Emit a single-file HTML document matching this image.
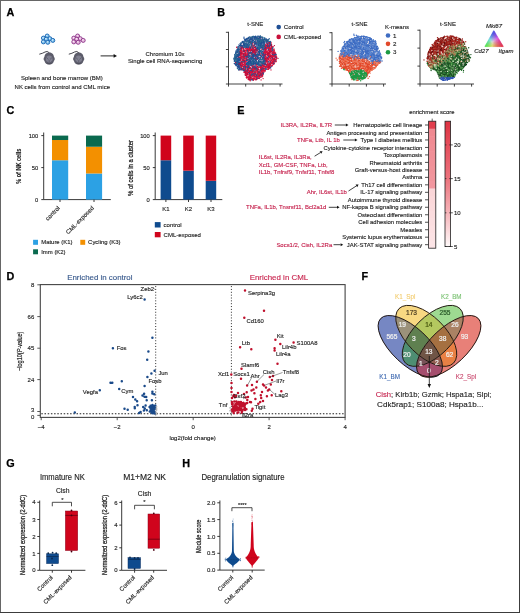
<!DOCTYPE html>
<html><head><meta charset="utf-8"><style>
html,body{margin:0;padding:0;background:#fff;}
body{width:520px;height:613px;overflow:hidden;position:relative;}
svg{position:absolute;left:0;top:0;will-change:transform;}
svg text{font-family:"Liberation Sans", sans-serif;}
</style></head><body>
<svg width="520" height="613" viewBox="0 0 520 613">
<rect x="0" y="0" width="520" height="613" fill="#fff"/>
<text x="6.5" y="16.2" font-size="10.8" text-anchor="start" fill="#000" stroke="#000" stroke-width="0.25" font-weight="bold" >A</text>
<text x="217.2" y="15.9" font-size="10.8" text-anchor="start" fill="#000" stroke="#000" stroke-width="0.25" font-weight="bold" >B</text>
<text x="6.5" y="113.9" font-size="10.8" text-anchor="start" fill="#000" stroke="#000" stroke-width="0.25" font-weight="bold" >C</text>
<text x="237.2" y="113.9" font-size="10.8" text-anchor="start" fill="#000" stroke="#000" stroke-width="0.25" font-weight="bold" >E</text>
<text x="6.5" y="279.8" font-size="10.8" text-anchor="start" fill="#000" stroke="#000" stroke-width="0.25" font-weight="bold" >D</text>
<text x="361.5" y="279.6" font-size="10.8" text-anchor="start" fill="#000" stroke="#000" stroke-width="0.25" font-weight="bold" >F</text>
<text x="6.3" y="467.3" font-size="10.8" text-anchor="start" fill="#000" stroke="#000" stroke-width="0.25" font-weight="bold" >G</text>
<text x="182.3" y="467.4" font-size="10.8" text-anchor="start" fill="#000" stroke="#000" stroke-width="0.25" font-weight="bold" >H</text>
<circle cx="47.2" cy="36.0" r="2.0" fill="#82c4ee" stroke="#1d68b4" stroke-width="0.95"/>
<circle cx="43.4" cy="38.099999999999994" r="2.0" fill="#82c4ee" stroke="#1d68b4" stroke-width="0.95"/>
<circle cx="49.9" cy="38.699999999999996" r="2.0" fill="#82c4ee" stroke="#1d68b4" stroke-width="0.95"/>
<circle cx="52.800000000000004" cy="40.4" r="2.0" fill="#82c4ee" stroke="#1d68b4" stroke-width="0.95"/>
<circle cx="46.300000000000004" cy="39.199999999999996" r="2.0" fill="#82c4ee" stroke="#1d68b4" stroke-width="0.95"/>
<circle cx="43.4" cy="41.9" r="2.0" fill="#82c4ee" stroke="#1d68b4" stroke-width="0.95"/>
<circle cx="47.800000000000004" cy="42.3" r="2.0" fill="#82c4ee" stroke="#1d68b4" stroke-width="0.95"/>
<circle cx="46.800000000000004" cy="35.6" r="0.7" fill="#fff" opacity="0.8"/>
<circle cx="43.0" cy="37.699999999999996" r="0.7" fill="#fff" opacity="0.8"/>
<circle cx="49.5" cy="38.3" r="0.7" fill="#fff" opacity="0.8"/>
<circle cx="52.400000000000006" cy="40.0" r="0.7" fill="#fff" opacity="0.8"/>
<circle cx="45.900000000000006" cy="38.8" r="0.7" fill="#fff" opacity="0.8"/>
<circle cx="43.0" cy="41.5" r="0.7" fill="#fff" opacity="0.8"/>
<circle cx="47.400000000000006" cy="41.9" r="0.7" fill="#fff" opacity="0.8"/>
<circle cx="77.6" cy="36.0" r="2.0" fill="#e6b4dc" stroke="#8e3a8c" stroke-width="0.95"/>
<circle cx="73.8" cy="38.099999999999994" r="2.0" fill="#e6b4dc" stroke="#8e3a8c" stroke-width="0.95"/>
<circle cx="80.3" cy="38.699999999999996" r="2.0" fill="#e6b4dc" stroke="#8e3a8c" stroke-width="0.95"/>
<circle cx="83.2" cy="40.4" r="2.0" fill="#e6b4dc" stroke="#8e3a8c" stroke-width="0.95"/>
<circle cx="76.7" cy="39.199999999999996" r="2.0" fill="#e6b4dc" stroke="#8e3a8c" stroke-width="0.95"/>
<circle cx="73.8" cy="41.9" r="2.0" fill="#e6b4dc" stroke="#8e3a8c" stroke-width="0.95"/>
<circle cx="78.2" cy="42.3" r="2.0" fill="#e6b4dc" stroke="#8e3a8c" stroke-width="0.95"/>
<circle cx="77.19999999999999" cy="35.6" r="0.7" fill="#fff" opacity="0.8"/>
<circle cx="73.39999999999999" cy="37.699999999999996" r="0.7" fill="#fff" opacity="0.8"/>
<circle cx="79.89999999999999" cy="38.3" r="0.7" fill="#fff" opacity="0.8"/>
<circle cx="82.8" cy="40.0" r="0.7" fill="#fff" opacity="0.8"/>
<circle cx="76.3" cy="38.8" r="0.7" fill="#fff" opacity="0.8"/>
<circle cx="73.39999999999999" cy="41.5" r="0.7" fill="#fff" opacity="0.8"/>
<circle cx="77.8" cy="41.9" r="0.7" fill="#fff" opacity="0.8"/>
<path d="M39.300000000000004 54.2 Q42.7 53.4 45.0 52.0 Q47.400000000000006 50.400000000000006 49.5 53.0" fill="none" stroke="#3c3c44" stroke-width="0.95"/>
<path d="M49.2 52.6 C52.800000000000004 52.6 53.800000000000004 55.1 54.0 57.1 C55.0 57.800000000000004 55.1 60.2 54.0 60.800000000000004 C53.400000000000006 63.4 51.6 64.6 49.2 64.6 C46.800000000000004 64.6 45.0 63.4 44.400000000000006 60.800000000000004 C43.300000000000004 60.2 43.400000000000006 57.800000000000004 44.400000000000006 57.1 C44.6 55.1 45.6 52.6 49.2 52.6Z" fill="#5c5c6a"/>
<ellipse cx="49.2" cy="59.2" rx="3.3" ry="3.6" fill="#7e7e8e"/>
<path d="M46.2 57.4 L48.400000000000006 59.4 M52.2 57.4 L50.0 59.4 M49.2 60.1 L49.2 62.800000000000004 M46.6 61.2 L48.2 63.2 M51.800000000000004 61.2 L50.2 63.2" stroke="#4a4a58" stroke-width="0.55"/>
<ellipse cx="49.2" cy="63.800000000000004" rx="2.6" ry="0.8" fill="#4a4a55" opacity="0.6"/>
<path d="M68.8 54.2 Q72.2 53.4 74.5 52.0 Q76.9 50.400000000000006 79.0 53.0" fill="none" stroke="#3c3c44" stroke-width="0.95"/>
<path d="M78.7 52.6 C82.3 52.6 83.3 55.1 83.5 57.1 C84.5 57.800000000000004 84.60000000000001 60.2 83.5 60.800000000000004 C82.9 63.4 81.10000000000001 64.6 78.7 64.6 C76.3 64.6 74.5 63.4 73.9 60.800000000000004 C72.8 60.2 72.9 57.800000000000004 73.9 57.1 C74.10000000000001 55.1 75.10000000000001 52.6 78.7 52.6Z" fill="#5c5c6a"/>
<ellipse cx="78.7" cy="59.2" rx="3.3" ry="3.6" fill="#7e7e8e"/>
<path d="M75.7 57.4 L77.9 59.4 M81.7 57.4 L79.5 59.4 M78.7 60.1 L78.7 62.800000000000004 M76.10000000000001 61.2 L77.7 63.2 M81.3 61.2 L79.7 63.2" stroke="#4a4a58" stroke-width="0.55"/>
<ellipse cx="78.7" cy="63.800000000000004" rx="2.6" ry="0.8" fill="#4a4a55" opacity="0.6"/>
<text x="61.9" y="79.6" font-size="6" text-anchor="middle" fill="#222" stroke="#222" stroke-width="0.13" >Spleen and bone marrow (BM)</text>
<text x="62.3" y="88.6" font-size="6" text-anchor="middle" fill="#222" stroke="#222" stroke-width="0.13" >NK cells from control and CML mice</text>
<path d="M100.6 55.9 H115" stroke="#111" stroke-width="0.9"/><path d="M113.6 54.1 L117 55.9 L113.6 57.7 Z" fill="#111"/>
<text x="165.0" y="55.6" font-size="6" text-anchor="middle" fill="#222" stroke="#222" stroke-width="0.13" >Chromium 10x</text>
<text x="165.2" y="63.3" font-size="6" text-anchor="middle" fill="#222" stroke="#222" stroke-width="0.13" >Single cell RNA-sequencing</text>
<path d="M228.5 31.799999999999997 V84.0 H282.5" fill="none" stroke="#222" stroke-width="0.85"/><path d="M228.5 84.0 h-2.6 M228.5 84.0 v2.6 M228.5 66.8 h-2.6 M245.7 84.0 v2.6 M228.5 49.5 h-2.6 M262.9 84.0 v2.6 M228.5 32.3 h-2.6 M280.1 84.0 v2.6 " stroke="#222" stroke-width="0.85"/>
<text x="255.3" y="25.8" font-size="6" text-anchor="middle" fill="#222" stroke="#222" stroke-width="0.13" >t-SNE</text>
<path d="M245.9 39.9 L251.4 37.6 L259.0 37.1 L265.5 39.3 L269.8 42.0 L270.8 45.8 L272.5 49.1 L274.1 53.4 L275.7 57.7 L275.2 61.0 L272.5 64.2 L268.7 68.5 L265.5 69.7 L263.3 71.8 L262.2 75.1 L260.0 77.3 L255.7 78.9 L250.2 79.4 L247.0 77.3 L245.3 72.9 L243.8 69.7 L240.5 69.1 L237.8 67.5 L235.6 63.2 L235.1 58.8 L236.1 53.4 L237.8 49.1 L240.5 44.7 L243.2 42.0Z" fill="#7a3a6a" opacity="0.18"/>
<path d="M243.6 60.4h0M271.9 57.0h0M250.7 72.4h0M265.1 44.7h0M273.3 52.6h0M243.5 49.0h0M244.2 56.2h0M258.5 69.4h0M241.3 55.3h0M270.5 55.4h0M272.8 56.0h0M252.4 79.5h0M273.5 61.9h0M254.4 71.6h0M261.2 75.3h0M251.9 57.0h0M265.2 52.7h0M268.2 52.7h0M255.2 67.8h0M257.0 67.5h0M244.7 56.6h0M268.6 66.2h0M263.2 74.1h0M258.3 73.7h0M266.9 53.3h0M264.0 70.3h0M274.2 59.1h0M246.2 68.0h0M254.5 52.8h0M271.4 46.2h0M247.0 54.7h0M246.0 51.6h0M246.2 66.6h0M266.9 60.3h0M257.3 71.1h0M268.0 69.0h0M271.7 57.6h0M262.7 57.9h0M268.6 64.1h0M257.2 78.5h0M271.6 63.1h0M271.7 55.3h0M240.1 58.2h0M246.6 56.6h0M265.3 52.0h0M251.0 42.7h0M276.8 57.2h0M251.5 45.6h0M265.4 63.3h0M253.9 70.4h0M261.8 76.1h0M242.7 61.2h0M269.6 44.5h0M265.5 48.6h0M245.3 55.1h0M249.1 74.9h0M252.3 50.7h0M251.7 47.0h0M273.8 56.8h0M263.3 65.2h0M248.8 79.5h0M248.4 70.0h0M271.1 43.2h0M265.0 51.8h0M262.3 75.9h0M257.2 78.1h0M274.1 55.5h0M254.3 76.6h0M270.4 43.4h0M236.6 55.6h0M254.5 54.6h0M259.1 76.4h0M246.3 77.1h0M252.4 49.5h0M274.1 53.5h0M250.2 74.8h0M240.8 46.6h0M242.8 55.6h0M253.0 58.0h0M267.2 60.8h0M266.6 48.5h0M241.7 54.0h0M241.9 58.5h0M272.1 59.0h0M247.6 70.6h0M249.6 75.7h0M269.2 46.9h0M266.2 57.6h0M268.3 53.2h0M245.5 67.6h0M269.1 53.1h0M243.0 56.1h0M262.7 69.4h0M268.7 58.3h0M246.6 57.0h0M266.5 59.8h0M263.3 58.9h0M274.7 54.6h0M242.0 50.6h0M272.7 61.3h0M266.7 51.9h0M241.7 63.3h0M254.4 52.6h0M262.0 68.4h0M246.0 75.0h0M270.3 54.6h0M247.1 52.9h0M246.3 74.2h0M246.9 66.0h0M272.2 51.0h0M252.6 70.9h0M254.5 52.8h0M272.4 60.6h0M270.3 48.0h0M260.8 70.8h0M252.6 53.1h0M259.7 53.8h0M254.7 55.6h0M257.8 51.9h0M271.3 62.1h0M266.8 45.6h0M264.4 63.8h0M250.7 76.0h0M244.8 52.1h0M267.1 53.2h0M258.8 73.6h0M267.1 47.9h0M242.5 68.7h0M254.2 70.3h0M270.4 44.1h0M260.9 73.4h0M257.9 75.9h0M254.1 67.6h0M261.3 74.9h0M239.9 60.5h0M250.4 80.0h0M249.6 68.0h0M268.5 49.1h0M245.8 71.8h0M261.2 64.2h0M239.0 53.7h0M247.1 76.7h0M272.3 55.6h0M273.3 61.3h0M255.9 66.6h0M246.6 77.0h0M256.4 52.0h0M252.6 75.2h0M245.2 64.1h0M255.7 47.7h0M243.7 50.2h0M243.7 70.0h0M270.9 56.5h0M252.7 52.4h0M256.7 48.6h0M243.6 44.4h0M252.0 65.9h0M264.3 51.0h0M242.2 60.5h0M273.6 64.2h0M260.2 55.7h0M249.7 59.7h0M246.8 64.2h0M268.1 48.8h0M262.3 67.7h0M264.9 70.7h0M261.4 65.7h0M261.2 53.8h0M265.6 56.2h0M259.6 74.4h0M275.3 59.7h0M242.1 63.5h0M272.5 53.6h0M242.2 69.2h0M271.4 55.4h0M257.5 58.1h0M257.4 71.6h0M275.9 61.8h0M244.7 58.4h0M265.9 50.1h0M263.9 72.3h0M271.9 60.4h0M254.1 75.8h0M240.0 60.0h0M253.4 79.6h0M267.0 43.3h0M243.8 59.2h0M240.7 58.6h0M274.0 61.5h0M248.7 56.0h0M257.6 74.3h0M240.7 64.2h0M262.2 68.2h0M253.2 67.5h0M254.1 58.5h0M274.9 52.4h0M264.0 71.5h0M271.2 62.4h0M261.8 77.0h0M249.1 71.2h0M247.1 61.1h0M257.9 56.5h0M250.5 68.7h0M273.5 63.6h0M274.9 60.0h0M245.6 65.6h0M252.6 43.1h0M269.0 67.5h0M251.0 78.1h0M243.5 48.3h0M253.0 76.1h0M275.5 61.5h0M255.9 58.1h0M270.5 43.1h0M251.6 75.5h0M251.9 74.3h0M247.9 51.8h0M251.9 45.5h0M272.9 59.2h0M269.5 43.3h0M264.3 59.9h0M253.0 75.2h0M258.5 67.4h0M258.1 54.1h0M242.4 65.8h0M252.6 78.2h0M269.6 50.1h0M265.4 55.0h0M261.1 67.2h0M251.8 71.6h0M245.2 69.6h0M267.0 51.5h0M266.6 58.7h0M250.2 72.8h0M240.9 61.6h0M246.6 75.4h0M268.0 62.4h0M240.8 51.9h0M247.8 55.0h0M264.9 65.9h0M248.5 55.0h0M251.0 65.0h0M268.5 57.1h0M267.0 52.4h0M268.7 59.2h0M253.9 50.5h0M267.7 65.2h0M269.6 52.6h0M264.3 47.7h0M245.2 65.9h0M264.3 57.7h0M261.0 74.6h0M271.8 63.1h0M254.5 51.2h0M254.2 50.7h0M240.7 58.6h0M264.0 55.6h0M247.4 52.9h0M272.1 56.6h0M240.5 50.9h0M246.7 71.2h0M262.2 67.6h0M246.9 73.0h0M247.3 57.5h0M262.1 75.2h0M262.0 75.0h0M268.9 42.5h0M263.8 45.4h0M245.5 64.4h0M271.9 48.6h0M273.0 54.0h0M259.3 72.5h0M260.7 53.9h0M268.1 55.2h0M264.7 59.2h0M268.1 63.8h0M274.6 55.0h0M250.4 50.7h0M254.1 54.0h0M251.5 52.9h0M245.9 70.2h0M264.9 66.4h0M269.4 54.9h0M263.0 53.7h0M249.4 61.5h0M273.3 53.4h0M249.5 75.0h0M255.7 68.3h0M254.4 51.5h0M246.3 77.6h0M256.3 42.6h0M246.5 72.5h0M258.7 71.3h0M247.6 48.4h0M265.5 60.0h0M247.2 64.6h0M267.5 44.9h0M265.4 45.5h0M260.6 45.5h0M256.9 67.2h0M249.4 48.1h0M236.2 57.8h0M265.5 46.4h0M270.6 63.8h0M244.7 70.9h0M267.7 41.8h0M249.0 76.2h0M249.5 77.9h0M274.8 56.2h0M258.3 75.7h0M251.3 39.4h0M265.8 61.5h0M263.4 58.2h0M244.0 72.4h0M264.0 49.6h0M267.5 41.7h0M250.7 73.1h0M243.7 58.0h0M274.8 61.5h0M274.5 52.8h0M264.5 46.8h0M270.8 43.7h0M252.2 66.1h0M242.2 68.8h0M266.3 49.6h0M247.2 66.8h0M255.2 53.7h0M242.4 60.0h0M247.6 48.1h0M246.1 58.2h0M251.3 75.0h0M254.5 73.6h0M258.6 76.6h0M266.8 65.6h0M245.9 62.3h0M266.0 50.2h0M265.2 46.5h0M257.4 76.8h0M267.1 51.2h0M251.5 49.0h0M241.6 58.7h0M262.0 69.2h0M262.4 73.9h0M245.4 66.6h0M255.4 77.0h0M271.1 45.5h0M273.5 51.1h0M261.0 64.8h0M268.9 56.0h0M255.0 72.5h0M248.1 73.1h0M255.1 51.5h0M261.4 73.5h0M247.7 50.0h0M250.0 50.8h0M243.0 54.5h0M254.1 56.2h0M262.0 76.2h0M265.3 67.0h0M270.9 60.2h0M264.9 54.0h0M241.4 56.7h0M240.1 62.6h0M236.0 62.5h0M251.9 50.1h0M267.4 52.3h0M253.8 77.2h0M255.4 41.6h0M264.1 69.6h0M243.6 51.0h0M258.7 71.7h0M249.5 75.8h0M265.6 51.1h0M261.2 68.6h0M258.3 74.2h0M248.3 65.3h0M247.7 55.0h0M267.6 47.0h0M259.0 38.1h0M241.2 58.1h0M256.6 59.8h0M248.6 67.9h0M256.4 48.1h0M276.6 58.8h0M255.5 72.5h0M265.3 70.5h0M250.0 76.8h0M268.6 67.1h0M272.0 46.4h0M244.0 57.4h0M254.8 74.2h0M272.0 66.1h0M273.8 49.4h0M257.5 73.3h0M250.9 50.0h0M256.4 77.2h0M268.1 55.5h0M246.4 58.1h0M260.2 72.2h0M263.6 52.4h0M263.4 47.1h0M243.2 57.0h0M255.6 48.0h0M255.4 52.7h0M246.1 60.0h0M262.7 75.9h0M252.2 43.5h0M239.5 51.4h0M257.9 72.1h0M255.3 77.0h0M274.0 55.6h0M251.1 49.7h0M260.4 57.4h0M261.8 76.2h0M243.2 53.1h0M248.3 72.2h0M267.3 46.6h0M263.9 58.5h0M240.8 51.4h0M259.3 53.4h0M248.8 49.7h0M273.4 61.3h0M265.7 67.1h0M241.0 53.1h0M243.4 60.5h0M272.6 65.1h0M240.6 69.0h0M269.8 54.8h0M257.7 69.4h0M255.7 49.6h0M257.8 76.0h0M246.0 66.9h0M260.7 67.2h0M268.6 46.0h0M255.1 71.6h0M267.1 54.5h0M245.1 72.7h0M274.9 53.4h0M269.0 56.7h0M256.3 54.4h0M247.0 55.9h0M270.1 51.4h0M271.6 51.2h0M271.1 62.8h0M269.0 45.8h0M264.8 53.0h0M270.0 64.9h0M265.8 46.6h0M246.4 48.1h0M243.8 47.8h0M256.6 64.3h0M256.9 55.8h0M243.1 55.4h0M248.5 77.5h0M253.3 78.6h0M240.2 54.5h0M238.4 56.6h0M260.4 55.6h0M273.9 61.7h0M244.5 55.6h0M253.0 51.2h0M240.7 66.8h0M264.4 69.9h0M252.3 49.8h0M271.0 51.2h0M249.5 70.9h0M267.9 58.1h0M254.3 67.5h0M253.4 69.9h0M252.4 71.0h0M266.5 40.3h0M267.7 64.5h0M262.4 76.2h0M260.3 69.7h0M252.6 48.3h0M263.0 74.4h0M257.0 49.0h0M239.8 60.1h0M266.0 68.0h0M256.2 69.0h0M247.6 74.0h0M263.9 51.9h0M272.7 58.6h0M256.1 68.5h0M259.1 76.3h0M242.0 52.0h0M246.5 74.5h0M271.4 65.8h0M240.2 49.9h0M241.5 69.4h0M261.8 67.8h0M243.1 61.9h0M252.0 78.8h0M246.9 54.3h0M253.1 71.0h0M256.2 65.2h0M241.6 54.1h0M253.9 48.5h0M268.3 59.9h0M263.9 65.3h0M273.0 63.6h0M240.1 57.5h0M262.5 67.6h0M251.5 53.6h0M272.4 61.4h0M266.8 43.7h0M247.3 71.0h0M254.2 55.8h0M247.4 49.2h0M261.7 62.8h0M241.2 56.4h0M265.4 53.4h0M253.1 70.0h0M251.9 76.7h0M267.1 51.9h0M252.2 49.0h0M259.8 69.9h0M269.9 45.9h0M241.0 66.8h0M242.0 66.7h0M266.7 65.5h0M265.8 66.5h0M263.1 55.3h0M254.6 74.7h0M262.6 72.4h0M245.7 61.3h0M246.8 50.1h0M254.5 51.7h0M240.4 62.9h0M269.3 68.5h0M249.1 66.2h0M250.2 80.7h0M250.8 71.4h0M257.3 49.4h0M254.2 49.9h0M240.9 46.6h0M268.7 43.8h0M261.2 69.7h0M264.9 58.1h0M248.8 48.3h0M248.2 79.6h0M246.7 50.9h0M246.9 56.4h0M265.5 51.5h0M251.6 69.4h0M274.3 62.0h0M250.5 78.2h0M266.5 57.2h0M260.4 65.6h0M274.8 52.5h0M252.1 75.3h0M248.9 53.9h0M255.4 79.8h0M245.3 61.7h0M266.1 50.8h0M249.7 72.3h0M238.4 57.5h0M249.9 80.5h0M265.3 50.9h0M251.4 43.5h0M247.6 56.7h0M243.0 62.8h0M247.3 53.3h0M272.0 63.6h0M245.8 48.9h0M240.6 59.9h0M246.8 77.4h0M250.6 74.8h0M241.4 65.4h0M255.2 50.3h0M250.3 51.1h0M257.3 66.3h0M267.4 61.2h0M244.9 46.2h0M247.5 69.8h0M270.1 55.9h0M270.3 50.4h0M239.7 55.0h0M255.5 79.2h0M250.2 49.7h0M257.3 68.5h0M246.2 74.0h0M260.8 69.1h0M251.0 50.2h0M274.3 63.1h0M255.6 43.8h0M261.3 53.3h0M265.7 51.3h0M255.0 50.2h0M255.6 69.9h0M256.7 76.0h0M253.3 51.2h0M246.0 74.7h0M249.7 52.8h0M245.1 56.8h0M248.7 64.9h0M240.7 50.6h0M240.6 64.6h0M273.1 54.2h0M259.9 67.2h0M239.5 62.5h0M255.9 48.0h0M270.1 58.2h0M246.6 46.5h0M241.6 56.8h0M267.7 41.7h0M241.6 65.3h0M250.8 65.0h0M268.9 47.6h0M240.8 69.1h0M241.1 49.9h0M268.3 65.5h0M247.1 55.0h0M253.0 70.1h0M244.2 50.9h0M262.0 66.8h0M274.6 58.3h0M258.8 72.6h0M240.8 56.0h0M245.5 54.7h0M274.3 63.7h0M250.1 71.4h0M263.8 71.3h0M255.5 39.9h0M266.2 49.5h0M271.1 49.1h0M252.5 52.2h0M244.1 70.2h0M254.0 49.8h0M263.3 67.1h0M264.9 51.3h0M263.9 70.4h0M244.5 55.3h0M256.6 76.5h0M257.5 72.3h0M251.5 50.1h0M263.9 69.0h0M275.5 61.3h0M273.8 56.8h0M250.7 50.3h0M258.1 77.9h0M262.6 55.0h0M273.2 62.0h0M242.0 47.2h0M241.5 58.5h0M258.2 68.3h0M256.6 79.2h0M245.2 65.5h0M264.7 51.7h0M262.1 72.2h0M255.2 79.3h0M239.0 54.3h0M251.1 49.8h0M249.8 77.3h0M259.1 73.2h0M269.0 56.5h0M253.1 72.4h0M253.9 79.5h0M243.9 64.1h0M262.1 68.6h0M250.2 53.7h0M274.1 59.0h0M240.1 55.5h0M235.9 59.3h0M260.6 68.5h0M259.0 45.6h0M260.8 67.9h0M250.4 52.0h0M243.2 51.5h0M252.7 72.0h0M250.1 47.7h0M239.8 52.8h0M251.2 72.7h0M244.6 66.2h0M249.1 50.3h0M272.2 51.3h0M268.0 58.5h0M241.5 62.3h0M265.4 49.9h0M241.5 68.5h0M263.5 68.7h0M244.1 71.9h0M254.9 72.1h0M254.1 49.4h0M256.0 71.6h0M256.8 75.6h0M273.8 60.9h0M272.9 62.2h0M253.4 80.3h0M245.0 66.6h0M271.5 63.6h0M247.4 66.2h0M248.5 51.1h0M245.3 48.9h0M268.7 45.8h0M270.5 61.6h0M251.6 65.3h0M247.7 71.9h0M256.0 76.0h0M252.3 53.5h0M268.6 52.9h0M249.6 66.9h0M257.4 76.7h0M252.3 69.4h0M247.6 48.3h0M241.3 69.7h0M271.6 48.0h0M271.9 53.4h0M268.6 56.3h0M254.2 76.0h0M254.2 50.4h0M275.3 59.0h0M256.9 74.6h0M242.1 59.3h0M259.9 55.5h0M266.0 68.9h0M263.1 52.4h0M243.3 48.9h0M265.4 56.2h0M242.5 64.3h0M253.2 42.8h0M269.9 53.4h0M266.0 57.7h0M245.9 58.7h0M244.7 50.5h0M247.4 67.7h0M270.3 66.7h0M251.7 72.8h0M274.8 52.0h0M270.6 62.6h0M255.8 67.7h0M247.7 46.8h0M261.7 67.4h0M246.7 66.1h0M253.6 78.5h0M243.9 65.2h0M257.8 70.8h0M252.2 78.6h0M248.1 55.7h0M270.3 67.1h0M254.0 65.8h0M239.4 69.7h0M269.3 50.4h0M256.4 49.6h0M243.6 66.5h0M254.4 67.9h0M256.0 54.4h0M242.9 47.8h0M263.2 70.6h0M253.5 73.4h0M245.5 75.4h0M252.2 44.2h0M275.2 60.5h0M261.2 67.9h0M246.6 76.7h0M259.1 67.1h0M240.0 64.8h0M260.7 73.6h0M256.9 56.8h0M244.6 66.5h0M242.4 62.7h0M245.6 66.7h0M241.6 58.1h0M244.4 46.8h0M248.8 79.0h0M250.0 80.3h0M259.9 72.0h0M261.4 47.5h0M265.2 64.4h0M252.5 65.3h0M255.5 37.4h0M270.0 53.2h0M255.1 43.0h0M248.4 69.1h0M255.0 47.3h0M270.1 65.3h0M265.4 68.5h0M270.4 61.9h0M270.3 65.1h0M263.8 66.2h0M249.5 52.4h0M239.3 53.8h0M243.2 60.1h0M268.5 69.3h0M242.2 56.4h0M251.6 56.5h0M257.0 74.8h0M254.7 71.9h0M272.3 55.5h0M261.7 49.1h0M266.0 54.2h0M247.2 59.2h0M249.5 48.5h0M274.3 53.3h0M239.1 66.7h0M264.4 70.1h0M243.4 66.8h0M243.6 66.5h0M246.5 78.1h0M265.7 55.6h0M250.8 79.4h0M269.9 62.3h0M267.2 66.4h0M242.0 62.3h0M273.6 63.5h0M255.2 76.1h0M248.4 70.2h0M241.0 69.2h0M252.9 50.2h0M240.1 59.1h0M242.9 57.5h0M244.5 55.0h0M247.5 65.1h0M241.7 48.3h0M241.8 49.7h0M248.1 55.4h0M241.2 50.0h0M266.8 47.8h0M257.4 76.6h0M264.4 46.2h0M246.8 47.3h0M248.2 72.1h0M247.0 56.5h0M246.8 70.9h0M259.4 73.8h0M266.8 60.8h0M240.2 48.5h0M263.1 73.7h0M271.5 48.3h0M248.4 69.4h0M246.4 60.7h0M248.3 78.7h0M262.9 69.8h0M267.9 46.5h0M250.4 42.4h0M252.1 54.0h0M258.3 54.9h0M260.3 66.7h0M237.4 47.9h0M257.3 48.1h0M239.4 59.3h0M258.9 75.5h0M253.3 70.8h0M250.3 68.3h0M263.9 66.6h0M274.3 50.7h0M266.3 47.2h0M264.9 59.3h0M273.8 60.0h0M276.3 61.3h0M269.9 62.0h0M252.5 71.7h0M250.0 79.0h0M264.2 68.5h0M270.2 48.4h0M264.7 66.5h0M276.1 56.5h0M260.3 75.3h0M269.4 60.3h0M271.6 56.4h0M239.9 59.1h0M253.3 75.2h0M267.8 54.3h0M268.7 59.6h0M256.8 68.1h0M265.3 71.1h0M266.4 60.1h0M245.0 74.1h0M257.6 55.0h0M270.7 61.5h0M246.3 55.5h0M254.3 76.4h0M271.3 46.5h0M271.6 45.8h0M274.6 52.3h0M257.4 59.2h0M268.9 43.4h0M272.7 48.9h0M258.3 72.7h0M269.4 56.8h0M246.8 49.4h0M247.4 57.5h0M259.9 70.2h0M265.8 66.4h0M263.8 72.0h0M273.4 63.9h0M268.5 48.7h0M272.4 48.4h0M257.1 75.2h0M248.4 49.6h0M266.1 68.2h0M257.0 76.6h0M273.4 61.6h0M251.0 39.3h0M239.5 66.0h0M247.2 53.8h0M273.3 54.0h0M239.2 64.5h0M271.6 50.8h0M249.9 79.4h0M246.4 60.1h0M258.8 74.2h0M273.2 58.5h0M253.0 45.9h0M257.0 76.6h0M270.2 52.9h0M270.9 45.3h0M254.3 73.6h0M258.9 72.7h0M262.8 75.0h0M250.4 72.0h0M264.3 52.8h0M250.4 48.1h0M268.1 52.4h0M239.3 56.9h0M254.4 72.6h0M273.2 56.6h0M245.6 61.9h0M269.2 67.6h0M246.0 71.0h0M261.6 76.2h0M261.0 65.8h0M273.3 55.8h0M244.2 69.9h0M253.8 52.2h0M268.1 54.7h0M260.5 70.3h0M272.4 54.0h0M259.6 65.7h0M243.0 51.8h0M245.9 73.7h0M266.5 64.5h0M256.1 69.6h0M252.4 68.1h0M245.8 48.3h0M258.8 49.6h0M243.5 57.7h0M273.9 54.8h0M263.2 68.5h0M250.3 60.4h0M253.0 74.6h0M255.0 77.2h0M264.8 56.3h0M274.6 60.4h0M255.1 52.7h0M261.4 70.8h0M255.1 69.0h0M243.8 68.3h0M269.5 47.5h0M247.4 72.9h0M250.6 48.8h0M274.9 59.2h0M242.6 53.7h0M274.3 52.5h0M270.4 52.3h0M266.1 52.4h0M268.9 56.9h0M266.6 45.5h0M243.7 56.4h0M249.2 67.4h0M256.5 69.2h0M248.7 69.9h0M241.3 52.4h0M264.5 48.1h0M254.0 67.1h0M240.2 57.7h0M264.3 68.1h0M268.0 58.7h0M258.7 71.5h0M257.4 68.0h0M266.4 43.9h0M272.2 50.0h0M264.3 70.3h0M262.3 71.5h0M259.3 53.5h0M245.9 52.2h0M240.4 54.2h0M267.1 60.8h0M272.9 57.9h0M249.3 74.8h0M258.6 74.4h0M248.9 69.2h0M255.3 50.3h0M249.9 49.8h0M260.4 77.3h0M246.2 71.5h0M246.9 76.9h0M265.0 46.5h0M254.7 42.8h0M248.7 72.4h0M255.8 74.3h0M248.3 67.8h0M273.4 55.7h0M251.0 70.9h0M249.4 74.7h0M267.6 55.1h0M263.0 57.1h0M271.9 63.3h0M236.1 59.4h0M241.9 67.0h0M259.6 54.2h0M240.4 53.4h0M246.8 54.0h0M255.6 48.9h0M268.4 45.3h0M268.4 46.4h0M267.3 56.0h0M250.2 71.7h0M247.2 77.7h0M254.7 78.4h0M266.3 41.0h0M241.5 69.1h0M253.3 66.5h0M259.1 78.2h0M271.0 48.6h0M254.2 53.5h0M270.2 48.5h0M276.0 55.1h0M244.8 63.3h0M249.2 74.1h0M270.4 56.7h0M275.0 61.3h0M254.8 63.8h0M261.9 70.5h0M260.9 37.8h0M265.2 63.4h0M257.6 50.5h0M264.8 55.9h0M270.9 61.4h0M248.5 41.4h0M255.3 73.5h0M253.2 74.1h0M246.9 74.3h0M267.9 69.4h0M258.1 76.2h0M261.4 71.3h0M251.0 77.7h0M274.2 56.8h0M273.7 51.9h0M253.7 71.1h0M258.2 48.1h0M267.5 63.2h0M269.4 51.1h0M269.4 64.5h0M271.0 55.8h0M245.5 54.3h0M250.8 73.5h0M265.9 66.9h0M241.3 69.8h0M270.5 58.8h0M263.8 53.1h0M267.3 64.8h0M252.7 46.0h0M268.4 67.0h0M269.2 49.1h0M255.2 72.0h0M268.3 67.8h0M235.7 58.8h0M263.0 74.4h0M256.1 68.8h0M269.6 57.9h0M248.3 66.9h0M270.4 62.1h0M264.3 61.3h0M272.8 62.6h0M269.9 51.7h0M268.0 65.6h0M244.2 69.1h0M269.3 52.1h0M236.4 55.1h0M269.5 49.0h0M249.7 68.1h0M247.6 68.5h0M247.1 71.0h0M249.9 55.9h0M256.7 72.0h0M276.0 55.5h0M270.6 50.5h0M249.7 71.9h0M249.1 65.6h0M274.2 53.4h0M257.0 55.4h0M250.7 68.5h0M250.4 51.9h0M252.0 76.5h0M261.6 72.0h0M262.2 49.6h0M266.4 59.4h0M247.1 49.1h0M254.1 66.4h0M263.6 56.9h0M266.9 64.6h0M271.8 47.5h0M251.8 71.7h0M255.1 67.9h0M266.4 46.9h0M250.6 76.0h0M248.5 76.8h0M248.7 52.4h0M269.9 63.5h0M255.2 74.8h0M238.5 51.1h0M275.3 55.6h0M269.4 64.0h0M249.4 76.1h0M271.1 42.8h0M263.2 54.3h0M262.4 72.7h0M253.8 74.0h0M238.4 67.3h0M240.1 47.8h0M269.0 48.3h0M254.9 55.0h0M259.3 77.3h0M264.5 61.0h0M271.9 59.5h0M252.3 70.4h0M251.3 71.4h0M273.1 56.1h0M274.0 53.9h0M268.9 65.9h0M252.1 65.9h0M273.0 55.4h0M272.7 56.8h0M245.9 72.3h0M266.7 62.1h0M252.5 55.0h0M238.2 57.2h0M257.0 70.3h0M254.5 44.4h0M241.3 62.7h0M269.4 60.3h0M255.1 62.3h0M247.9 50.5h0M265.6 62.9h0M239.9 59.7h0M243.0 59.1h0M251.3 37.7h0M241.3 65.1h0M258.9 54.1h0M259.3 75.9h0M244.6 72.0h0M245.6 69.8h0M245.4 60.8h0M258.0 71.9h0M250.6 75.7h0M254.1 71.2h0M240.7 54.8h0M264.0 43.4h0M270.1 57.5h0M264.5 54.5h0M266.4 67.6h0M274.6 58.7h0M239.9 58.2h0M242.8 53.7h0M263.9 47.6h0M261.7 67.3h0M269.0 66.0h0M241.7 53.9h0M240.7 53.2h0M268.0 46.2h0M268.3 50.7h0M265.5 68.0h0M251.2 70.6h0M266.6 46.5h0M253.9 47.0h0M251.2 65.7h0M266.1 60.6h0M244.9 55.0h0M243.8 54.6h0M265.7 47.6h0M264.8 60.1h0M260.1 76.5h0M255.9 70.6h0M275.8 61.1h0M245.4 55.9h0M252.3 69.0h0M258.8 52.7h0M272.2 62.6h0M271.5 57.0h0M265.5 45.0h0M256.4 78.5h0M241.1 51.6h0M257.6 64.3h0M239.5 57.4h0M248.4 53.7h0M265.8 57.6h0M241.5 56.9h0M274.2 60.5h0M241.3 48.5h0M251.4 45.5h0M257.1 76.4h0M240.1 63.6h0M255.9 50.1h0M244.9 67.0h0M257.9 72.0h0M270.5 67.5h0M257.2 57.8h0M250.7 67.8h0M256.2 59.0h0M271.3 47.4h0M241.7 57.6h0M245.8 50.8h0M251.4 42.7h0M248.3 52.8h0M247.0 69.8h0M251.1 74.2h0M264.6 54.5h0M246.8 72.5h0M258.9 75.6h0M249.3 79.3h0M240.9 54.6h0M247.0 75.1h0M252.1 48.0h0M243.2 51.5h0M264.0 71.7h0M248.1 76.9h0M268.7 55.3h0M265.8 58.5h0M255.5 72.1h0M251.6 46.9h0M247.6 45.8h0M272.4 65.8h0M250.1 49.6h0M241.8 58.8h0M272.6 48.0h0M271.6 47.0h0M245.9 59.5h0M264.3 70.8h0M267.9 62.9h0M243.2 64.9h0M253.7 45.9h0M244.3 65.4h0M247.6 54.2h0M249.7 48.8h0M275.4 55.7h0M241.3 67.8h0M256.0 52.2h0M275.0 57.1h0M258.2 41.9h0M244.0 58.6h0M266.3 66.4h0M248.2 77.4h0M243.9 58.4h0M257.1 78.5h0M239.2 65.6h0M242.0 62.5h0M268.4 59.1h0M241.2 50.7h0M243.7 50.8h0M259.5 78.6h0M267.4 69.1h0M268.8 50.3h0M239.3 58.2h0M264.0 68.6h0M272.9 54.9h0M246.0 61.9h0M244.7 68.0h0M259.3 37.8h0M268.1 50.6h0M270.5 62.7h0M262.1 59.8h0M246.9 77.8h0M241.1 66.0h0M273.5 60.4h0M258.5 78.1h0M244.8 53.3h0M264.8 60.3h0M244.4 62.7h0M260.0 70.9h0M262.8 69.6h0M266.8 58.4h0M270.4 58.4h0M259.2 78.4h0M244.9 67.9h0M257.0 78.9h0M253.4 68.3h0M248.1 55.6h0M269.7 67.6h0M246.7 77.1h0M254.3 49.8h0M247.4 67.4h0M269.2 68.0h0M259.4 41.7h0M239.4 58.0h0M264.4 48.7h0M249.4 72.8h0M261.7 73.7h0M243.7 68.7h0M245.2 70.3h0M245.7 53.0h0M263.1 66.8h0M252.4 66.9h0M249.7 52.9h0M270.5 64.7h0M254.2 69.2h0M245.5 61.8h0M249.0 69.6h0M246.4 57.9h0M243.9 53.8h0M268.9 67.2h0M270.2 42.7h0M270.5 45.8h0M241.9 52.8h0M275.0 58.6h0M267.3 58.7h0M244.4 61.6h0M265.0 56.5h0M247.2 77.8h0M269.8 65.0h0M257.8 76.3h0M274.8 56.6h0M243.3 47.4h0M252.5 72.7h0M268.3 47.9h0M275.6 59.8h0M269.3 42.3h0M247.7 74.8h0M266.9 46.7h0M267.1 52.9h0M242.1 64.7h0M268.8 53.7h0M265.1 56.6h0M267.6 53.5h0M264.1 64.8h0M264.2 60.0h0M239.8 45.5h0M261.1 79.9h0M256.5 79.5h0M246.5 77.6h0M275.7 53.2h0M274.3 49.1h0M273.2 46.8h0M246.2 73.5h0M263.1 78.6h0M236.6 47.3h0M271.0 69.9h0M273.4 62.3h0M242.8 69.6h0M272.3 48.3h0" stroke="#d3123c" stroke-width="1.36" stroke-linecap="round" fill="none"/>
<path d="M244.5 45.8h0M261.7 41.9h0M238.9 45.0h0M255.7 52.9h0M263.1 42.5h0M260.6 36.9h0M246.8 38.4h0M260.4 42.1h0M258.1 63.9h0M261.2 56.7h0M241.1 47.9h0M238.7 48.5h0M259.4 48.3h0M262.8 59.5h0M236.7 58.4h0M259.3 51.8h0M254.5 63.0h0M252.5 57.6h0M257.4 40.4h0M257.0 40.1h0M258.4 43.4h0M262.4 40.6h0M255.6 46.4h0M259.6 41.7h0M241.9 46.6h0M257.8 62.2h0M234.5 58.3h0M253.1 54.0h0M265.7 47.7h0M246.6 63.3h0M266.2 69.3h0M239.7 65.1h0M236.7 56.7h0M248.4 63.1h0M248.4 57.6h0M262.1 63.3h0M252.3 38.8h0M257.0 54.5h0M237.5 48.9h0M249.6 42.4h0M246.2 46.2h0M257.0 42.6h0M244.0 41.2h0M257.7 47.9h0M251.5 59.2h0M257.5 54.0h0M260.5 36.2h0M237.4 66.2h0M261.9 44.0h0M247.1 47.5h0M245.5 41.0h0M245.5 41.0h0M252.8 59.9h0M263.8 59.5h0M239.4 63.0h0M249.0 63.0h0M245.0 40.6h0M253.3 57.3h0M252.8 63.8h0M249.4 44.9h0M261.2 65.8h0M256.5 61.8h0M257.2 48.2h0M263.1 63.4h0M259.8 64.3h0M255.0 62.0h0M254.6 43.2h0M237.7 59.6h0M254.4 61.5h0M237.8 60.8h0M275.6 57.2h0M258.6 58.8h0M237.3 67.9h0M237.1 49.6h0M248.1 44.0h0M252.6 40.7h0M238.3 58.3h0M260.0 36.2h0M244.4 51.6h0M243.7 43.3h0M243.8 45.2h0M246.5 44.9h0M244.1 44.4h0M258.0 40.3h0M257.4 53.9h0M257.4 57.3h0M249.9 39.8h0M234.5 58.8h0M259.3 40.8h0M239.0 69.1h0M248.7 63.0h0M262.6 63.1h0M258.2 61.9h0M253.4 61.4h0M254.9 36.9h0M259.0 41.8h0M248.9 58.7h0M260.6 45.5h0M241.6 61.6h0M249.9 61.2h0M262.5 62.0h0M259.2 49.4h0M254.8 37.6h0M267.7 40.2h0M259.0 64.3h0M241.9 42.8h0M251.6 45.2h0M255.4 42.0h0M253.6 40.5h0M251.3 63.1h0M259.6 37.7h0M257.5 64.3h0M263.7 44.0h0M260.4 47.0h0M249.9 58.1h0M254.4 59.2h0M264.4 43.1h0M259.1 38.1h0M248.2 57.2h0M238.7 60.9h0M235.0 56.1h0M264.8 44.0h0M246.6 44.1h0M236.8 59.6h0M272.7 54.4h0M253.3 64.6h0M248.6 43.8h0M247.4 45.0h0M257.9 66.6h0M264.3 39.4h0M243.5 43.8h0M238.8 52.9h0M259.5 47.7h0M245.1 44.8h0M264.4 41.9h0M254.3 41.6h0M255.8 57.0h0M255.6 55.2h0M249.5 37.0h0M253.3 62.4h0M259.7 62.6h0M258.5 63.2h0M246.6 45.8h0M262.5 51.3h0M247.9 43.1h0M261.5 46.9h0M248.2 42.7h0M257.3 38.3h0M246.0 41.6h0M251.5 74.7h0M262.5 41.9h0M268.6 56.2h0M255.6 41.1h0M237.7 65.9h0M267.9 41.0h0M252.7 63.3h0M251.4 42.7h0M243.8 44.0h0M243.4 43.0h0M257.3 57.2h0M252.9 40.1h0M249.3 55.9h0M244.7 39.5h0M254.6 58.6h0M251.7 58.8h0M249.8 41.6h0M245.7 68.5h0M267.5 46.3h0M258.4 40.9h0M254.2 63.4h0M238.2 53.9h0M270.6 67.9h0M250.1 52.9h0M258.5 62.6h0M245.9 45.7h0M258.5 51.4h0M246.7 59.0h0M251.5 50.7h0M254.3 37.0h0M262.0 46.1h0M245.9 39.5h0M256.3 55.4h0M249.5 56.6h0M250.0 59.7h0M236.3 56.2h0M236.7 65.7h0M251.4 43.8h0M243.0 70.2h0M259.2 51.5h0M262.1 65.2h0M260.9 62.3h0M253.5 36.4h0M260.5 50.9h0M264.3 59.9h0M261.3 36.9h0M246.0 47.3h0M270.3 42.3h0M237.1 59.3h0M244.4 43.8h0M239.3 67.7h0M235.6 52.7h0M236.6 64.5h0M264.1 57.7h0M248.5 37.4h0M259.0 64.8h0M235.9 65.6h0M255.5 46.6h0M259.9 47.6h0M240.0 46.2h0M259.3 51.4h0M247.1 64.1h0M255.9 36.6h0M244.4 45.1h0M247.9 59.8h0M248.5 55.1h0M252.1 63.0h0M248.6 66.7h0M253.5 36.4h0M254.8 42.5h0M236.3 55.5h0M255.7 55.0h0M260.1 46.9h0M253.1 48.0h0M241.0 44.3h0M252.9 47.1h0M259.2 46.3h0M243.6 47.5h0M248.8 56.6h0M235.6 53.5h0M243.9 61.8h0M259.1 36.9h0M263.1 55.1h0M256.5 39.0h0M257.2 63.3h0M244.4 61.4h0M234.8 60.5h0M263.3 53.4h0M272.2 58.3h0M257.9 47.8h0M259.5 75.6h0M261.9 55.9h0M248.0 45.5h0M270.6 41.4h0M240.6 44.6h0M250.0 52.6h0M257.2 41.8h0M247.7 60.5h0M250.7 62.0h0M261.0 51.0h0M264.0 39.2h0M241.6 43.0h0M254.2 56.3h0M254.8 41.6h0M251.0 58.4h0M259.0 45.7h0M252.2 55.3h0M240.2 67.4h0M238.2 61.2h0M244.8 40.1h0M257.1 68.9h0M247.5 50.8h0M238.4 46.6h0M248.2 40.4h0M246.5 56.5h0M238.8 62.5h0M247.5 63.1h0M238.8 50.8h0M242.1 45.5h0M250.4 62.7h0M247.2 64.3h0M260.5 58.6h0M252.9 42.6h0M259.5 52.5h0M238.8 51.8h0M252.3 58.0h0M258.4 42.3h0M252.9 67.7h0M248.4 41.4h0M261.0 48.1h0M257.8 41.3h0M261.9 54.7h0M243.8 54.5h0M264.3 41.2h0M268.3 49.3h0M252.5 37.3h0M234.7 54.8h0M247.9 38.9h0M259.2 61.2h0M236.8 52.0h0M261.9 55.1h0M251.3 79.7h0M250.8 37.8h0M253.3 59.3h0M259.3 49.6h0M252.9 59.8h0M263.2 45.9h0M262.8 58.7h0M260.4 65.2h0M237.1 60.6h0M237.7 49.2h0M258.5 63.3h0M246.8 63.6h0M246.0 39.2h0M247.9 45.3h0M275.1 54.3h0M260.6 51.7h0M255.1 73.7h0M244.0 42.4h0M256.5 44.3h0M256.5 37.3h0M268.1 43.0h0M237.5 52.3h0M261.1 46.4h0M260.2 40.6h0M251.2 59.5h0M249.2 40.6h0M254.6 63.3h0M261.9 42.9h0M253.3 59.5h0M255.9 43.3h0M246.2 43.0h0M234.6 60.2h0M256.2 62.7h0M259.6 45.4h0M237.2 51.4h0M255.7 52.5h0M240.2 59.2h0M258.3 55.9h0M255.3 55.3h0M248.8 53.3h0M271.4 45.5h0M246.5 45.2h0M254.9 37.4h0M258.0 57.6h0M260.7 39.1h0M256.9 37.5h0M262.9 39.7h0M260.8 59.1h0M265.2 54.4h0M246.9 44.2h0M239.3 45.6h0M253.9 60.4h0M255.4 41.1h0M245.7 67.9h0M239.4 63.5h0M236.2 65.3h0M254.0 41.2h0M258.8 72.1h0M262.9 54.9h0M240.8 44.1h0M237.2 52.1h0M253.1 57.7h0M238.8 63.8h0M259.9 47.4h0M252.4 53.9h0M243.9 70.9h0M236.5 61.0h0M250.6 57.8h0M245.3 66.4h0M235.0 63.9h0M247.4 62.4h0M267.1 45.4h0M270.2 43.8h0M249.0 46.3h0M261.3 46.5h0M243.7 44.7h0M257.9 44.3h0M245.0 45.9h0M261.0 61.0h0M262.4 47.5h0M257.1 44.0h0M249.3 59.8h0M236.8 52.3h0M262.7 46.0h0M241.3 48.1h0M259.0 54.1h0M248.5 61.6h0M253.2 53.9h0M261.7 44.8h0M248.9 53.9h0M256.7 48.6h0M239.5 60.5h0M251.1 59.4h0M256.3 50.5h0M263.7 56.3h0M260.2 61.4h0M248.1 65.3h0M238.6 66.4h0M239.7 58.1h0M252.7 57.9h0M238.7 60.2h0M236.8 60.4h0M258.3 49.1h0M251.9 64.2h0M252.2 64.4h0M256.8 50.7h0M255.6 56.2h0M238.3 54.1h0M242.2 42.1h0M258.8 52.6h0M263.9 59.9h0M263.2 57.2h0M261.1 39.8h0M260.3 37.9h0M253.1 58.4h0M252.9 66.9h0M258.7 44.0h0M235.6 64.7h0M253.9 58.9h0M264.7 38.0h0M251.4 70.6h0M244.1 45.9h0M239.3 55.4h0M236.6 58.3h0M249.4 73.2h0M248.8 43.3h0M248.0 46.0h0M241.3 46.9h0M257.0 46.3h0M259.3 43.2h0M258.0 41.5h0M250.3 62.3h0M253.2 58.3h0M236.0 51.3h0M262.4 40.8h0M258.3 65.0h0M262.5 62.5h0M270.2 45.4h0M263.1 68.2h0M251.9 65.0h0M268.5 61.8h0M260.2 40.0h0M262.2 46.9h0M251.1 59.6h0M255.5 41.2h0M247.3 45.7h0M243.0 42.0h0M236.3 53.9h0M253.1 73.8h0M236.0 51.0h0M243.7 43.5h0M242.6 46.6h0M264.1 46.6h0M237.1 58.2h0M254.1 61.8h0M248.9 46.1h0M247.0 39.7h0M250.4 46.1h0M257.7 63.3h0M239.6 68.1h0M239.9 62.4h0M250.7 55.9h0M239.1 52.8h0M263.1 41.6h0M235.4 64.6h0M249.0 64.3h0M248.9 38.6h0M258.3 38.7h0M255.1 38.4h0M263.4 47.9h0M247.2 40.6h0M247.2 71.1h0M244.3 44.7h0M239.2 45.2h0M236.7 59.8h0M261.7 46.9h0M263.6 49.8h0M258.8 54.8h0M238.5 67.6h0M248.9 63.6h0M234.2 61.0h0M264.5 42.0h0M251.1 58.7h0M266.9 39.5h0M258.4 45.8h0M235.8 57.3h0M247.8 38.3h0M237.9 50.6h0M244.0 44.3h0M263.7 42.3h0M258.1 39.4h0M235.5 58.5h0M238.7 55.3h0M246.6 39.2h0M249.8 62.2h0M254.1 41.3h0M262.2 63.2h0M259.4 49.6h0M249.3 43.9h0M248.0 62.8h0M264.2 61.9h0M238.0 59.0h0M248.6 47.6h0M264.4 45.2h0M265.3 69.1h0M261.7 43.3h0M250.0 63.4h0M259.4 64.8h0M254.1 44.9h0M262.5 59.2h0M236.0 62.6h0M238.1 56.4h0M247.2 56.4h0M239.8 62.2h0M253.6 36.9h0M251.5 39.1h0M257.3 36.2h0M264.5 55.7h0M260.9 44.4h0M238.3 58.0h0M238.6 58.4h0M261.9 53.5h0M255.4 60.2h0M237.0 62.5h0M261.0 37.5h0M246.5 64.3h0M248.4 63.9h0M252.8 37.0h0M251.4 42.9h0M251.9 60.0h0M251.1 40.8h0M254.9 67.6h0M251.6 64.3h0M259.7 42.9h0M255.2 39.0h0M249.3 55.8h0M263.1 45.9h0M260.8 51.6h0M269.0 46.0h0M238.9 50.9h0M254.7 66.4h0M261.6 47.3h0M255.8 37.1h0M259.4 53.2h0M262.6 58.9h0M258.2 39.6h0M251.9 44.2h0M253.9 64.5h0M256.8 56.1h0M252.0 36.8h0M249.0 59.8h0M260.0 43.2h0M260.6 46.1h0M246.4 44.6h0M247.2 63.7h0M260.0 39.9h0M263.5 61.3h0M252.9 61.1h0M260.6 47.1h0M263.1 45.2h0M256.5 37.3h0M238.1 62.0h0M243.6 67.0h0M258.1 63.2h0M269.8 41.6h0M235.0 61.6h0M252.0 74.2h0M258.8 44.7h0M249.2 39.0h0M240.7 44.1h0M240.0 69.8h0M241.2 45.4h0M256.0 68.4h0M255.3 44.1h0M259.7 59.6h0M248.1 42.0h0M263.2 49.5h0M265.0 63.0h0M252.6 38.1h0M260.8 43.0h0M244.7 46.6h0M238.0 63.1h0M242.1 42.4h0M235.2 58.8h0M255.8 52.6h0M270.3 44.7h0M261.2 41.2h0M243.1 68.8h0M258.9 57.8h0M249.1 41.8h0M260.1 44.6h0M265.0 61.5h0M237.1 55.4h0M252.8 40.9h0M250.5 70.2h0M260.2 44.3h0M265.1 39.8h0M236.5 61.8h0M265.3 60.7h0M245.7 39.2h0M236.8 63.0h0M237.4 54.6h0M258.1 41.8h0M258.4 62.0h0M235.8 56.7h0M263.3 48.2h0M261.9 55.9h0M250.8 41.5h0M250.2 60.9h0M254.1 37.7h0M257.4 48.8h0M234.5 58.7h0M255.4 59.5h0M249.3 40.8h0M256.1 58.7h0M269.8 44.3h0M255.3 57.5h0M258.9 58.8h0M241.1 69.7h0M257.2 63.6h0M250.3 38.7h0M262.1 54.1h0M247.6 69.6h0M239.1 59.8h0M256.8 45.8h0M261.7 55.9h0M247.8 60.2h0M252.7 56.5h0M240.2 64.2h0M254.1 37.1h0M248.4 46.8h0M264.9 64.6h0M250.2 63.7h0M250.7 37.4h0M253.6 55.9h0M235.0 59.3h0M236.8 64.2h0M263.1 49.4h0M250.0 63.0h0M239.0 59.3h0M248.1 64.3h0M237.5 50.2h0M249.3 64.8h0M259.1 54.7h0M250.8 58.6h0M255.4 36.1h0M234.7 56.2h0M263.5 41.3h0M253.5 55.0h0M240.3 45.0h0M250.0 64.9h0M252.9 36.4h0M265.7 41.9h0M243.1 45.9h0M264.9 48.3h0M266.0 38.8h0M255.1 37.8h0M252.3 57.2h0M238.8 47.2h0M253.6 60.9h0M235.9 58.3h0M255.0 62.7h0M267.5 43.8h0M246.4 60.4h0M263.3 43.8h0M269.4 46.3h0M250.5 62.6h0M261.4 44.2h0M258.7 63.4h0M253.1 56.1h0M251.8 61.9h0M239.2 68.2h0M269.7 42.1h0M262.8 61.8h0M238.0 56.4h0M239.0 47.9h0M238.4 64.2h0M234.3 63.5h0M245.3 47.1h0M261.5 40.1h0M258.1 39.9h0M237.6 66.6h0M257.9 58.4h0M246.5 56.6h0M262.3 38.7h0M249.0 42.5h0M240.0 52.7h0M249.0 67.0h0M252.4 55.8h0M270.5 43.7h0M261.4 42.3h0M246.5 41.2h0M252.5 79.9h0M247.5 67.8h0M252.3 42.0h0M255.4 65.0h0M257.1 59.1h0M272.6 48.3h0M235.9 63.8h0M246.7 44.0h0M256.7 48.8h0M266.8 41.3h0M251.3 40.9h0M254.2 54.5h0M260.5 48.0h0M263.2 40.6h0M257.2 39.1h0M234.4 58.3h0M248.7 67.6h0M261.5 44.5h0M248.8 42.0h0M267.5 57.7h0M258.6 60.4h0M262.1 45.3h0M245.1 66.9h0M234.5 61.2h0M262.5 48.9h0M250.8 39.7h0M249.7 58.5h0M271.3 66.6h0M237.8 50.9h0M255.1 59.9h0M261.8 43.2h0M263.8 40.4h0M256.0 38.9h0M237.9 64.4h0M251.0 61.6h0M244.8 39.8h0M251.8 41.6h0M250.4 38.9h0M241.1 65.6h0M258.5 36.1h0M266.4 40.1h0M251.9 53.5h0M255.3 63.4h0M262.9 42.3h0M259.0 38.7h0M259.6 64.6h0M251.8 57.4h0M260.4 55.5h0M240.1 68.3h0M260.2 55.1h0M244.3 46.1h0M260.0 37.2h0M256.0 54.8h0M258.3 43.5h0M261.3 74.9h0M236.7 49.9h0M263.1 72.9h0M255.7 63.7h0M239.6 49.6h0M247.2 39.1h0M259.3 50.4h0M255.9 67.0h0M261.8 41.2h0M238.0 54.8h0M262.1 40.1h0M262.5 40.2h0M235.5 57.5h0M258.1 55.9h0M249.3 64.1h0M239.4 54.4h0M260.0 50.1h0M237.4 64.3h0M249.5 63.9h0M253.3 61.4h0M262.4 51.7h0M256.0 55.0h0M250.6 52.8h0M249.0 58.9h0M250.5 47.4h0M238.4 56.0h0M264.8 59.1h0M256.6 75.5h0M258.0 45.1h0M248.0 55.0h0M270.1 62.0h0M264.4 38.7h0M252.2 61.2h0M261.7 63.1h0M264.6 63.5h0M245.5 57.0h0M245.4 43.8h0M253.3 61.4h0M236.4 64.9h0M263.3 62.7h0M254.1 38.3h0M238.5 65.2h0M253.9 39.0h0M263.0 64.2h0M245.5 39.9h0M248.6 42.8h0M257.7 62.7h0M266.2 65.1h0M252.8 51.3h0M262.5 42.1h0M253.3 63.3h0M239.3 66.3h0M246.3 41.6h0M256.7 38.5h0M244.9 70.0h0M245.7 43.2h0M260.5 70.1h0M263.0 57.7h0M256.2 49.9h0M237.5 68.1h0M250.8 60.1h0M266.7 42.6h0M260.5 47.2h0M242.3 41.4h0M239.1 63.6h0M261.2 59.6h0M245.0 43.2h0M239.3 53.1h0M254.1 75.1h0M265.6 63.7h0M261.5 39.9h0M261.6 69.2h0M257.6 38.0h0M257.0 47.8h0M260.1 47.4h0M240.3 49.1h0M259.4 42.9h0M256.3 60.4h0M248.1 63.8h0M259.0 38.4h0M254.7 36.8h0M264.1 61.3h0M236.0 51.4h0M255.4 62.8h0M257.0 40.9h0M242.6 45.7h0M251.7 52.8h0M250.0 60.6h0M237.7 60.6h0M256.9 63.8h0M238.8 48.7h0M252.6 63.4h0M272.3 50.3h0M258.2 54.6h0M253.6 64.5h0M263.8 63.8h0M252.5 40.9h0M237.6 61.4h0M258.3 44.0h0M238.8 49.8h0M247.4 67.2h0M250.6 48.1h0M263.4 73.8h0M256.4 62.7h0M238.2 58.5h0M252.4 39.8h0M261.9 56.8h0M263.2 60.6h0M261.7 52.4h0M257.2 78.2h0M263.8 51.1h0M255.9 60.5h0M250.9 59.2h0M251.5 59.6h0M235.7 61.8h0M241.6 68.8h0M259.6 39.3h0M251.2 41.6h0M274.1 55.2h0M267.4 40.3h0M249.6 63.9h0M258.9 48.5h0M273.7 63.2h0M237.3 56.3h0M248.3 38.3h0M241.0 44.1h0M237.6 49.6h0M262.4 57.9h0M254.9 61.5h0M255.8 37.3h0M246.4 64.7h0M252.9 61.4h0M252.2 60.4h0M256.7 61.5h0M257.6 47.4h0M250.9 65.2h0M237.2 59.5h0M260.0 52.2h0M248.7 43.4h0M259.6 54.2h0M263.4 54.8h0M258.5 48.6h0M233.9 58.8h0M249.2 61.4h0M235.1 57.3h0M262.0 46.3h0M251.6 38.6h0M248.9 62.9h0M269.2 38.8h0M276.2 54.6h0M244.0 38.6h0M244.0 37.2h0M238.5 69.7h0" stroke="#1f4f94" stroke-width="1.36" stroke-linecap="round" fill="none"/>
<path d="M263.1 37.8h0M251.4 41.9h0M251.6 62.1h0M249.5 62.8h0M262.8 59.2h0M236.6 58.3h0M259.8 60.9h0M268.2 41.5h0M254.3 42.5h0M244.1 47.3h0M238.0 53.1h0M247.9 52.2h0M258.5 40.0h0M257.0 43.6h0M256.6 69.7h0M260.6 41.4h0M260.1 42.4h0M262.4 62.7h0M257.2 74.2h0M270.4 43.8h0M259.2 58.1h0M269.5 41.5h0M255.0 70.1h0M261.1 73.9h0M251.6 75.0h0M235.2 55.0h0M263.8 60.0h0M250.2 44.2h0M246.0 45.2h0M255.0 59.0h0M265.0 40.4h0M263.3 47.3h0M258.2 46.6h0M247.7 41.5h0M251.9 53.9h0M248.9 46.0h0M257.5 39.3h0M238.9 50.6h0M247.8 64.0h0M260.3 50.5h0M239.3 49.6h0M239.6 65.4h0M260.5 51.0h0M235.5 55.7h0M245.6 44.8h0M258.0 52.4h0M261.4 46.3h0M260.4 36.3h0M251.4 68.6h0M247.7 40.0h0M253.5 36.4h0M243.1 58.9h0M236.6 54.2h0M266.0 40.2h0M256.6 62.9h0M261.9 64.8h0M256.7 50.3h0M237.5 63.2h0M264.3 45.8h0M260.0 57.8h0M252.3 46.9h0M269.5 44.6h0M238.4 48.2h0M253.1 60.6h0M252.7 61.7h0M264.7 38.3h0M264.1 43.5h0M262.0 59.5h0M272.1 49.2h0M235.6 61.2h0M248.2 41.2h0M260.7 41.4h0M250.0 59.1h0M246.8 41.9h0M270.1 41.8h0M253.9 59.3h0M237.1 60.0h0M261.9 45.0h0M243.4 56.0h0M235.5 59.8h0M259.0 40.0h0M252.3 64.5h0M250.0 56.7h0M260.3 36.2h0M259.3 47.1h0M255.5 41.4h0M250.3 53.6h0M234.3 57.7h0M258.5 49.0h0M253.8 71.2h0M239.1 58.2h0M246.1 44.1h0M261.3 51.0h0M242.6 61.7h0M249.0 44.6h0M262.1 53.3h0M249.9 59.8h0M240.7 42.9h0M258.7 41.9h0M255.9 39.8h0M260.1 40.2h0M247.3 46.2h0M234.0 58.9h0M256.9 54.1h0M263.5 47.9h0M272.7 47.8h0M254.7 45.6h0M261.5 50.7h0M258.0 36.9h0M244.9 46.7h0M243.3 42.1h0M266.1 40.9h0M259.3 65.4h0M262.2 61.8h0M235.2 56.8h0M262.5 41.7h0M260.2 47.4h0M252.2 63.7h0M260.0 71.9h0M249.5 64.7h0M268.6 39.8h0M258.1 62.7h0M240.1 43.4h0M236.4 51.7h0M248.6 42.3h0M249.2 37.8h0M264.4 62.0h0M248.6 43.3h0M236.6 55.4h0M260.3 39.6h0M251.5 55.0h0M235.2 60.9h0M259.6 64.8h0M250.0 57.6h0M263.1 58.9h0M255.3 54.1h0M237.7 47.0h0M263.1 40.1h0M256.4 60.9h0M254.6 62.2h0M268.1 39.6h0M233.9 59.0h0M244.3 41.8h0M252.0 64.5h0M259.5 39.3h0M257.4 42.0h0M248.2 59.9h0M275.0 61.0h0M252.4 47.6h0M262.4 37.3h0M260.8 63.2h0M256.9 38.0h0M259.7 44.2h0M261.8 62.0h0M252.5 36.6h0M262.9 39.3h0M261.7 61.8h0M257.8 55.4h0M261.8 40.6h0M251.9 45.8h0M249.2 45.6h0M250.7 43.5h0M258.3 64.9h0M238.6 51.5h0M243.3 50.5h0M264.6 41.6h0M245.0 43.2h0M263.1 46.3h0M247.3 45.9h0M254.5 39.3h0M236.3 59.5h0M263.1 46.8h0M261.5 53.2h0M258.4 47.8h0M250.7 37.2h0M251.7 37.9h0M237.7 68.5h0M236.8 62.8h0M260.7 59.0h0M258.1 43.8h0M251.9 59.1h0M234.9 58.9h0M259.5 65.2h0M265.8 68.7h0M268.1 40.3h0M247.7 40.8h0M251.5 42.2h0M262.7 37.3h0M258.6 39.7h0M259.5 45.9h0M235.2 54.1h0M238.9 69.8h0" stroke="#2a6a90" stroke-width="1.36" stroke-linecap="round" fill="none"/>
<path d="M251.8 54.0h0M267.5 58.8h0M241.8 62.3h0M254.6 68.7h0M253.9 45.6h0M267.8 53.9h0M247.0 59.3h0M254.6 47.4h0M276.2 59.9h0M240.5 64.9h0M258.0 69.8h0M262.1 70.1h0M269.6 51.5h0M244.0 50.0h0M247.3 73.9h0M265.5 58.7h0M247.6 74.3h0M249.6 79.4h0M265.1 49.9h0M240.0 63.6h0M264.7 59.1h0M245.4 75.2h0M265.0 63.3h0M255.3 58.3h0M251.1 78.0h0M242.1 47.2h0M250.3 75.8h0M271.1 52.0h0M256.8 79.6h0M249.6 47.1h0M259.8 72.7h0M241.1 53.4h0M269.3 63.7h0M243.2 68.1h0M240.4 57.3h0M267.7 44.5h0M235.6 62.7h0M262.3 65.5h0M274.3 59.1h0M241.8 48.1h0M276.4 57.5h0M238.9 63.9h0M252.9 47.9h0M272.4 52.2h0M269.5 66.2h0M264.9 49.4h0M240.5 65.5h0M270.8 60.1h0M274.2 59.2h0M243.7 54.6h0M268.9 67.0h0M253.0 51.6h0M249.5 68.3h0M270.2 56.4h0M267.6 53.7h0M266.1 60.7h0M262.9 54.9h0M240.4 64.1h0M244.5 59.9h0M262.5 65.0h0M245.3 71.7h0M244.1 56.8h0M272.3 57.8h0M241.0 52.4h0M257.1 73.4h0M254.2 50.5h0M246.0 55.1h0M250.4 77.5h0M268.8 53.4h0M249.0 60.1h0M257.7 66.4h0M273.8 50.6h0M244.9 64.8h0M253.8 49.5h0M270.9 45.4h0M251.5 50.2h0M255.5 54.3h0M267.7 67.5h0M258.6 78.4h0M243.7 60.8h0M243.6 51.4h0M268.8 66.3h0M248.6 72.5h0M252.5 71.3h0M249.4 71.1h0M240.7 60.1h0M245.6 72.9h0M244.5 50.4h0M256.7 50.0h0M244.7 60.6h0M245.8 55.3h0M252.5 51.1h0M269.3 42.7h0M255.8 51.9h0M260.7 74.3h0M255.7 49.8h0M260.8 73.8h0M270.8 49.3h0M245.2 63.2h0M270.3 64.6h0M271.6 44.8h0M278.0 58.4h0M245.2 71.6h0M274.4 45.6h0" stroke="#b01040" stroke-width="1.36" stroke-linecap="round" fill="none"/>
<circle cx="278.7" cy="27.1" r="2.3" fill="#1f4f94"/><circle cx="278.7" cy="36.9" r="2.3" fill="#c8103a"/>
<text x="283.8" y="29.3" font-size="6.2" text-anchor="start" fill="#222" stroke="#222" stroke-width="0.13" >Control</text>
<text x="283.8" y="39.1" font-size="6" text-anchor="start" fill="#222" stroke="#222" stroke-width="0.13" >CML-exposed</text>
<path d="M332.0 32.2 V84.0 H386.0" fill="none" stroke="#222" stroke-width="0.85"/><path d="M332.0 84.0 h-2.6 M332.0 84.0 v2.6 M332.0 66.9 h-2.6 M349.2 84.0 v2.6 M332.0 49.8 h-2.6 M366.4 84.0 v2.6 M332.0 32.7 h-2.6 M383.6 84.0 v2.6 " stroke="#222" stroke-width="0.85"/>
<text x="359.6" y="25.8" font-size="6" text-anchor="middle" fill="#222" stroke="#222" stroke-width="0.13" >t-SNE</text>
<path d="M350.9 39.9 L356.4 37.6 L364.0 37.1 L370.5 39.3 L374.8 42.0 L375.8 45.8 L377.5 49.1 L379.1 53.4 L380.7 57.7 L380.2 61.0 L377.5 64.2 L373.7 68.5 L370.5 69.7 L368.3 71.8 L367.2 75.1 L365.0 77.3 L360.7 78.9 L355.2 79.4 L352.0 77.3 L350.3 72.9 L348.8 69.7 L345.5 69.1 L342.8 67.5 L340.6 63.2 L340.1 58.8 L341.1 53.4 L342.8 49.1 L345.5 44.7 L348.2 42.0Z" fill="#9a6a80" opacity="0.15"/>
<path d="M366.0 69.7h0M344.5 67.2h0M339.3 58.0h0M358.3 57.7h0M366.1 58.3h0M369.2 66.0h0M354.2 67.9h0M367.2 62.1h0M367.1 72.3h0M359.4 67.3h0M356.8 64.1h0M366.6 68.7h0M342.7 61.4h0M379.1 62.8h0M351.1 63.4h0M366.9 63.2h0M351.4 59.9h0M351.2 59.7h0M375.6 67.4h0M350.7 71.5h0M362.6 58.2h0M344.7 62.3h0M340.4 61.8h0M344.6 64.5h0M349.3 70.1h0M354.6 69.4h0M370.0 65.6h0M343.4 62.7h0M352.9 63.6h0M364.6 61.7h0M378.0 63.9h0M348.4 57.5h0M345.9 58.7h0M362.2 57.7h0M351.7 55.9h0M357.2 61.9h0M367.4 70.5h0M370.7 67.8h0M349.7 66.6h0M345.5 68.1h0M369.1 66.3h0M372.1 68.4h0M345.4 64.5h0M363.2 63.2h0M367.0 67.2h0M340.6 57.6h0M348.2 67.5h0M344.7 63.7h0M368.6 69.7h0M350.9 58.2h0M373.5 61.9h0M348.6 66.1h0M349.1 56.3h0M356.9 80.5h0M359.5 68.0h0M340.3 58.3h0M354.5 59.7h0M341.3 55.9h0M353.7 58.0h0M347.2 56.1h0M365.4 63.6h0M357.0 64.0h0M360.0 67.1h0M349.9 58.0h0M355.2 64.7h0M360.9 78.7h0M379.3 61.8h0M349.4 56.9h0M353.0 62.6h0M359.9 75.9h0M343.6 65.6h0M376.4 65.9h0M353.2 69.2h0M370.0 63.7h0M339.8 60.0h0M364.1 69.7h0M342.6 56.3h0M372.5 64.1h0M365.6 68.5h0M356.6 65.8h0M349.1 66.8h0M340.4 63.1h0M351.8 66.7h0M341.0 66.5h0M352.6 67.0h0M354.5 71.6h0M371.6 69.0h0M349.3 63.9h0M353.1 63.6h0M347.8 56.2h0M370.8 69.2h0M349.6 56.3h0M352.1 64.6h0M350.5 69.1h0M366.2 67.3h0M346.2 56.7h0M353.5 57.1h0M365.0 65.1h0M353.7 67.5h0M368.0 68.7h0M362.1 71.0h0M365.6 66.3h0M361.5 68.7h0M352.4 68.4h0M367.3 60.2h0M359.8 63.7h0M357.1 77.7h0M361.8 66.2h0M368.0 61.5h0M352.0 70.9h0M343.1 59.4h0M370.2 69.5h0M358.9 77.5h0M361.5 66.4h0M352.0 58.0h0M348.0 59.1h0M371.2 70.2h0M359.3 68.7h0M365.9 62.5h0M365.4 68.2h0M365.7 69.4h0M363.2 65.6h0M356.9 56.9h0M347.5 66.2h0M365.1 58.3h0M354.0 67.1h0M367.8 65.0h0M343.4 66.9h0M366.6 61.3h0M346.7 69.1h0M350.1 62.7h0M347.8 60.4h0M358.8 60.2h0M368.9 67.1h0M351.7 66.0h0M370.6 69.1h0M373.9 64.4h0M347.3 62.0h0M354.8 56.4h0M379.6 63.4h0M367.5 75.6h0M363.1 60.9h0M366.3 60.8h0M362.1 61.2h0M349.6 57.9h0M347.2 68.0h0M370.1 55.5h0M348.3 70.7h0M368.1 73.3h0M341.0 64.2h0M349.0 72.3h0M360.0 66.5h0M349.8 66.9h0M344.3 63.2h0M357.0 67.3h0M369.6 70.2h0M353.2 68.9h0M346.8 55.4h0M364.4 71.6h0M372.7 63.5h0M370.6 68.6h0M345.8 65.1h0M353.8 63.0h0M350.2 69.8h0M343.1 60.5h0M352.5 57.3h0M346.5 66.3h0M358.4 67.6h0M350.3 66.9h0M343.5 56.4h0M364.0 59.7h0M359.2 69.7h0M339.3 56.9h0M348.7 71.2h0M355.0 63.8h0M367.2 74.5h0M345.4 68.3h0M341.3 65.0h0M346.8 59.3h0M351.3 60.2h0M375.3 65.2h0M351.0 61.2h0M366.1 64.1h0M362.5 58.7h0M349.3 68.4h0M353.2 61.2h0M371.6 62.0h0M359.0 69.8h0M346.4 69.1h0M352.0 63.8h0M377.2 61.4h0M350.4 71.9h0M371.5 66.2h0M373.3 60.8h0M346.5 56.8h0M343.1 64.9h0M344.6 64.5h0M356.0 61.8h0M342.3 58.4h0M341.8 62.1h0M353.2 74.0h0M367.6 57.1h0M345.3 64.0h0M366.2 60.5h0M348.4 63.4h0M357.8 64.9h0M368.7 64.1h0M366.1 59.9h0M345.6 64.0h0M344.2 59.7h0M357.0 63.8h0M352.8 63.4h0M353.2 69.7h0M355.6 68.2h0M371.7 61.6h0M355.8 63.1h0M354.7 64.8h0M366.1 63.0h0M364.3 59.9h0M349.2 58.6h0M360.9 64.7h0M340.8 64.1h0M364.5 65.9h0M366.9 68.3h0M377.6 65.0h0M362.1 75.2h0M342.9 59.0h0M369.4 64.8h0M340.7 62.2h0M363.5 59.9h0M369.4 72.0h0M354.6 59.3h0M356.5 71.1h0M353.4 63.5h0M347.5 57.1h0M365.1 64.1h0M358.9 68.4h0M376.2 64.1h0M349.9 58.4h0M344.6 55.8h0M354.4 58.5h0M368.5 65.9h0M365.3 58.4h0M354.0 62.6h0M361.1 78.5h0M355.8 58.9h0M342.6 67.2h0M358.2 76.1h0M353.7 67.4h0M364.6 70.1h0M368.5 64.2h0M351.8 60.2h0M356.8 72.1h0M356.3 68.5h0M367.9 61.6h0M369.4 70.0h0M345.4 65.9h0M365.9 71.8h0M341.2 62.9h0M377.9 62.5h0M373.9 68.1h0M350.1 63.7h0M339.6 56.7h0M349.1 60.4h0M341.1 58.2h0M345.3 66.6h0M362.2 59.0h0M359.9 58.7h0M340.2 60.5h0M365.2 71.3h0M348.9 62.4h0M344.1 66.1h0M340.5 64.8h0M345.4 55.5h0M371.1 68.7h0M375.6 62.2h0M371.1 69.1h0M372.1 69.7h0M351.7 76.2h0M342.5 58.6h0M359.3 69.5h0M364.8 71.7h0M354.3 69.8h0M353.7 74.9h0M354.1 61.3h0M371.3 69.7h0M365.4 62.8h0M349.0 66.9h0M349.0 62.8h0M365.6 67.7h0M370.5 67.0h0M367.2 57.2h0M344.4 58.8h0M348.4 58.4h0M358.5 64.7h0M339.8 63.3h0M363.4 66.2h0M372.3 69.8h0M351.7 72.5h0M364.2 68.7h0M352.8 67.6h0M372.3 64.7h0M354.1 62.8h0M350.8 66.3h0M355.6 56.2h0M343.8 58.7h0M369.4 63.3h0M367.9 68.0h0M357.7 57.7h0M362.6 66.9h0M365.3 62.8h0M347.8 63.6h0M352.9 73.9h0M368.8 63.3h0M369.5 66.8h0M362.4 68.3h0M365.6 68.4h0M364.0 68.5h0M348.1 55.7h0M347.7 58.2h0M353.1 67.1h0M367.1 65.7h0M361.9 69.9h0M351.4 63.9h0M368.0 72.6h0M368.9 63.4h0M339.6 58.7h0M360.2 65.3h0M346.9 55.0h0M366.3 68.9h0M342.6 63.1h0M359.7 62.8h0M379.9 61.2h0M372.9 62.5h0M368.0 70.9h0M365.7 69.0h0M359.9 62.4h0M341.5 65.5h0M348.0 53.6h0M371.7 62.1h0M360.0 78.9h0M367.1 74.2h0M374.9 62.0h0M340.0 57.4h0M352.0 66.8h0M364.4 66.4h0M356.3 63.4h0M357.5 77.0h0M365.4 70.6h0M364.3 69.8h0M344.4 55.5h0M368.2 66.1h0M364.1 58.7h0M352.6 60.4h0M375.9 64.7h0M358.3 59.9h0M376.7 62.1h0M347.2 60.6h0M363.8 68.1h0M364.5 78.0h0M367.6 66.9h0M343.0 68.3h0M359.2 62.7h0M365.7 77.2h0M361.9 64.9h0M366.8 57.1h0M366.9 64.9h0M345.9 61.6h0M347.9 59.4h0M345.6 58.9h0M354.6 60.4h0M367.2 72.9h0M353.4 57.9h0M351.2 71.7h0M363.9 68.4h0M365.7 71.1h0M363.0 57.9h0M349.5 64.9h0M367.8 71.8h0M349.3 65.5h0M371.8 64.9h0M358.5 60.3h0M374.4 67.8h0M340.9 66.0h0M369.9 66.5h0M349.0 58.9h0M346.4 58.8h0M349.1 72.5h0M373.4 63.5h0M365.9 66.1h0M358.7 65.6h0M344.3 61.5h0M349.0 67.6h0M372.1 66.8h0M341.7 59.6h0M345.1 68.1h0M358.6 65.5h0M350.7 68.4h0M343.8 57.8h0M367.7 65.8h0M358.2 68.2h0M376.6 61.8h0M363.7 63.5h0M358.3 59.3h0M346.9 63.9h0M366.1 69.8h0M349.4 68.3h0M374.4 64.4h0M363.4 61.8h0M354.8 57.9h0M353.8 57.4h0M366.3 64.5h0M369.8 63.3h0M344.3 58.1h0M358.2 69.6h0M356.5 66.4h0M358.2 59.0h0M374.6 63.3h0M353.2 60.1h0M342.0 54.3h0M363.4 61.3h0M361.8 71.2h0M375.5 66.4h0M363.8 59.1h0M353.5 54.1h0M355.1 61.5h0M369.3 63.1h0M360.3 58.8h0M361.1 68.8h0M351.0 60.1h0M372.7 67.5h0M344.6 55.4h0M378.0 61.5h0M366.9 58.8h0M362.5 68.4h0M346.0 66.8h0M345.0 60.1h0M372.0 67.2h0M349.7 69.2h0M359.9 66.5h0M346.6 66.8h0M356.4 61.4h0M351.3 69.5h0M359.8 65.0h0M380.3 62.3h0M361.7 60.6h0M351.9 57.9h0M369.9 70.9h0M342.6 58.5h0M340.8 65.9h0M360.5 77.7h0M359.9 73.3h0M365.9 69.3h0M356.9 57.9h0M364.6 61.3h0M367.5 70.4h0M366.5 74.1h0M352.4 68.5h0M344.9 67.7h0M345.6 59.1h0M356.3 59.8h0M340.3 60.9h0M349.2 55.9h0M358.2 60.9h0M345.8 55.7h0M360.1 67.4h0M340.8 63.8h0M372.4 61.1h0M359.5 62.9h0M364.2 62.0h0M340.0 60.0h0M346.2 63.3h0M343.3 57.5h0M351.8 67.2h0M349.5 69.3h0M375.6 63.1h0M367.2 66.8h0M363.4 62.1h0M366.9 70.9h0M362.6 59.4h0M361.6 63.4h0M374.2 61.6h0M351.5 65.3h0M354.1 65.3h0M351.6 68.9h0M366.1 70.3h0M346.7 60.5h0M352.0 68.1h0M364.4 61.9h0M348.3 59.6h0M345.6 59.3h0M351.7 69.0h0M352.8 67.3h0M341.4 66.6h0M358.2 60.7h0M365.3 77.1h0M347.8 68.1h0M343.8 68.6h0M355.4 72.8h0M362.5 61.2h0M339.3 61.6h0M348.8 65.8h0M354.6 68.4h0M351.9 64.8h0M345.3 57.2h0M368.6 73.0h0M349.3 62.1h0M368.8 71.0h0M371.5 63.9h0M352.2 61.7h0M376.7 61.5h0M364.3 76.6h0M350.7 65.9h0M369.7 71.6h0M340.9 59.9h0M355.0 69.9h0M366.4 63.9h0M344.4 55.6h0M344.2 54.2h0M342.7 63.9h0M361.2 62.5h0M345.5 60.4h0M347.5 70.0h0M353.5 65.3h0M348.8 62.7h0M349.5 59.9h0M372.7 65.4h0M347.6 69.3h0M345.4 62.7h0M368.0 72.8h0M364.2 58.8h0M379.9 62.2h0M359.5 60.6h0M372.8 64.5h0M363.6 68.0h0M349.0 59.7h0M346.5 62.9h0M349.4 54.8h0M366.7 73.2h0M346.2 68.8h0M342.6 60.7h0M358.9 58.3h0M353.5 69.0h0M351.9 61.3h0M369.4 68.3h0M362.5 65.5h0M353.3 67.1h0M353.3 69.6h0M355.0 64.6h0M374.9 68.1h0M356.3 69.5h0M350.9 66.0h0M358.9 77.9h0M350.4 64.7h0M362.5 63.2h0M355.4 62.5h0M344.1 68.3h0M367.2 63.5h0M366.9 67.2h0M370.6 65.8h0M349.0 61.1h0M352.9 67.6h0M366.1 67.9h0M355.0 68.6h0M374.2 65.0h0M361.0 62.4h0M363.6 59.9h0M346.5 55.3h0M361.1 62.9h0M357.8 62.1h0M346.1 69.5h0M347.6 67.6h0M376.0 65.1h0M359.1 67.9h0M348.3 68.2h0M348.0 58.2h0M359.9 59.0h0M348.2 58.9h0M353.2 66.6h0M360.6 63.8h0M373.6 62.6h0M360.8 59.9h0M367.2 76.0h0M368.0 69.8h0M360.6 62.3h0M365.6 71.2h0M363.5 67.5h0M342.8 59.1h0M350.5 65.1h0M352.6 68.4h0M366.8 66.8h0M359.7 68.7h0M347.3 54.9h0M355.3 60.1h0M349.7 68.3h0M356.1 68.7h0M374.8 62.9h0M369.4 61.8h0M351.7 60.3h0M348.7 67.7h0M346.5 67.7h0M376.8 61.3h0M351.1 65.2h0M360.1 61.1h0M358.8 62.8h0M357.0 64.7h0M343.7 62.7h0M357.8 68.8h0M355.7 64.2h0M361.9 65.9h0M371.7 64.6h0M367.4 64.0h0M341.4 56.5h0M362.0 73.9h0M351.6 66.9h0M366.4 70.9h0M370.0 69.9h0M363.0 66.5h0M349.6 61.1h0M359.1 68.6h0M350.7 60.9h0M354.7 75.9h0M371.7 66.5h0M343.2 67.6h0M361.6 68.5h0M343.0 55.8h0M367.4 69.4h0M347.7 59.8h0M353.8 61.1h0M340.8 61.2h0M348.9 54.2h0M348.9 61.3h0M363.2 63.2h0M359.0 65.7h0M341.8 59.7h0M366.3 67.8h0M345.4 68.4h0M367.3 65.9h0M348.4 62.4h0M352.0 55.6h0M351.5 67.5h0M351.1 68.2h0M361.5 69.5h0M367.7 60.7h0M341.6 54.7h0M367.0 67.8h0M369.8 66.4h0M374.4 62.6h0M343.3 59.4h0M358.7 61.3h0M368.4 68.4h0M368.9 62.2h0M352.9 67.1h0M367.1 69.3h0M376.1 66.6h0M360.0 67.2h0M368.1 69.4h0M357.5 78.7h0M341.2 62.8h0M369.9 62.7h0M358.5 65.2h0M357.9 62.0h0M364.4 65.9h0M353.9 60.4h0M358.5 64.3h0M352.0 65.8h0M349.9 70.7h0M344.6 68.1h0M345.1 68.6h0M360.3 67.1h0M377.5 59.9h0M356.1 58.9h0M351.4 69.0h0M358.0 65.9h0M360.6 69.2h0M368.2 72.2h0M353.8 60.3h0M365.6 71.9h0M365.1 69.0h0M349.2 68.5h0M354.4 61.7h0M359.1 56.3h0M345.1 63.8h0M354.4 69.3h0M365.9 67.9h0M342.4 59.0h0M360.3 66.8h0M354.8 55.5h0M364.6 67.9h0M361.2 71.0h0M343.7 58.7h0M367.4 60.9h0M345.0 61.2h0M366.9 71.9h0M345.8 64.0h0M356.6 63.1h0M346.5 61.2h0M370.1 59.2h0M352.0 60.5h0M346.3 67.6h0M348.7 71.4h0M357.7 58.3h0M380.2 62.4h0M354.5 57.9h0M358.0 60.8h0M358.8 67.9h0M365.9 58.1h0M342.2 58.2h0M343.0 66.7h0M367.3 60.4h0M356.6 70.2h0M373.2 67.8h0M339.9 62.0h0M358.2 69.5h0M365.9 67.4h0M340.6 61.4h0M370.1 68.0h0M340.2 63.1h0M357.3 68.0h0M345.3 59.9h0M351.5 58.6h0M349.9 69.0h0M339.5 63.2h0M364.1 74.7h0M365.6 71.2h0M368.8 67.4h0M353.7 79.5h0M343.4 67.0h0M350.2 64.3h0M351.1 57.6h0M378.3 63.5h0M342.4 64.3h0M368.8 63.1h0M348.9 66.4h0M350.5 71.3h0M352.3 65.8h0M363.1 64.7h0M368.3 71.8h0M359.3 69.3h0M362.3 63.5h0M374.7 62.0h0M372.3 63.3h0M361.2 66.7h0M367.8 64.9h0M350.4 70.7h0M341.3 53.1h0M376.9 65.3h0M363.1 59.9h0M342.1 63.9h0M356.6 62.1h0M361.0 63.2h0M346.5 70.1h0M344.4 60.5h0M365.0 64.2h0M363.2 78.1h0M356.2 60.9h0M344.4 68.3h0M371.5 62.5h0M341.0 64.4h0M363.6 68.6h0M350.7 60.6h0M352.1 63.8h0M357.3 64.1h0M341.9 56.2h0M355.0 69.6h0M350.3 63.8h0M360.1 69.0h0M343.7 65.2h0M367.8 74.0h0M350.1 55.9h0M350.7 70.1h0M371.1 63.4h0M359.1 65.0h0M368.4 69.3h0M372.6 67.4h0M340.0 56.8h0M349.4 57.2h0M344.6 59.8h0M342.6 57.9h0M343.1 60.3h0M353.4 65.8h0M367.9 73.0h0M350.4 71.8h0M367.8 66.8h0M347.8 57.7h0M348.1 70.5h0M358.1 80.3h0M343.7 57.0h0M363.7 63.5h0M347.4 70.2h0M341.3 63.4h0M376.7 65.1h0M349.4 72.3h0M359.8 55.8h0M355.6 59.3h0M368.0 60.3h0M346.1 69.6h0M377.9 61.3h0M343.9 59.1h0M367.2 61.1h0M375.3 61.3h0M350.1 57.3h0M356.7 57.0h0M358.1 60.7h0M345.3 63.1h0M346.9 68.3h0M344.8 67.2h0M341.2 64.7h0M380.4 61.0h0M360.9 65.8h0M350.1 57.2h0M346.0 65.9h0M351.1 68.8h0M348.3 55.0h0M345.2 57.5h0M358.7 61.5h0M367.0 75.1h0M368.2 65.8h0M356.7 71.5h0M345.1 67.7h0M342.9 61.3h0M369.9 71.4h0M337.2 60.0h0M352.0 79.5h0M369.5 76.6h0M339.9 60.1h0M370.1 73.1h0M339.7 66.2h0M375.0 68.0h0M368.1 78.2h0M341.4 68.3h0" stroke="#e2482a" stroke-width="1.36" stroke-linecap="round" fill="none"/>
<path d="M358.8 79.1h0M343.7 69.2h0M354.1 71.7h0M356.7 73.0h0M353.7 76.8h0M358.4 77.9h0M359.6 77.7h0M355.5 74.8h0M351.2 73.8h0M357.4 74.8h0M359.1 79.2h0M360.0 78.8h0M359.6 76.2h0M366.0 72.4h0M363.4 73.8h0M364.6 77.2h0M356.5 75.9h0M362.7 73.8h0M360.1 75.8h0M361.1 77.2h0M363.7 77.7h0M352.5 72.9h0M358.4 70.9h0M352.5 78.2h0M358.2 78.0h0M357.7 73.5h0M351.1 73.2h0M360.9 74.9h0M365.8 74.6h0M356.4 78.6h0M351.6 74.7h0M354.4 79.8h0M359.0 79.0h0M351.3 73.0h0M360.0 71.6h0M359.6 76.4h0M359.2 79.3h0M364.5 71.9h0M360.0 73.2h0M353.7 70.1h0M357.0 76.6h0M362.0 75.1h0M361.9 78.8h0M360.3 70.3h0M361.6 71.9h0M365.3 75.0h0M353.1 73.7h0M366.1 76.1h0M354.8 71.5h0M360.8 72.9h0M361.1 72.3h0M356.4 73.4h0M355.2 71.1h0M351.3 76.7h0M356.7 77.0h0M365.1 73.0h0M352.5 77.8h0M360.7 76.8h0M359.1 75.6h0M352.0 77.8h0M365.1 77.4h0M354.1 70.4h0M360.9 74.2h0M350.6 75.5h0M362.1 79.5h0M349.6 73.5h0M357.6 76.2h0M364.2 77.5h0M362.7 77.5h0M344.2 69.4h0M356.9 76.9h0M358.4 78.8h0M353.6 76.4h0M366.3 76.6h0M354.7 76.5h0M360.2 70.7h0M362.2 77.4h0M353.3 78.6h0M359.9 76.0h0M353.2 70.5h0M353.9 76.4h0M357.9 78.2h0M353.9 70.7h0M350.9 76.9h0M350.5 74.8h0M358.2 79.0h0M362.7 74.9h0M360.0 70.2h0M355.1 78.0h0M362.0 73.1h0M365.1 73.3h0M350.2 73.9h0M363.1 74.8h0M364.6 73.3h0M364.6 72.3h0M361.6 78.7h0M357.1 73.8h0M353.6 76.8h0M361.1 70.0h0M356.3 77.8h0M354.9 73.0h0M354.3 73.1h0M360.5 74.1h0M356.6 73.7h0M352.9 75.2h0M360.5 73.4h0M357.6 70.9h0M365.1 77.8h0M353.6 77.8h0M365.9 73.4h0M359.2 79.6h0M356.5 75.0h0M360.9 78.3h0M363.8 73.3h0M354.0 78.9h0M356.2 74.4h0M366.0 75.0h0M366.7 75.0h0M356.5 77.7h0M352.7 76.4h0M351.5 74.4h0M361.5 74.4h0M353.3 71.1h0M365.0 78.2h0M366.1 74.7h0M352.9 77.9h0M362.5 71.6h0M358.9 78.6h0M352.1 74.9h0M357.9 72.9h0M354.1 79.9h0M361.5 72.3h0M364.8 72.2h0M358.8 71.5h0M361.7 71.3h0M356.2 78.5h0M360.9 73.3h0M364.6 74.6h0M354.3 77.9h0M359.2 76.5h0M357.3 75.6h0M361.4 76.5h0M353.6 79.7h0M364.5 77.9h0M353.0 73.1h0M366.7 74.0h0M364.2 71.4h0M352.6 77.4h0M357.1 75.4h0M352.0 72.3h0M358.8 74.7h0M363.4 78.7h0M359.9 72.8h0M360.8 72.3h0M355.6 73.4h0M351.3 77.2h0M365.4 73.0h0M362.4 73.3h0M355.8 78.3h0M363.5 76.6h0M363.7 75.5h0M357.8 70.9h0M361.5 72.7h0M353.8 77.4h0M352.8 70.9h0M364.8 72.7h0M350.4 74.5h0M364.1 76.3h0M363.6 70.7h0M355.2 76.5h0M357.0 73.9h0M355.9 79.7h0M360.1 72.2h0M362.6 74.8h0M352.6 73.1h0M354.7 71.6h0M353.7 77.1h0M354.1 72.7h0M353.8 76.0h0M352.3 78.6h0M354.4 76.7h0M360.3 75.6h0M351.3 77.7h0M356.5 70.6h0M360.9 76.3h0M364.5 75.1h0M352.2 77.2h0M354.8 77.8h0M358.7 70.7h0M355.6 70.5h0M363.7 78.7h0M352.1 76.5h0M364.4 72.9h0M356.4 75.6h0M354.5 73.1h0M365.3 77.5h0M361.0 71.5h0M355.9 72.8h0M356.4 76.2h0M355.3 76.0h0M351.7 73.8h0M363.4 75.5h0M357.2 71.2h0M356.4 77.0h0M354.5 77.2h0M351.0 73.6h0M358.3 76.8h0M357.9 72.1h0M349.7 72.3h0M362.1 70.8h0M361.5 75.3h0M360.2 72.7h0M364.6 74.8h0M351.6 71.4h0M356.6 71.3h0M357.8 76.6h0M355.6 77.0h0M355.6 74.0h0M361.6 73.8h0M354.4 77.9h0M358.4 75.7h0M354.6 72.6h0M362.1 77.4h0M350.4 74.8h0M361.7 76.9h0M365.2 72.2h0M354.5 75.3h0M361.4 75.4h0M359.2 72.6h0M362.6 78.5h0M352.1 77.4h0M358.4 78.0h0M360.7 80.7h0M351.8 73.7h0M344.2 69.7h0" stroke="#1c9a44" stroke-width="1.36" stroke-linecap="round" fill="none"/>
<path d="M359.0 46.4h0M347.6 47.9h0M373.8 41.3h0M377.2 48.4h0M378.2 48.8h0M368.4 50.7h0M352.1 57.4h0M373.4 52.0h0M353.4 51.5h0M341.9 50.8h0M379.3 50.8h0M352.1 43.1h0M356.1 46.0h0M356.1 41.7h0M368.2 56.6h0M370.8 42.9h0M367.2 45.1h0M366.3 36.8h0M343.8 49.7h0M358.8 52.7h0M356.1 47.9h0M365.5 39.3h0M354.5 41.5h0M378.1 52.5h0M356.6 49.8h0M359.4 40.5h0M357.8 48.6h0M364.5 36.5h0M373.0 54.9h0M370.0 41.1h0M365.4 54.3h0M365.9 36.8h0M354.7 37.4h0M365.9 47.2h0M377.4 57.4h0M368.6 45.3h0M374.9 41.4h0M355.2 41.2h0M355.7 39.4h0M378.0 57.4h0M344.7 46.7h0M379.6 52.1h0M368.0 48.5h0M370.8 42.5h0M354.3 49.5h0M370.3 42.5h0M367.0 55.0h0M373.0 54.1h0M355.8 37.6h0M361.8 38.8h0M351.9 38.9h0M350.7 52.4h0M374.5 52.8h0M363.0 36.1h0M365.5 45.7h0M370.7 39.3h0M364.7 39.7h0M356.8 37.3h0M347.5 47.8h0M363.2 51.6h0M365.7 53.6h0M375.4 57.8h0M364.3 43.5h0M351.9 52.8h0M373.9 51.9h0M341.7 51.5h0M370.2 38.2h0M365.4 44.6h0M355.4 43.2h0M365.5 53.0h0M351.5 48.0h0M346.5 42.2h0M347.1 52.4h0M354.8 40.3h0M370.4 48.7h0M359.5 51.4h0M361.3 37.2h0M342.0 51.5h0M361.2 37.3h0M359.1 38.8h0M360.8 37.3h0M347.6 54.6h0M367.9 40.6h0M364.9 41.2h0M357.2 47.3h0M369.5 39.0h0M354.5 57.3h0M363.5 47.2h0M372.7 54.5h0M355.2 51.1h0M349.7 47.8h0M371.3 47.1h0M366.2 46.3h0M377.4 55.4h0M364.4 40.3h0M370.4 38.1h0M371.9 47.0h0M344.8 45.0h0M341.8 51.4h0M367.7 54.5h0M375.6 48.6h0M353.0 39.6h0M349.6 54.0h0M360.7 39.7h0M363.3 48.4h0M358.9 39.6h0M362.3 55.4h0M357.1 44.6h0M380.2 56.7h0M365.1 41.1h0M341.9 55.8h0M369.4 39.7h0M350.5 50.5h0M367.2 52.9h0M357.5 49.2h0M372.0 55.7h0M375.8 41.7h0M374.1 57.2h0M353.2 39.5h0M347.6 53.7h0M357.8 43.8h0M375.8 52.0h0M365.2 51.8h0M344.5 54.8h0M362.1 42.8h0M362.1 45.1h0M370.8 53.9h0M366.6 36.7h0M359.0 55.6h0M350.9 39.1h0M341.8 50.9h0M348.1 48.2h0M363.6 56.0h0M357.1 41.0h0M377.5 49.2h0M345.7 55.8h0M366.1 48.2h0M345.1 50.4h0M365.5 56.2h0M367.6 46.3h0M364.1 58.5h0M360.4 47.6h0M349.3 42.7h0M370.3 57.9h0M363.7 48.1h0M364.6 49.9h0M364.2 45.5h0M351.5 45.5h0M375.7 49.0h0M351.9 47.9h0M360.3 48.6h0M350.0 42.4h0M357.8 46.9h0M365.5 36.9h0M368.7 52.1h0M369.6 45.6h0M365.8 37.7h0M372.0 50.5h0M381.7 58.0h0M367.5 61.2h0M360.4 36.8h0M349.5 51.9h0M353.8 46.5h0M362.9 49.1h0M359.3 49.3h0M361.4 52.0h0M368.3 50.7h0M378.0 62.0h0M367.8 37.2h0M347.2 45.8h0M353.5 51.0h0M353.6 54.2h0M339.9 56.4h0M366.7 51.7h0M360.5 57.7h0M356.6 42.2h0M368.9 50.3h0M368.2 51.6h0M369.5 45.1h0M349.8 50.3h0M372.2 61.8h0M371.6 60.5h0M363.8 40.2h0M355.3 41.0h0M370.8 55.3h0M366.2 54.0h0M364.6 45.1h0M344.6 44.3h0M354.7 46.9h0M368.3 49.7h0M354.8 40.2h0M353.3 39.8h0M369.2 43.5h0M352.9 42.6h0M361.4 48.5h0M357.6 38.3h0M357.2 36.3h0M356.7 52.2h0M358.6 58.1h0M349.4 39.5h0M371.5 43.9h0M356.9 52.7h0M345.1 53.2h0M366.8 50.3h0M348.8 46.4h0M348.6 43.1h0M371.2 52.2h0M343.8 55.6h0M367.2 37.8h0M368.7 54.9h0M360.0 53.4h0M352.5 56.8h0M362.5 48.2h0M375.1 48.8h0M352.7 40.7h0M376.3 46.3h0M360.3 41.0h0M350.6 49.3h0M354.1 54.0h0M373.2 58.7h0M375.0 44.3h0M351.5 52.9h0M379.6 61.6h0M361.9 45.1h0M360.0 56.2h0M365.6 57.8h0M360.0 47.3h0M373.2 61.3h0M356.2 38.2h0M366.9 50.9h0M372.2 48.6h0M341.0 55.3h0M356.8 40.5h0M360.7 37.4h0M352.0 40.3h0M365.9 44.1h0M347.4 53.1h0M381.2 58.8h0M369.7 51.2h0M346.6 41.9h0M347.3 45.9h0M376.7 50.4h0M366.6 57.4h0M369.1 50.4h0M377.1 57.0h0M358.7 46.0h0M355.9 43.7h0M351.0 47.2h0M380.2 62.5h0M352.9 42.0h0M349.7 47.2h0M380.0 61.6h0M363.4 48.0h0M340.6 53.8h0M377.8 58.7h0M343.7 48.3h0M340.9 50.8h0M351.4 45.4h0M360.0 41.0h0M361.9 41.5h0M371.3 58.1h0M360.0 55.0h0M369.4 50.8h0M351.8 44.9h0M378.6 60.4h0M363.6 44.4h0M359.4 44.2h0M376.1 61.4h0M352.7 52.1h0M363.5 37.2h0M374.4 55.9h0M375.9 48.1h0M358.4 46.5h0M345.9 55.3h0M363.8 57.1h0M370.5 43.3h0M348.7 44.5h0M342.0 52.8h0M374.9 55.7h0M360.6 41.0h0M343.9 50.5h0M352.4 51.2h0M373.7 55.7h0M366.8 58.1h0M344.6 45.1h0M379.8 59.9h0M379.6 56.4h0M355.9 52.7h0M377.2 46.8h0M344.1 50.4h0M360.7 58.2h0M368.9 54.3h0M364.3 38.9h0M373.2 52.8h0M376.7 47.0h0M346.3 52.6h0M360.7 39.5h0M375.6 62.4h0M359.4 42.5h0M345.9 51.5h0M379.0 60.0h0M368.5 47.0h0M366.8 42.2h0M361.4 57.1h0M367.0 51.5h0M371.4 54.3h0M361.4 36.2h0M364.3 57.8h0M348.2 41.4h0M342.5 53.1h0M373.8 45.8h0M352.2 50.4h0M360.2 42.1h0M378.6 57.0h0M348.7 55.4h0M350.8 53.4h0M380.0 55.5h0M371.0 56.3h0M353.5 48.3h0M362.1 52.8h0M358.5 36.8h0M347.6 54.1h0M368.7 39.5h0M366.1 52.5h0M347.3 45.8h0M371.9 41.3h0M371.5 46.5h0M380.6 54.5h0M372.4 47.6h0M375.0 49.6h0M361.6 56.3h0M358.7 56.0h0M372.4 41.3h0M358.9 38.2h0M351.6 43.8h0M377.0 55.5h0M376.3 49.5h0M363.9 49.3h0M345.4 50.1h0M352.6 42.3h0M346.1 51.8h0M374.8 42.0h0M364.7 54.9h0M370.0 38.7h0M370.2 45.0h0M376.2 55.3h0M360.4 53.5h0M367.5 44.7h0M358.1 45.6h0M347.8 51.7h0M371.2 57.5h0M371.3 46.0h0M369.6 47.4h0M371.2 47.9h0M350.1 41.7h0M364.5 41.2h0M371.0 57.1h0M373.8 43.6h0M366.3 43.0h0M351.8 49.5h0M357.3 40.4h0M364.3 42.5h0M360.0 54.4h0M361.1 50.1h0M373.4 57.8h0M367.4 52.5h0M366.3 53.0h0M372.0 53.2h0M370.6 53.7h0M370.8 58.7h0M373.5 55.9h0M371.5 55.7h0M355.8 42.6h0M366.5 43.0h0M351.9 42.0h0M352.7 48.2h0M366.4 50.9h0M341.8 50.7h0M348.5 41.0h0M343.0 48.9h0M364.8 36.7h0M356.3 41.3h0M357.2 42.0h0M358.6 56.5h0M359.1 54.8h0M361.3 46.7h0M369.4 41.8h0M347.7 46.6h0M369.5 37.8h0M349.6 51.3h0M362.5 44.2h0M358.5 51.3h0M374.1 48.1h0M352.2 47.2h0M343.3 49.2h0M345.6 47.0h0M358.9 39.9h0M345.3 48.1h0M358.0 53.3h0M349.2 47.2h0M345.1 43.6h0M370.6 55.8h0M368.1 57.5h0M346.4 48.4h0M364.0 42.3h0M374.0 45.9h0M357.5 49.6h0M352.1 39.4h0M360.9 48.6h0M363.3 49.0h0M344.1 53.3h0M367.5 50.7h0M373.4 53.8h0M371.0 41.9h0M347.5 42.9h0M373.2 60.6h0M370.7 58.1h0M355.8 40.2h0M366.2 39.9h0M367.3 58.9h0M354.9 48.7h0M353.0 53.6h0M360.2 54.1h0M370.3 50.0h0M357.7 54.3h0M375.9 58.0h0M353.6 51.9h0M367.5 54.5h0M370.2 51.9h0M355.2 40.8h0M351.8 50.9h0M372.1 60.3h0M358.5 46.8h0M361.9 56.8h0M376.9 56.2h0M350.2 40.5h0M343.7 49.3h0M358.0 48.4h0M351.8 43.4h0M374.9 57.3h0M360.8 56.5h0M363.4 53.1h0M365.5 47.5h0M361.0 37.9h0M346.5 46.5h0M375.6 49.0h0M350.1 40.5h0M357.9 51.1h0M353.1 50.1h0M359.1 51.4h0M378.8 52.2h0M374.7 58.7h0M359.7 39.7h0M349.6 53.2h0M358.2 52.9h0M366.6 40.3h0M367.2 50.9h0M375.0 48.1h0M365.1 45.7h0M375.6 60.6h0M358.7 36.6h0M371.9 50.2h0M354.7 54.4h0M359.3 48.6h0M353.5 50.6h0M357.7 37.1h0M344.4 50.8h0M380.4 54.8h0M363.6 38.4h0M345.4 48.2h0M342.7 47.9h0M353.0 39.5h0M365.2 42.8h0M375.1 45.6h0M351.3 38.9h0M378.6 52.8h0M363.7 38.9h0M365.3 50.4h0M352.5 39.2h0M355.3 47.3h0M357.2 42.7h0M346.4 42.4h0M340.3 54.0h0M351.6 38.7h0M346.2 52.3h0M372.8 63.5h0M377.0 54.3h0M348.8 52.1h0M375.3 42.1h0M350.1 53.3h0M377.3 51.5h0M374.3 47.0h0M368.8 53.5h0M376.9 56.4h0M371.6 40.6h0M367.1 46.3h0M352.2 53.9h0M357.8 44.9h0M341.9 54.8h0M371.0 57.4h0M358.1 36.9h0M349.1 53.2h0M358.7 56.8h0M344.3 45.1h0M377.1 56.0h0M353.8 42.6h0M352.4 39.8h0M370.0 40.9h0M345.3 52.0h0M371.3 58.0h0M348.1 51.4h0M365.6 55.9h0M353.2 53.9h0M372.8 45.8h0M378.8 51.4h0M355.4 41.9h0M351.6 49.6h0M360.6 55.2h0M342.8 51.2h0M380.1 56.2h0M377.9 57.9h0M373.8 55.1h0M346.4 44.0h0M367.3 47.2h0M379.2 53.3h0M344.5 52.3h0M351.1 38.9h0M354.0 56.5h0M379.6 60.8h0M370.8 51.1h0M375.9 43.4h0M350.3 44.0h0M377.1 46.3h0M369.3 42.6h0M353.6 58.7h0M371.4 53.9h0M345.0 50.5h0M353.9 40.3h0M366.4 41.9h0M357.6 37.1h0M359.1 55.8h0M377.5 55.2h0M344.6 44.5h0M348.0 51.2h0M377.2 61.0h0M376.7 57.2h0M378.9 59.6h0M375.8 42.9h0M356.5 43.8h0M367.5 47.1h0M375.0 55.2h0M346.2 53.3h0M358.4 39.0h0M342.3 55.5h0M360.8 47.9h0M355.2 39.0h0M359.0 38.1h0M352.7 47.8h0M379.6 54.5h0M376.1 58.6h0M351.1 45.3h0M363.8 38.3h0M363.8 45.6h0M344.0 50.0h0M351.4 44.5h0M366.2 50.6h0M365.1 41.5h0M358.3 55.9h0M348.7 45.9h0M343.9 48.5h0M345.2 46.2h0M378.4 52.8h0M371.5 57.0h0M361.2 43.9h0M377.0 59.1h0M354.4 52.5h0M354.7 48.9h0M346.9 42.0h0M372.5 50.2h0M368.5 40.2h0M369.4 52.5h0M368.1 54.4h0M357.4 44.2h0M359.1 37.0h0M368.7 39.4h0M351.1 42.9h0M361.1 40.6h0M350.5 39.6h0M372.3 63.0h0M370.7 41.1h0M345.3 44.2h0M376.4 47.8h0M364.5 38.6h0M359.1 45.0h0M341.2 54.5h0M378.7 56.2h0M370.6 50.8h0M357.1 48.9h0M360.8 40.9h0M347.8 50.4h0M358.2 52.4h0M371.3 46.1h0M357.6 43.1h0M371.0 55.0h0M357.2 51.3h0M350.9 45.8h0M356.9 52.3h0M364.9 57.7h0M355.9 48.3h0M351.6 46.9h0M377.5 46.4h0M355.3 44.4h0M354.3 44.4h0M362.5 50.4h0M366.8 48.7h0M348.0 45.7h0M374.3 58.3h0M353.4 42.4h0M367.3 50.6h0M356.8 51.8h0M357.3 46.5h0M344.5 46.5h0M364.1 51.7h0M368.1 37.4h0M354.4 42.4h0M368.2 55.4h0M347.1 49.4h0M362.5 53.5h0M361.9 51.5h0M376.7 55.7h0M342.3 51.6h0M373.9 56.8h0M360.3 53.6h0M372.7 55.9h0M376.2 48.1h0M362.9 54.3h0M342.2 48.0h0M346.4 43.0h0M367.5 50.6h0M365.6 55.7h0M367.3 51.7h0M371.1 43.8h0M361.9 57.5h0M357.3 50.7h0M368.9 56.3h0M353.9 57.9h0M360.7 47.0h0M361.2 54.5h0M350.0 46.2h0M343.5 56.5h0M353.4 47.8h0M377.1 60.5h0M361.9 49.3h0M346.2 46.0h0M350.9 42.7h0M374.6 43.9h0M354.4 46.9h0M363.4 49.7h0M348.5 52.7h0M362.4 42.6h0M375.7 42.6h0M360.7 47.8h0M367.8 53.9h0M372.8 41.3h0M358.7 40.0h0M357.3 46.8h0M363.2 41.6h0M359.8 48.8h0M347.4 49.8h0M343.8 49.8h0M349.6 52.2h0M359.2 39.2h0M352.5 55.9h0M344.9 44.9h0M360.1 38.8h0M363.3 49.9h0M358.4 45.8h0M362.8 43.7h0M354.7 41.4h0M345.1 50.4h0M370.2 56.2h0M373.9 47.4h0M376.8 49.8h0M379.2 53.2h0M358.7 37.9h0M347.9 55.9h0M370.7 42.4h0M381.1 56.6h0M361.4 44.9h0M346.9 42.8h0M369.4 50.8h0M372.2 49.7h0M368.9 50.0h0M364.2 48.1h0M356.0 53.8h0M357.0 50.1h0M352.9 48.6h0M356.5 48.8h0M353.3 53.8h0M347.5 41.5h0M358.6 48.7h0M356.2 46.6h0M374.6 58.8h0M364.1 36.3h0M354.1 38.1h0M375.7 57.2h0M373.3 52.4h0M373.5 47.7h0M347.3 54.5h0M358.6 43.5h0M354.4 41.4h0M352.7 55.5h0M374.5 48.5h0M347.9 44.4h0M362.3 52.7h0M364.6 49.0h0M355.2 48.6h0M362.8 48.8h0M372.2 56.2h0M361.1 43.5h0M358.8 42.0h0M360.8 51.8h0M366.4 37.9h0M373.2 40.4h0M355.0 49.7h0M356.9 46.7h0M356.2 53.7h0M371.0 59.1h0M370.9 38.9h0M375.2 62.7h0M348.1 50.2h0M363.5 53.1h0M356.8 45.0h0M354.6 43.7h0M369.7 39.7h0M343.8 52.2h0M361.8 45.3h0M367.8 45.7h0M349.2 45.1h0M364.7 49.7h0M360.6 43.0h0M380.4 53.6h0M342.1 50.2h0M367.1 54.0h0M364.9 47.9h0M376.2 49.6h0M368.9 55.9h0M368.5 49.6h0M351.5 53.7h0M351.7 48.7h0M358.7 45.0h0M353.6 42.2h0M350.7 52.7h0M377.7 55.7h0M366.6 45.5h0M341.6 49.9h0M365.7 40.1h0M373.3 42.9h0M370.1 48.6h0M370.7 58.6h0M372.8 48.7h0M372.2 49.0h0M356.6 48.4h0M353.9 44.3h0M351.0 45.2h0M371.4 41.7h0M363.1 51.5h0M350.8 44.5h0M362.2 52.0h0M353.8 45.2h0M372.1 43.7h0M362.3 50.0h0M361.7 45.9h0M367.1 55.4h0M362.0 36.4h0M370.3 43.4h0M363.4 41.9h0M362.4 54.1h0M365.7 53.1h0M357.6 49.1h0M357.8 39.4h0M369.4 53.9h0M369.4 40.6h0M376.6 50.9h0M366.7 36.9h0M344.2 56.8h0M356.2 44.3h0M354.0 48.2h0M349.5 45.6h0M364.2 40.9h0M374.1 54.0h0M361.7 51.8h0M353.9 38.5h0M347.9 46.3h0M345.8 53.1h0M368.7 51.3h0M354.7 50.3h0M347.5 53.5h0M349.7 44.7h0M371.1 48.3h0M361.2 52.1h0M375.8 42.7h0M346.0 47.8h0M360.3 42.8h0M357.9 44.8h0M372.2 57.4h0M361.2 48.9h0M351.4 49.4h0M348.8 47.1h0M371.7 41.8h0M355.6 43.4h0M367.8 58.0h0M353.7 41.6h0M366.9 48.8h0M356.4 48.9h0M354.2 48.1h0M368.5 46.2h0M369.6 47.7h0M366.8 40.6h0M363.5 57.0h0M357.7 58.6h0M345.3 55.7h0M365.6 45.8h0M353.8 49.9h0M361.3 49.4h0M366.9 39.4h0M361.7 54.3h0M351.0 45.9h0M362.4 40.7h0M377.0 56.9h0M373.4 54.5h0M373.0 41.1h0M349.9 46.3h0M364.9 39.4h0M349.6 53.0h0M356.3 57.1h0M363.3 36.2h0M362.2 55.8h0M354.3 48.0h0M377.8 54.9h0M376.4 48.7h0M367.8 51.7h0M353.3 46.2h0M374.0 48.2h0M374.6 54.9h0M355.2 45.2h0M376.4 43.9h0M365.6 49.7h0M349.7 55.0h0M375.0 54.9h0M354.8 52.2h0M372.1 50.4h0M367.4 52.5h0M370.6 55.8h0M360.3 45.1h0M347.7 42.0h0M368.5 46.4h0M349.5 46.3h0M375.2 40.7h0M359.6 46.5h0M348.4 49.7h0M344.2 46.7h0M365.1 45.4h0M343.5 51.1h0M358.4 53.1h0M365.9 51.0h0M381.6 57.9h0M374.0 46.7h0M374.6 46.8h0M352.9 44.8h0M345.6 53.3h0M368.1 56.1h0M364.2 38.7h0M359.2 50.1h0M367.3 52.9h0M346.1 43.7h0M379.6 55.6h0M366.6 50.0h0M369.9 50.9h0M361.7 50.5h0M377.7 56.3h0M349.5 49.8h0M358.9 54.4h0M375.0 47.2h0M381.6 57.1h0M374.4 51.1h0M369.9 41.7h0M377.3 53.8h0M343.4 51.2h0M349.4 45.0h0M350.4 42.9h0M359.7 48.4h0M372.3 50.6h0M366.6 46.2h0M374.7 57.0h0M369.5 39.5h0M375.4 51.1h0M352.6 44.5h0M367.0 41.1h0M354.0 50.3h0M349.7 52.8h0M362.8 41.8h0M347.4 43.9h0M360.3 48.0h0M365.3 48.3h0M376.1 57.5h0M356.1 44.8h0M375.6 44.8h0M373.3 50.8h0M366.5 43.2h0M379.7 61.0h0M356.9 56.6h0M374.7 57.4h0M372.1 42.0h0M370.1 48.8h0M368.7 55.6h0M357.7 39.0h0M356.7 46.8h0M367.2 42.4h0M351.1 50.9h0M367.5 50.2h0M362.8 56.2h0M372.2 55.0h0M372.5 43.1h0M359.9 38.6h0M373.4 59.8h0M363.2 48.4h0M359.9 56.4h0M351.5 45.0h0M358.5 47.0h0M377.9 48.1h0M357.3 45.4h0M356.8 43.1h0M353.6 52.5h0M371.5 39.5h0M352.3 40.5h0M367.7 52.2h0M366.9 57.5h0M364.6 44.6h0M380.7 57.6h0M377.0 50.8h0M350.7 52.9h0M357.7 40.6h0M374.2 58.4h0M343.2 48.8h0M352.7 43.1h0M343.7 46.3h0M376.0 59.5h0M365.0 36.8h0M370.1 50.9h0M346.2 52.7h0M343.2 49.9h0M349.6 52.0h0M367.6 55.7h0M343.0 46.7h0M365.9 52.3h0M345.4 52.9h0M361.8 53.0h0M364.9 49.4h0M379.1 54.8h0M372.3 43.5h0M348.7 51.3h0M349.5 40.6h0M356.0 57.2h0M374.3 49.4h0M356.2 54.0h0M369.0 50.2h0M362.7 48.9h0M374.9 59.4h0M361.3 38.8h0M360.9 38.8h0M371.4 38.6h0M362.6 46.1h0M357.5 53.6h0M356.9 39.7h0M360.4 46.9h0M375.0 45.5h0M366.8 51.7h0M356.3 44.8h0M369.1 54.5h0M369.6 50.5h0M363.4 53.4h0M372.3 42.0h0M357.4 42.8h0M371.8 44.9h0M350.8 52.7h0M375.2 46.0h0M361.0 41.4h0M340.9 51.7h0M357.8 44.5h0M361.5 47.8h0M374.7 44.5h0M373.2 46.2h0M358.5 43.7h0M366.5 44.8h0M357.6 36.3h0M344.6 51.9h0M364.3 56.0h0M352.9 40.2h0M342.2 48.3h0M361.2 53.0h0M360.5 57.5h0M375.1 58.5h0M368.5 45.5h0M369.9 45.5h0M358.6 42.6h0M354.4 46.9h0M358.3 37.2h0M354.4 51.6h0M366.9 56.3h0M378.5 55.7h0M375.7 58.4h0M366.1 57.4h0M358.5 36.2h0M363.2 49.0h0M359.4 43.3h0M363.4 42.3h0M367.7 45.5h0M347.0 43.4h0M364.7 55.5h0M374.9 60.1h0M352.1 39.2h0M379.1 56.4h0M363.5 52.6h0M345.9 51.8h0M344.9 47.1h0M369.0 53.5h0M371.5 57.5h0M359.8 47.4h0M360.5 46.4h0M378.9 58.6h0M355.2 46.1h0M354.0 47.8h0M369.1 37.6h0M351.8 49.7h0M343.2 54.4h0M367.8 53.1h0M363.7 52.3h0M358.4 51.1h0M365.2 44.3h0M357.9 55.7h0M351.2 38.9h0M375.3 42.7h0M349.9 47.8h0M358.4 53.0h0M370.6 41.7h0M365.8 54.7h0M360.7 49.2h0M368.3 44.4h0M342.9 53.2h0M345.9 54.5h0M349.8 50.9h0M369.2 59.6h0M371.6 50.1h0M356.8 49.9h0M362.4 51.4h0M351.7 51.7h0M360.0 43.4h0M348.6 49.7h0M341.2 54.5h0M344.8 45.3h0M376.3 50.0h0M379.9 61.4h0M349.1 41.4h0M345.6 48.5h0M363.8 38.7h0M350.7 46.9h0M350.0 47.0h0M357.5 42.2h0M350.8 46.8h0M365.8 50.5h0M363.7 52.4h0M367.7 39.2h0M368.5 40.4h0M373.8 59.2h0M369.2 51.0h0M348.3 52.1h0M348.1 49.7h0M357.0 43.3h0M356.3 35.3h0M382.1 61.0h0M376.8 45.9h0M380.9 57.9h0M358.1 39.5h0M344.0 42.5h0M338.1 51.4h0M344.7 41.5h0M354.1 35.4h0M353.9 34.2h0" stroke="#3e6cc2" stroke-width="1.36" stroke-linecap="round" fill="none"/>
<path d="M372.9 39.9h0M375.1 56.2h0M373.4 39.8h0M351.1 56.1h0M369.0 48.6h0M375.2 51.3h0M348.0 48.5h0M361.9 47.7h0M373.1 46.3h0M357.3 49.6h0M354.7 52.9h0M341.3 53.7h0M361.3 51.3h0M356.2 49.2h0M371.8 60.9h0M354.2 50.3h0M343.1 49.7h0M369.6 53.6h0M370.1 52.4h0M347.4 49.2h0M370.7 54.4h0M362.3 53.0h0M379.2 52.6h0M358.5 38.3h0M370.2 54.1h0M342.1 51.1h0M353.5 58.6h0M359.2 49.8h0M380.3 53.1h0M358.3 49.4h0M361.4 43.3h0M373.1 57.9h0M366.9 48.3h0M351.5 45.6h0M348.8 52.1h0M369.9 56.9h0M358.7 44.7h0M379.8 57.0h0M365.8 40.9h0M362.2 58.2h0M379.7 58.3h0M363.9 45.4h0M368.1 47.7h0M366.5 54.9h0M345.7 50.4h0M345.8 53.9h0M352.1 41.3h0M349.3 50.8h0M362.1 49.1h0M360.5 37.5h0M365.8 44.8h0M366.3 37.0h0M364.0 44.6h0M349.4 56.1h0M369.8 38.0h0M356.8 42.0h0M376.0 53.0h0M360.9 46.6h0M371.8 40.5h0M352.4 41.2h0M346.6 43.6h0M346.6 48.4h0M342.4 50.5h0M367.7 55.0h0M357.7 43.1h0M367.2 39.4h0M371.6 60.9h0M369.4 54.8h0M358.5 45.2h0M361.4 48.3h0M364.7 46.2h0M357.6 49.5h0M358.0 36.9h0M370.0 46.7h0M372.4 49.7h0M352.4 42.4h0M377.3 58.3h0M368.5 40.1h0M365.5 53.4h0M375.8 43.8h0M347.4 51.8h0M378.2 53.4h0M364.8 39.6h0M360.4 54.4h0M370.0 54.8h0M378.1 54.5h0M380.5 54.8h0M354.0 44.7h0M372.8 55.8h0M359.4 53.8h0M375.0 41.1h0M377.2 51.0h0M345.7 46.2h0M366.7 54.8h0M360.6 41.5h0M365.7 39.4h0M349.8 55.0h0M372.3 44.6h0M369.7 51.8h0M346.8 42.0h0M356.7 42.1h0M367.0 37.3h0M371.0 53.8h0M362.3 39.3h0M375.6 58.6h0M379.8 59.5h0M365.8 46.7h0M359.7 55.6h0M348.8 53.6h0M367.7 38.2h0M365.2 48.8h0M375.9 45.6h0M376.4 60.3h0M367.7 49.0h0M375.2 47.4h0M357.2 45.7h0M346.3 43.6h0M373.9 51.9h0M379.8 56.9h0M370.5 46.4h0M360.9 43.5h0M372.1 52.2h0M364.5 40.8h0M354.7 54.4h0M354.3 54.2h0M343.2 50.7h0M356.8 38.3h0M352.8 38.8h0M352.9 52.4h0M372.7 58.5h0M363.5 44.6h0M351.4 39.4h0M351.3 45.9h0M368.8 56.7h0M345.7 54.8h0M369.2 58.8h0M377.9 53.5h0M354.4 39.2h0M356.3 53.8h0M359.1 45.2h0M356.2 49.4h0M372.9 42.1h0M380.2 59.9h0M350.2 46.8h0M350.3 51.9h0M362.9 55.9h0M354.7 44.8h0M358.8 51.4h0M345.4 51.8h0M357.8 49.1h0M366.5 40.9h0M368.0 44.5h0M349.9 41.5h0M348.4 48.2h0M369.2 50.0h0M360.0 51.2h0M357.6 39.0h0M380.8 55.1h0M374.2 52.9h0M348.9 51.5h0M356.6 44.5h0M373.7 44.6h0M362.7 48.9h0M358.0 43.0h0M364.5 48.2h0M368.0 55.3h0M379.9 60.2h0M353.5 46.6h0M379.3 53.2h0M345.0 43.7h0M349.3 52.9h0M355.6 48.9h0M378.0 47.6h0M375.3 55.8h0M370.6 61.0h0M353.7 55.8h0M355.2 38.1h0M381.0 61.0h0M341.0 55.8h0M353.8 49.2h0M380.1 54.4h0M366.5 49.7h0M349.8 55.6h0M368.4 48.9h0M364.0 56.6h0M370.9 54.1h0M365.0 47.4h0M371.0 43.0h0M376.6 59.2h0M379.7 58.5h0M374.7 43.9h0M355.5 41.5h0M345.6 54.0h0M375.3 48.2h0M370.4 51.5h0M361.1 43.4h0M353.3 50.1h0M359.9 56.0h0M354.2 48.7h0M355.5 40.5h0M350.1 40.9h0M359.3 36.4h0M343.0 51.7h0M374.1 48.1h0M356.4 44.8h0M363.0 43.8h0M348.9 47.7h0M341.5 50.8h0M347.4 52.5h0M352.0 42.4h0M361.4 45.8h0M359.6 52.0h0M375.2 41.6h0M366.5 37.6h0M367.2 41.7h0M370.7 44.0h0M367.4 57.9h0M351.0 44.6h0M368.4 52.4h0M378.5 51.6h0M345.0 54.6h0M346.2 50.6h0M379.4 52.5h0M368.5 47.8h0M364.1 55.7h0M353.4 55.1h0M367.4 47.1h0M359.6 55.1h0M357.5 46.2h0M362.8 40.8h0M371.5 42.5h0M366.9 55.0h0M361.2 50.9h0M349.1 51.1h0M366.2 42.4h0" stroke="#5a86d0" stroke-width="1.36" stroke-linecap="round" fill="none"/>
<path d="M361.2 59.7h0M347.7 65.1h0M379.4 62.9h0M358.6 55.2h0M352.4 66.9h0M376.2 65.1h0M354.7 66.9h0M344.7 59.2h0M358.6 65.3h0M366.2 64.9h0M351.4 69.1h0M364.6 67.9h0M342.6 55.4h0M364.1 62.9h0M349.8 69.1h0M349.3 71.1h0M376.7 64.4h0M363.2 67.2h0M355.2 61.5h0M346.7 60.4h0M365.2 69.6h0M365.6 65.0h0M357.7 60.1h0M374.1 62.1h0M367.3 62.0h0M358.1 59.2h0M353.0 56.3h0M341.5 65.0h0M380.7 62.1h0M340.0 54.6h0M375.4 62.3h0M347.9 67.7h0M353.1 61.4h0M356.8 66.9h0M346.3 62.7h0M349.0 64.1h0M340.4 63.4h0M350.1 66.5h0M379.2 63.1h0M345.6 69.9h0M356.1 62.2h0M366.5 68.2h0M371.8 70.0h0M362.0 64.8h0M376.6 63.1h0M343.0 58.7h0M362.3 67.1h0M368.6 70.9h0M369.6 65.6h0M363.6 60.0h0M346.2 60.7h0M340.4 57.0h0M357.7 64.7h0M356.6 61.4h0M369.0 70.3h0M341.8 61.2h0M363.3 62.5h0M353.5 67.3h0M350.4 68.1h0M339.5 55.6h0M374.3 63.7h0M361.7 66.8h0M339.1 58.9h0M370.5 56.7h0M375.5 67.8h0M347.5 67.6h0M353.1 60.3h0M344.2 57.7h0M366.3 60.4h0M375.2 62.4h0M377.1 62.8h0M353.4 57.1h0M350.0 64.1h0M345.4 59.8h0M341.3 56.2h0M372.4 69.9h0M376.9 60.6h0M368.1 71.5h0M355.8 59.1h0M352.9 66.6h0M371.2 63.5h0M340.9 63.4h0M343.5 61.5h0M345.9 69.2h0M350.2 64.1h0M353.3 70.0h0M361.4 62.8h0M346.3 60.7h0M360.1 62.4h0M343.8 52.8h0M346.4 63.4h0M353.8 61.8h0M365.3 71.5h0M358.2 62.0h0M341.8 56.3h0M352.7 60.5h0M369.7 66.3h0M377.5 62.8h0M354.5 61.1h0M369.3 63.1h0M345.1 62.8h0M370.1 66.8h0M347.5 60.8h0M375.6 66.7h0M376.6 62.8h0M351.4 65.2h0M368.1 61.1h0M370.7 70.8h0M347.3 55.7h0M360.5 59.6h0M348.5 58.6h0M378.1 63.8h0M367.2 61.8h0M352.1 64.9h0M355.3 58.0h0M361.5 61.8h0M372.5 66.9h0M355.7 69.4h0M358.7 57.0h0M350.2 67.1h0M373.7 69.4h0M356.4 66.4h0M365.2 66.0h0M346.8 58.1h0M374.9 61.6h0M359.0 57.5h0M357.8 63.3h0M371.8 62.5h0M344.3 61.0h0M350.5 71.0h0M355.6 64.7h0M342.6 60.6h0M366.8 68.7h0M343.5 65.7h0M336.1 58.2h0" stroke="#f07a5a" stroke-width="1.36" stroke-linecap="round" fill="none"/>
<text x="385" y="28.8" font-size="6" text-anchor="start" fill="#222" stroke="#222" stroke-width="0.13" >K-means</text>
<circle cx="388" cy="35.5" r="2.3" fill="#3e6cc2"/>
<text x="393" y="37.7" font-size="6.2" text-anchor="start" fill="#222" stroke="#222" stroke-width="0.13" >1</text>
<circle cx="388" cy="43.85" r="2.3" fill="#e2482a"/>
<text x="393" y="46.050000000000004" font-size="6.2" text-anchor="start" fill="#222" stroke="#222" stroke-width="0.13" >2</text>
<circle cx="388" cy="52.2" r="2.3" fill="#1c9a44"/>
<text x="393" y="54.400000000000006" font-size="6.2" text-anchor="start" fill="#222" stroke="#222" stroke-width="0.13" >3</text>
<path d="M420.0 29.7 V84.0 H474.0" fill="none" stroke="#222" stroke-width="0.85"/><path d="M420.0 84.0 h-2.6 M420.0 84.0 v2.6 M420.0 66.1 h-2.6 M437.2 84.0 v2.6 M420.0 48.1 h-2.6 M454.4 84.0 v2.6 M420.0 30.2 h-2.6 M471.6 84.0 v2.6 " stroke="#222" stroke-width="0.85"/>
<text x="447.9" y="25.8" font-size="6" text-anchor="middle" fill="#222" stroke="#222" stroke-width="0.13" >t-SNE</text>
<path d="M438.9 39.9 L444.4 37.6 L452.0 37.1 L458.5 39.3 L462.8 42.0 L463.8 45.8 L465.5 49.1 L467.1 53.4 L468.7 57.7 L468.2 61.0 L465.5 64.2 L461.7 68.5 L458.5 69.7 L456.3 71.8 L455.2 75.1 L453.0 77.3 L448.7 78.9 L443.2 79.4 L440.0 77.3 L438.3 72.9 L436.8 69.7 L433.5 69.1 L430.8 67.5 L428.6 63.2 L428.1 58.8 L429.1 53.4 L430.8 49.1 L433.5 44.7 L436.2 42.0Z" fill="#4a3a20" opacity="0.45"/>
<path d="M446.7 52.3h0M430.4 48.5h0M429.6 58.1h0M454.7 39.2h0M453.2 41.8h0M429.7 51.1h0M435.4 55.7h0M435.2 53.1h0M432.2 61.2h0M457.3 37.9h0M448.1 39.5h0M433.7 56.3h0M428.7 51.5h0M430.6 51.2h0M453.2 45.2h0M430.1 49.7h0M435.2 47.8h0M440.5 42.8h0M438.1 41.6h0M434.2 59.8h0M438.6 40.9h0M432.3 61.8h0M438.7 57.4h0M449.3 46.7h0M428.5 59.6h0M431.4 49.4h0M446.5 48.3h0M437.5 56.0h0M451.9 44.2h0M434.8 57.0h0M429.8 54.0h0M458.5 38.3h0M457.5 38.6h0M428.9 54.2h0M451.7 38.5h0M459.0 42.3h0M458.7 43.4h0M435.8 55.8h0M437.9 42.4h0M456.6 43.3h0M447.4 47.0h0M433.2 50.7h0M434.2 61.7h0M447.1 44.6h0M456.1 41.2h0M436.4 47.4h0M449.1 51.0h0M445.2 51.6h0M443.0 51.4h0M431.0 48.4h0M439.8 56.6h0M441.1 44.2h0M436.0 51.9h0M433.4 45.1h0M456.7 37.4h0M459.9 42.3h0M454.0 44.2h0M442.1 43.5h0M436.7 44.9h0M446.5 36.5h0M454.1 41.7h0M446.8 44.1h0M440.9 56.1h0M443.0 46.3h0M450.6 51.4h0M430.0 56.4h0M448.1 42.6h0M440.7 40.4h0M441.6 47.8h0M449.9 37.7h0M430.0 54.8h0M459.0 39.6h0M436.7 49.0h0M433.1 48.0h0M451.4 40.9h0M434.2 53.4h0M431.2 60.7h0M428.1 56.0h0M455.8 39.5h0M444.0 47.8h0M452.0 41.4h0M457.0 37.5h0M447.0 38.6h0M458.7 42.8h0M428.0 53.1h0M433.8 50.3h0M433.0 53.7h0M436.5 47.5h0M428.2 58.2h0M436.1 52.1h0M442.7 45.6h0M446.3 43.6h0M443.2 50.7h0M444.7 47.5h0M433.4 49.4h0M446.6 42.6h0M433.8 46.4h0M440.4 38.3h0M455.6 37.5h0M454.4 37.1h0M454.9 50.9h0M435.6 48.1h0M440.0 49.3h0M439.6 54.0h0M442.5 46.5h0M438.9 49.1h0M437.9 43.6h0M442.3 43.1h0M435.1 46.7h0M439.3 51.7h0M447.6 44.1h0M438.7 45.8h0M433.1 48.6h0M441.5 41.8h0M440.8 39.1h0M445.2 44.8h0M450.8 39.2h0M432.6 49.2h0M433.6 59.8h0M438.9 43.7h0M444.8 45.7h0M432.7 64.5h0M450.6 40.6h0M432.4 48.5h0M429.0 53.0h0M443.0 55.6h0M452.3 39.4h0M451.8 48.2h0M448.1 43.5h0M428.2 55.6h0M446.6 49.7h0M433.5 47.6h0M444.4 37.1h0M455.4 37.9h0M453.2 41.8h0M452.7 40.7h0M439.5 51.6h0M437.4 47.2h0M439.5 50.0h0M456.0 39.5h0M437.8 47.6h0M435.5 49.2h0M439.9 50.5h0M457.5 44.8h0M446.1 43.5h0M450.8 42.0h0M448.1 41.6h0M462.0 40.7h0M439.8 52.4h0M448.2 36.9h0M434.2 47.6h0M439.4 52.0h0M444.4 50.8h0M456.7 39.1h0M433.4 51.6h0M439.7 44.0h0M436.8 55.6h0M434.9 52.0h0M453.3 44.6h0M451.6 42.6h0M437.9 62.8h0M452.4 42.4h0M443.1 48.6h0M449.3 47.1h0M437.2 43.8h0M429.4 56.6h0M443.7 47.9h0M432.9 45.5h0M437.0 57.8h0M438.0 47.3h0M427.4 61.1h0M447.7 36.3h0M440.5 46.7h0M434.1 47.7h0M445.3 49.0h0M429.0 64.2h0M444.7 48.3h0M446.1 37.1h0M438.9 44.3h0M439.4 52.9h0M433.3 51.3h0M460.1 39.3h0M459.8 40.2h0M443.1 42.9h0M431.8 60.6h0M441.2 41.4h0M451.6 44.1h0M448.7 49.1h0M449.0 40.9h0M446.4 52.0h0M437.0 40.7h0M446.2 44.2h0M432.4 44.9h0M428.6 65.8h0M452.7 46.2h0M432.7 55.3h0M437.6 40.6h0M447.7 52.5h0M456.8 43.6h0M449.4 39.4h0M458.0 47.7h0M453.5 44.1h0M453.7 36.6h0M434.9 43.9h0M428.3 59.8h0M434.6 53.7h0M452.5 45.5h0M440.2 50.0h0M430.3 58.6h0M455.1 38.0h0M448.0 52.8h0M428.7 53.4h0M448.2 44.9h0M439.9 42.8h0M441.8 42.4h0M435.7 49.7h0M461.2 45.3h0M431.9 62.6h0M432.5 54.5h0M455.6 48.4h0M457.8 39.4h0M430.0 51.1h0M430.0 53.6h0M446.7 44.2h0M459.4 41.9h0M432.0 49.5h0M457.3 42.5h0M436.9 52.1h0M455.6 39.9h0M441.6 52.9h0M439.7 48.7h0M429.2 57.7h0M444.1 51.2h0M439.7 47.3h0M427.8 54.3h0M442.8 42.8h0M433.5 43.9h0M444.6 37.7h0M440.9 42.8h0M430.3 55.8h0M437.8 56.0h0M429.5 57.6h0M436.4 51.8h0M443.7 55.6h0M453.0 42.7h0M440.6 38.6h0M431.7 52.1h0M445.1 43.3h0M442.5 52.5h0M449.8 44.4h0M437.1 47.5h0M445.0 46.5h0M449.5 37.8h0M443.5 44.9h0M434.6 58.4h0M432.4 54.0h0M453.4 41.2h0M432.9 58.1h0M432.7 53.6h0M451.8 37.7h0M450.5 41.1h0M445.0 44.1h0M433.5 49.2h0M449.3 41.4h0M458.9 40.3h0M438.9 48.9h0M455.6 39.6h0M454.1 38.1h0M436.3 43.7h0M435.9 44.0h0M439.4 50.5h0M433.0 49.4h0M449.6 38.9h0M446.9 49.5h0M444.9 50.6h0M448.7 48.1h0M444.9 40.0h0M427.4 59.1h0M441.2 48.6h0M453.2 47.5h0M441.3 40.3h0M428.3 63.5h0M437.2 43.0h0M441.9 37.6h0M429.9 52.6h0M431.4 47.1h0M444.6 39.3h0M451.5 38.2h0M434.5 42.3h0M444.7 54.7h0M454.4 42.8h0M441.0 43.2h0M457.8 48.4h0M437.2 57.6h0M436.6 42.8h0M433.1 51.0h0M452.9 42.4h0M435.7 47.1h0M456.3 37.2h0M437.7 56.9h0M431.8 48.7h0M440.9 50.9h0M436.3 47.6h0M453.9 47.4h0M457.3 38.8h0M435.6 45.6h0M445.5 51.2h0M445.8 39.7h0M429.6 49.5h0M443.1 53.3h0M434.3 44.4h0M428.1 53.0h0M432.5 48.6h0M434.8 51.7h0M456.4 49.4h0M452.6 41.5h0M437.2 45.1h0M451.3 42.2h0M449.4 38.2h0M444.3 39.2h0M437.2 50.4h0M441.6 51.4h0M429.2 65.5h0M436.3 40.8h0M446.4 37.6h0M436.9 59.0h0M451.4 43.4h0M437.4 40.4h0M439.5 45.1h0M434.7 58.0h0M435.3 52.3h0M427.1 58.5h0M445.5 40.8h0M443.0 50.3h0M441.5 42.6h0M454.4 37.5h0M450.6 37.1h0M460.1 39.3h0M434.2 52.9h0M450.6 47.1h0M444.4 54.2h0M428.4 59.4h0M442.4 38.6h0M436.1 43.6h0M457.9 45.3h0M439.8 43.1h0M448.4 41.3h0M435.0 60.6h0M439.0 41.7h0M432.6 56.9h0M454.1 38.7h0M435.4 41.1h0M441.2 44.5h0M435.3 47.9h0M431.8 62.2h0M433.8 56.4h0M432.5 44.8h0M453.6 38.6h0M449.2 41.0h0M445.7 38.6h0M445.2 47.5h0M447.0 49.3h0M437.2 43.2h0M441.6 41.5h0M428.4 53.7h0M439.2 52.5h0M443.0 39.0h0M443.5 39.0h0M451.1 40.9h0M441.7 40.0h0M456.1 44.1h0M450.3 37.0h0M446.8 40.9h0M436.2 60.3h0M436.9 51.9h0M439.0 43.3h0M442.2 42.8h0M434.9 49.4h0M433.2 51.1h0M433.0 46.3h0M429.3 59.8h0M448.6 50.8h0M438.4 38.9h0M444.5 36.3h0M438.7 55.5h0M438.0 44.5h0M438.2 45.2h0M441.1 42.2h0M443.5 43.1h0M451.0 45.1h0M431.2 58.1h0M440.7 41.8h0M444.4 38.9h0M463.8 42.0h0M451.4 43.0h0M460.8 40.1h0M451.0 47.6h0M430.2 57.0h0M429.1 50.9h0M428.2 57.5h0M444.7 54.4h0M440.9 49.1h0M427.2 57.6h0M430.5 51.8h0M455.6 39.7h0M456.4 39.5h0M454.7 37.6h0M458.9 42.9h0M444.2 54.0h0M435.2 51.4h0M435.5 56.5h0M429.5 58.0h0M454.9 41.2h0M436.1 41.4h0M430.7 53.6h0M434.2 49.9h0M431.1 56.2h0M431.2 60.3h0M434.1 61.4h0M446.1 43.6h0M434.7 42.8h0M444.2 38.4h0M439.8 54.2h0M450.8 36.0h0M437.5 49.9h0M447.5 42.3h0M448.8 43.2h0M459.8 44.2h0M432.1 44.8h0M444.8 53.8h0M454.3 40.7h0M436.5 50.2h0M430.2 55.2h0M458.5 42.3h0M459.9 44.7h0M459.6 38.4h0M439.7 54.4h0M437.3 57.1h0M446.2 43.9h0M446.1 44.5h0M429.9 56.1h0M430.2 48.7h0M450.6 45.7h0M458.1 42.6h0M432.3 53.2h0M454.9 44.9h0M444.9 45.0h0M450.5 36.6h0M449.1 44.1h0M444.7 39.2h0M440.4 52.8h0M452.0 36.0h0M431.6 53.0h0M452.0 48.2h0M442.1 37.7h0M430.7 49.9h0M452.8 39.2h0M456.3 38.2h0M441.2 51.6h0M430.1 62.6h0M434.3 43.4h0M446.8 44.3h0M445.6 37.1h0M448.1 39.5h0M441.9 44.6h0M445.8 37.2h0M431.0 54.4h0M446.6 37.6h0M436.4 44.2h0M449.5 43.6h0M431.4 49.7h0M462.2 40.7h0M444.2 42.5h0M453.2 49.0h0M435.4 52.4h0M435.4 56.7h0M444.5 46.1h0M453.4 39.4h0M430.2 49.9h0M452.1 36.8h0M444.2 51.2h0M452.2 38.4h0M436.4 46.1h0M433.4 45.2h0M459.8 39.4h0M438.7 41.0h0M458.9 40.1h0M439.7 43.8h0M449.2 37.9h0M449.6 40.4h0M443.5 39.9h0M435.5 42.7h0M454.8 44.2h0M444.2 43.1h0M452.1 46.1h0M430.5 52.3h0M436.0 40.7h0M436.2 47.0h0M433.7 43.8h0M442.1 42.4h0M442.1 45.8h0M461.4 44.3h0M433.9 52.7h0M443.9 43.6h0M463.7 42.7h0M434.7 58.2h0M444.5 45.5h0M457.6 42.4h0M431.7 49.0h0M441.2 45.0h0M449.7 38.4h0M436.4 58.1h0M438.9 45.3h0M443.8 48.8h0M433.2 59.4h0M459.3 40.6h0M434.9 42.7h0M456.1 40.4h0M437.1 52.1h0M459.9 38.9h0M430.0 59.6h0M453.8 41.7h0M452.2 45.5h0M428.5 59.0h0M436.2 50.0h0M438.7 41.3h0M451.8 43.4h0M459.3 38.9h0M449.9 47.2h0M439.9 45.5h0M449.5 52.9h0M448.4 46.9h0M458.8 45.2h0M452.4 37.0h0M443.2 41.7h0M429.1 57.2h0M445.9 54.6h0M442.9 52.4h0M447.9 44.3h0M450.7 49.9h0M438.8 48.6h0M431.9 49.4h0M427.5 62.0h0M457.3 46.9h0M448.9 41.0h0M446.8 40.1h0M435.1 44.1h0M449.3 51.1h0M449.9 36.1h0M447.1 52.5h0M455.4 44.1h0M435.4 47.8h0M457.1 38.4h0M432.0 52.0h0M453.1 36.1h0M459.2 48.9h0M449.3 37.5h0M444.3 49.3h0M434.2 46.0h0M442.7 47.2h0M442.5 48.8h0M449.8 47.4h0M428.3 59.6h0M440.4 48.7h0M441.8 52.4h0M435.3 48.5h0M438.9 38.5h0M431.3 50.3h0M431.3 48.5h0M432.2 56.0h0M445.0 44.8h0M444.0 37.6h0M432.0 57.0h0M438.3 39.1h0M433.7 51.9h0M443.5 50.4h0M444.2 43.6h0M437.6 52.5h0M447.5 47.7h0M452.2 45.7h0M446.6 41.7h0M435.8 49.4h0M444.1 43.0h0M459.5 44.5h0M456.3 39.8h0M427.1 61.6h0M428.7 60.3h0M434.0 53.6h0M430.7 56.6h0M442.5 49.4h0M435.5 55.1h0M457.0 41.6h0M443.3 45.5h0M453.4 48.8h0M448.7 44.5h0M433.2 57.9h0M438.4 48.9h0M451.5 40.5h0M453.7 43.3h0M443.8 43.6h0M441.6 46.4h0M442.6 52.0h0M441.4 59.5h0M439.4 46.8h0M431.7 61.2h0M458.9 41.8h0M447.3 44.0h0M442.4 50.5h0M454.5 46.1h0M430.5 47.5h0M464.6 44.2h0M451.9 36.9h0M440.6 48.1h0M432.6 50.3h0M441.2 40.6h0M445.6 43.9h0M451.1 44.8h0M449.4 42.6h0M449.6 43.2h0M457.9 45.2h0M453.9 38.5h0M453.2 45.2h0M448.9 53.8h0M456.3 38.9h0M447.6 45.0h0M452.1 51.1h0M444.0 48.6h0M442.1 52.0h0M442.9 43.4h0M436.3 41.9h0M446.6 51.9h0M442.5 40.5h0M436.7 53.5h0M439.4 41.8h0M452.6 38.0h0M438.4 41.8h0M430.8 51.8h0M444.8 40.6h0M436.7 53.9h0M431.0 49.2h0M444.1 49.9h0M433.7 54.8h0M451.1 37.0h0M453.9 40.9h0M439.1 49.4h0M451.4 48.4h0M450.2 50.7h0M440.7 40.6h0M460.1 43.0h0M435.2 47.6h0M433.3 55.2h0M443.4 37.1h0M451.9 37.5h0M430.9 54.6h0M458.8 41.1h0M445.8 49.9h0M432.3 52.3h0M430.7 59.5h0M446.6 45.7h0M432.1 50.7h0M430.0 58.6h0M441.7 50.5h0M451.6 40.0h0M447.4 37.9h0M450.8 43.3h0M429.0 52.9h0M457.1 45.0h0M444.6 49.9h0M439.8 52.0h0M460.6 42.7h0M433.6 45.9h0M435.9 40.7h0M447.1 42.3h0M438.8 58.9h0M443.2 38.7h0M437.1 55.4h0M437.1 50.0h0M427.7 57.1h0M441.4 42.6h0M439.0 39.5h0M455.6 40.9h0M445.3 38.7h0M446.2 45.6h0M431.4 56.4h0M436.7 49.2h0M443.6 43.0h0M435.5 51.8h0M444.6 48.9h0M428.4 55.9h0M445.6 42.7h0M435.4 45.0h0M430.8 53.8h0M443.0 52.0h0M443.6 50.4h0M461.4 42.7h0M439.7 50.1h0M453.2 45.4h0M448.5 43.3h0M438.6 55.9h0M447.0 50.6h0M439.3 43.6h0M445.9 36.7h0M436.6 54.7h0M449.1 50.2h0M441.3 49.9h0M456.0 45.9h0M440.0 43.6h0M438.5 40.4h0M431.8 51.6h0M437.4 39.6h0M445.1 49.8h0M438.1 48.7h0M439.6 53.1h0M433.0 48.4h0M461.8 47.0h0M432.5 55.1h0M436.5 50.9h0M453.9 43.9h0M450.8 41.9h0M450.5 47.7h0M446.3 46.1h0M463.0 42.8h0M446.9 50.7h0M452.7 37.4h0M452.9 41.8h0M431.2 60.6h0M432.7 57.3h0M451.4 40.4h0M459.5 48.9h0M456.3 42.5h0M437.8 40.4h0M431.4 50.2h0M429.7 58.9h0M450.4 47.8h0M450.4 40.6h0M442.5 40.9h0M455.2 41.4h0M441.4 50.0h0M439.0 53.1h0M428.1 59.1h0M444.1 50.0h0M440.7 54.3h0M445.9 51.0h0M431.2 48.1h0M447.9 46.9h0M437.9 45.8h0M463.4 42.8h0M443.3 49.4h0M430.6 50.1h0M439.6 53.1h0M457.8 41.4h0M454.4 46.3h0M448.9 50.8h0M431.8 55.5h0M435.6 46.2h0M437.1 47.9h0M453.0 46.8h0M443.7 49.3h0M436.9 52.4h0M427.1 61.6h0M456.6 39.1h0M440.8 40.5h0M455.8 37.8h0M424.0 59.9h0M458.4 39.0h0M462.4 39.0h0M429.4 52.8h0M437.5 37.7h0M433.0 45.1h0" stroke="#961a16" stroke-width="1.4" stroke-linecap="round" fill="none"/>
<path d="M448.5 77.0h0M448.7 78.2h0M452.0 76.9h0M447.6 79.3h0M450.3 77.2h0M442.9 79.9h0M440.4 77.8h0M450.0 79.0h0M443.5 79.8h0M449.2 78.9h0M448.2 78.9h0M452.2 78.6h0M447.2 80.3h0M443.1 78.9h0M441.2 79.2h0M440.8 78.7h0M454.4 77.3h0M447.5 77.5h0M443.6 77.2h0M443.9 78.5h0M447.5 80.1h0M448.7 79.3h0M441.6 77.3h0M443.0 80.3h0M442.4 79.5h0M440.2 78.4h0M446.9 80.0h0M443.9 78.6h0M453.8 76.9h0M445.1 80.2h0M447.2 77.8h0M452.1 78.4h0M443.8 79.2h0M446.9 77.1h0M447.3 77.5h0M447.8 78.2h0M444.0 77.9h0M446.7 77.7h0M447.6 77.2h0M442.6 79.6h0M446.5 77.9h0M443.3 79.4h0M446.7 78.0h0M447.8 79.4h0M449.4 77.7h0M442.9 77.1h0M449.6 78.3h0M443.0 79.8h0M441.0 78.7h0M442.8 77.1h0M441.9 77.0h0M446.9 78.7h0M442.3 79.9h0M445.7 77.3h0M446.4 78.0h0M448.4 77.6h0M449.3 79.2h0M452.7 78.4h0M446.5 78.6h0M451.0 78.6h0M448.6 78.6h0M451.1 77.9h0M441.8 78.9h0M440.7 78.8h0M452.9 77.4h0M448.3 77.6h0M444.5 78.4h0M443.9 76.9h0M450.3 76.8h0M445.6 79.6h0M442.8 77.3h0M453.0 77.6h0M449.1 78.9h0M440.5 77.1h0M440.9 77.0h0M442.7 78.8h0M441.3 78.9h0M453.0 77.0h0M452.9 77.2h0M443.9 80.2h0M447.1 79.8h0M445.5 77.0h0M442.7 78.5h0M452.2 77.1h0M442.1 77.1h0M441.2 79.1h0M449.9 79.1h0M453.0 78.4h0" stroke="#2a4fb0" stroke-width="1.4" stroke-linecap="round" fill="none"/>
<path d="M450.9 63.8h0M442.9 67.9h0M433.6 63.4h0M431.3 68.0h0M442.5 66.2h0M457.6 70.7h0M448.0 64.7h0M454.0 76.0h0M452.8 63.6h0M434.3 63.4h0M453.1 57.9h0M453.4 61.5h0M441.1 55.8h0M457.0 51.7h0M440.8 70.0h0M453.0 60.4h0M433.9 64.7h0M449.1 76.8h0M449.6 66.0h0M454.9 49.6h0M460.7 56.6h0M432.6 65.2h0M449.2 70.9h0M440.5 67.7h0M465.0 48.3h0M437.4 62.2h0M458.1 67.2h0M438.5 65.2h0M455.0 65.2h0M459.5 59.3h0M454.9 60.4h0M459.4 50.5h0M454.8 73.8h0M442.2 75.9h0M458.7 55.6h0M459.0 64.3h0M439.6 65.5h0M446.8 65.5h0M451.2 66.4h0M446.2 70.7h0M447.1 62.5h0M457.5 66.6h0M460.9 60.9h0M458.7 54.1h0M461.7 45.9h0M463.7 48.8h0M452.0 61.8h0M457.0 55.5h0M460.5 60.5h0M450.6 50.6h0M456.0 64.4h0M457.4 64.5h0M443.8 75.9h0M447.6 76.6h0M444.5 71.9h0M451.8 55.7h0M456.1 55.8h0M459.9 56.9h0M450.3 71.5h0M461.0 69.5h0M441.2 66.0h0M451.2 49.5h0M462.2 57.0h0M465.0 49.3h0M447.8 55.4h0M456.2 69.2h0M450.3 47.3h0M458.5 66.2h0M448.9 67.4h0M443.0 67.7h0M459.4 57.2h0M452.9 70.5h0M433.0 68.2h0M455.6 63.9h0M450.6 71.3h0M458.7 58.8h0M452.2 60.8h0M452.0 70.4h0M459.4 67.1h0M455.1 74.2h0M433.2 67.8h0M449.9 60.7h0M445.1 73.9h0M460.3 63.0h0M452.5 62.4h0M440.2 67.5h0M463.3 48.0h0M438.6 62.9h0M445.2 53.0h0M438.8 73.3h0M446.4 60.0h0M452.1 64.2h0M452.1 72.1h0M434.7 69.6h0M465.3 63.1h0M451.2 73.6h0M451.1 68.5h0M461.0 68.6h0M449.4 72.1h0M450.4 64.8h0M445.0 65.8h0M439.8 63.5h0M427.8 64.2h0M440.4 68.5h0M448.8 75.6h0M446.3 74.3h0M459.4 63.5h0M448.6 74.0h0M442.8 69.7h0M461.4 49.2h0M445.7 66.7h0M454.3 61.5h0M461.7 46.3h0M436.6 60.1h0M431.7 64.6h0M442.8 74.9h0M437.1 68.8h0M453.0 66.3h0M432.1 69.0h0M454.0 55.0h0M438.1 67.2h0M438.1 71.8h0M444.4 70.1h0M446.9 73.2h0M432.3 67.2h0M463.5 59.3h0M447.6 68.8h0M455.0 52.9h0M457.1 56.5h0M450.3 65.0h0M437.4 66.5h0M444.2 59.0h0M460.4 53.4h0M441.1 69.5h0M437.7 71.8h0M466.8 49.1h0M452.8 69.0h0M449.7 52.0h0M456.4 58.0h0M436.9 70.9h0M444.8 75.8h0M444.3 54.5h0M431.9 61.7h0M447.2 76.1h0M456.5 72.5h0M438.3 72.6h0M441.9 74.3h0M455.2 69.7h0M452.0 59.4h0M440.7 66.2h0M442.9 70.4h0M455.3 55.9h0M454.9 56.4h0M447.9 69.9h0M452.3 63.1h0M446.7 66.3h0M449.4 62.0h0M438.8 58.4h0M444.1 73.2h0M458.2 58.4h0M441.3 65.8h0M449.1 68.3h0M452.4 53.3h0M439.6 68.7h0M446.3 72.7h0M457.5 60.6h0M439.6 67.6h0M447.8 67.9h0M456.8 63.8h0M434.6 63.5h0M444.6 65.6h0M453.4 70.6h0M446.0 53.8h0M452.7 60.9h0M435.2 61.6h0M452.0 63.2h0M459.9 57.9h0M448.4 61.7h0M457.9 56.1h0M454.5 57.3h0M450.1 67.8h0M457.3 64.8h0M444.0 59.1h0M461.7 65.3h0M458.9 68.7h0M439.6 62.7h0M439.9 60.0h0M452.3 74.9h0M435.1 68.4h0M457.6 57.1h0M450.6 58.5h0M459.9 52.1h0M443.9 70.0h0M452.9 69.3h0M443.8 60.3h0M441.6 74.1h0M442.4 66.2h0M447.9 73.4h0M442.7 60.5h0M453.9 76.0h0M453.5 62.4h0M458.7 61.2h0M463.2 44.8h0M457.9 52.1h0M447.0 71.5h0M440.9 60.7h0M454.2 61.5h0M450.1 64.2h0M456.2 61.8h0M464.2 42.9h0M447.3 66.5h0M448.4 61.4h0M458.4 70.8h0M447.7 64.4h0M447.6 71.8h0M445.0 74.6h0M436.6 70.6h0M446.6 70.7h0M440.7 71.7h0M435.4 69.8h0M464.5 56.5h0M445.0 74.2h0M444.9 66.5h0M448.1 72.0h0M429.9 67.3h0M445.3 60.6h0M454.6 61.5h0M462.5 44.7h0M450.4 57.7h0M452.7 57.0h0M448.5 76.1h0M457.3 51.8h0M451.3 71.0h0M459.3 70.0h0M441.0 58.2h0M459.3 51.8h0M467.7 53.6h0M450.4 59.4h0M457.1 68.1h0M456.4 68.7h0M447.3 74.0h0M442.8 56.2h0M434.6 66.9h0M443.7 74.4h0M452.4 76.5h0M451.5 73.6h0M450.2 60.1h0M452.7 73.3h0M447.4 56.2h0M463.1 45.9h0M441.4 59.5h0M455.9 61.7h0M443.9 54.8h0M447.2 61.1h0M452.0 55.0h0M450.7 57.1h0M462.4 68.3h0M452.0 70.6h0M456.6 48.6h0M441.3 76.4h0M437.7 72.2h0M461.9 68.6h0M445.2 73.1h0M456.2 62.8h0M448.8 73.4h0M450.8 64.1h0M453.5 58.2h0M430.4 66.5h0M457.7 60.1h0M446.0 61.7h0M452.6 71.6h0M447.5 70.9h0M431.5 68.2h0M451.0 64.9h0M442.2 74.6h0M452.6 73.1h0M451.8 69.9h0M461.1 51.6h0M452.8 51.2h0M441.0 71.2h0M457.0 68.2h0M461.1 50.9h0M454.9 51.4h0M449.1 63.3h0M447.2 75.3h0M436.9 67.4h0M453.4 70.2h0M436.7 62.2h0M447.0 73.0h0M449.7 75.5h0M454.9 72.4h0M452.0 72.7h0M469.5 60.3h0M451.4 59.9h0M459.6 62.6h0M434.8 69.1h0M439.2 63.7h0M454.8 64.5h0M460.9 45.9h0M450.8 63.1h0M461.0 68.5h0M440.6 70.1h0M438.1 68.8h0M460.6 61.5h0M439.9 69.4h0M449.2 61.8h0M458.3 67.4h0M447.9 58.5h0M446.4 62.6h0M443.7 53.4h0M447.3 69.4h0M449.6 47.8h0M429.7 66.8h0M448.4 70.0h0M455.4 53.8h0M443.0 62.6h0M446.8 72.2h0M464.0 62.1h0M441.4 72.7h0M454.8 57.8h0M445.1 65.1h0M455.5 74.7h0M453.0 58.2h0M440.4 74.7h0M441.5 73.8h0M453.0 71.5h0M452.1 49.9h0M460.5 65.0h0M455.3 62.7h0M451.9 62.2h0M448.4 72.8h0M444.8 57.6h0M438.0 73.2h0M442.3 67.9h0M446.9 63.6h0M434.3 60.7h0M459.9 58.1h0M459.2 57.5h0M442.8 72.1h0M455.3 61.1h0M444.5 74.6h0M439.8 72.5h0M448.8 76.0h0M460.6 40.6h0M427.5 62.7h0M438.8 62.6h0M443.7 69.7h0M444.1 57.8h0M434.5 65.3h0M461.0 50.8h0M451.3 62.7h0M434.1 65.6h0M445.3 73.9h0M456.6 70.0h0M446.3 51.9h0M450.7 74.6h0M455.7 62.3h0M440.2 69.8h0M453.8 51.1h0M430.8 68.6h0M446.2 56.5h0M469.4 61.1h0M451.1 65.2h0M438.2 70.6h0M450.1 63.7h0M437.5 67.4h0M452.8 65.8h0M459.4 68.6h0M457.5 47.8h0M431.5 65.8h0M452.7 58.6h0M442.2 55.0h0M458.8 53.2h0M448.5 64.3h0M442.1 65.6h0M449.0 71.1h0M438.0 63.2h0M456.6 51.1h0M456.0 59.4h0M455.0 55.9h0M448.8 65.7h0M432.4 66.5h0M459.9 60.5h0M464.6 47.9h0M434.6 69.0h0M451.5 63.3h0M452.4 76.4h0M455.7 64.3h0M450.5 56.7h0M466.4 51.2h0M458.7 45.8h0M458.6 56.9h0M457.8 52.9h0M446.0 66.6h0M464.0 51.6h0M446.9 71.8h0M459.2 69.0h0M465.7 47.5h0M440.2 66.4h0M444.4 69.1h0M451.9 52.0h0M461.3 66.4h0M457.9 71.1h0M440.3 67.7h0M458.1 48.5h0M458.4 60.8h0M456.4 59.7h0M455.6 51.8h0M441.6 61.9h0M464.6 48.3h0M459.4 67.4h0M436.8 67.9h0M459.7 64.2h0M468.2 61.5h0M453.3 47.9h0M445.2 53.9h0M463.3 67.7h0M445.9 64.9h0M451.2 73.3h0M438.9 62.2h0M455.4 71.2h0M452.3 69.6h0M451.9 65.1h0M445.8 58.3h0M461.7 69.5h0M449.8 57.2h0M439.8 75.2h0M445.8 67.3h0M452.6 52.2h0M455.1 71.2h0M455.6 73.0h0M443.7 62.6h0M450.5 76.5h0M447.4 69.1h0M441.7 75.6h0M459.4 62.3h0M444.1 76.0h0M458.4 56.3h0M455.2 74.9h0M431.0 66.2h0M451.0 63.8h0M446.9 69.1h0M458.3 62.9h0M457.5 66.8h0M452.7 69.1h0M441.1 70.2h0M463.2 61.8h0M438.9 67.3h0M437.4 55.4h0M456.3 55.1h0M442.9 72.7h0M467.3 60.1h0M456.7 66.5h0M460.1 44.7h0M435.2 60.7h0M460.1 62.0h0M430.3 64.4h0M455.5 50.9h0M460.2 67.0h0M465.9 59.5h0M437.3 71.3h0M445.7 53.8h0M439.5 71.8h0M447.8 74.8h0M457.3 54.3h0M460.1 60.0h0M462.6 68.5h0M439.3 77.7h0M442.2 65.8h0M429.5 58.7h0M445.1 60.4h0M461.2 63.3h0M459.1 57.5h0M451.5 75.2h0M461.7 55.0h0M442.2 72.0h0M442.0 56.0h0M454.0 69.4h0M447.8 61.1h0M459.9 59.9h0M443.8 72.9h0M444.1 69.9h0M438.9 72.1h0M444.0 75.8h0M465.9 57.2h0M441.0 72.7h0M441.1 59.9h0M461.1 48.2h0M442.5 69.9h0M439.6 59.5h0M465.0 53.6h0M456.0 66.2h0M455.3 46.3h0M433.8 69.6h0M461.8 68.6h0M460.0 60.2h0M463.6 60.0h0M453.3 64.7h0M453.8 61.5h0M456.1 55.0h0M446.9 75.9h0M440.5 59.5h0M440.5 72.6h0M465.7 61.7h0M441.0 75.2h0M458.6 64.1h0M469.4 56.6h0M443.8 67.8h0M449.7 48.6h0M449.0 70.8h0M457.6 67.4h0M448.4 57.2h0M448.4 63.2h0M442.1 61.6h0M442.4 67.7h0M453.1 50.7h0M462.6 66.9h0M459.9 57.4h0M439.6 61.6h0M446.8 72.9h0M448.3 74.2h0M454.0 66.2h0M456.4 62.4h0M439.7 76.1h0M452.7 70.0h0M441.5 59.5h0M459.1 49.9h0M452.5 63.8h0M453.6 48.0h0M453.7 66.8h0M452.3 74.6h0M448.2 55.7h0M465.6 49.1h0M460.8 67.1h0M454.9 75.0h0M464.9 64.1h0M448.4 60.5h0M449.0 51.3h0M446.3 57.8h0M462.9 62.7h0M444.7 52.8h0M440.1 65.2h0M453.5 57.4h0M438.7 64.2h0M456.6 53.2h0M449.4 76.6h0M466.8 60.1h0M450.6 68.3h0M445.1 54.1h0M457.9 64.2h0M440.2 59.5h0M448.3 66.8h0M433.0 57.0h0M440.0 56.2h0M447.3 72.3h0M452.5 76.5h0M456.8 70.3h0M454.6 59.0h0M452.6 58.4h0M460.5 59.0h0M458.1 69.9h0M438.9 73.1h0M453.1 73.5h0M455.8 66.4h0M446.6 60.8h0M446.6 51.3h0M453.1 57.7h0M450.0 56.5h0M451.1 54.0h0M438.0 73.2h0M463.2 58.6h0M455.1 73.4h0M455.0 53.7h0M447.0 70.0h0M441.3 72.0h0M458.6 55.9h0M455.5 73.4h0M450.7 65.1h0M454.4 58.4h0M451.3 64.4h0M447.1 67.8h0M439.0 74.4h0M453.5 47.5h0M444.4 62.3h0M450.8 59.9h0M454.9 65.4h0M445.9 65.3h0M442.5 74.6h0M439.2 57.2h0M436.4 59.9h0M439.5 66.1h0M444.4 76.7h0M456.5 57.4h0M438.7 60.3h0M435.0 63.2h0M449.7 69.2h0M447.2 71.0h0M455.7 64.9h0M439.8 60.8h0M441.8 56.3h0M449.9 64.3h0M466.2 53.6h0M456.2 65.9h0M444.1 68.8h0M451.1 63.0h0M461.5 56.6h0M442.4 72.4h0M465.8 63.8h0M456.0 63.4h0M449.9 76.3h0M441.6 71.9h0M447.0 68.9h0M445.3 67.2h0M432.0 59.5h0M451.7 75.1h0M435.9 67.0h0M458.1 71.4h0M428.1 65.3h0M463.4 72.1h0M470.5 57.5h0M461.5 70.4h0M457.4 73.1h0" stroke="#2c8234" stroke-width="1.4" stroke-linecap="round" fill="none"/>
<path d="M460.8 52.8h0M462.3 58.2h0M437.0 69.5h0M460.9 50.5h0M461.7 63.4h0M460.4 67.6h0M454.4 51.1h0M469.3 58.3h0M463.8 49.6h0M432.7 68.6h0M453.6 76.2h0M451.2 65.9h0M464.6 61.8h0M441.7 65.7h0M466.8 62.0h0M451.1 61.0h0M466.2 48.6h0M465.9 49.1h0M440.0 73.1h0M462.6 52.9h0M468.7 54.7h0M466.3 59.6h0M463.7 65.3h0M458.1 63.3h0M460.5 65.1h0M439.0 68.4h0M463.3 66.4h0M459.3 63.4h0M467.7 51.9h0M459.1 68.3h0M447.1 75.3h0M459.6 64.4h0M461.0 69.1h0M464.8 54.3h0M452.8 59.2h0M438.8 63.8h0M447.2 70.9h0M445.8 63.7h0M443.1 74.4h0M441.5 64.2h0M463.6 67.4h0M469.3 59.0h0M466.4 64.4h0M465.6 64.8h0M460.5 50.5h0M469.8 58.6h0M458.8 70.3h0M447.0 76.3h0M438.8 67.5h0M468.8 56.1h0M439.9 71.3h0M461.0 57.9h0M455.2 69.0h0M461.9 61.6h0M451.3 70.0h0M459.0 69.2h0M464.5 55.0h0M465.5 60.5h0M446.7 66.2h0M465.1 57.6h0M466.0 52.3h0M462.3 53.3h0M467.6 52.1h0M461.3 64.5h0M461.4 59.2h0M447.7 62.9h0M464.0 51.9h0M463.6 49.9h0M444.0 60.3h0M445.2 62.1h0M459.2 58.9h0M450.8 73.9h0M461.7 54.2h0M466.9 50.1h0M442.0 64.2h0M438.1 74.6h0M463.5 50.5h0M465.8 53.5h0M465.1 49.0h0M459.8 62.2h0M462.4 62.3h0M465.9 58.5h0M467.1 50.6h0M454.6 70.8h0M463.2 60.3h0M464.2 57.8h0M454.7 69.4h0M439.7 68.5h0M464.3 59.2h0M455.3 47.6h0M459.6 64.4h0M446.1 69.9h0M440.6 70.5h0M453.8 62.5h0M464.4 55.8h0M467.3 53.0h0M463.4 66.1h0M461.7 49.1h0M438.9 76.1h0M457.0 62.5h0M440.6 66.9h0M444.9 74.8h0M453.7 75.8h0M454.2 61.4h0M440.7 75.3h0M463.6 49.4h0M438.8 64.1h0M450.2 55.5h0M444.9 63.6h0M464.9 64.8h0M466.4 55.1h0M463.0 56.0h0M453.2 54.6h0M453.6 74.4h0M450.0 73.0h0M442.2 71.7h0M465.6 46.9h0" stroke="#0f2a12" stroke-width="1.4" stroke-linecap="round" fill="none"/>
<path d="M435.3 48.0h0M443.9 52.3h0M454.3 38.8h0M430.5 67.7h0M440.3 52.9h0M448.2 37.7h0M429.6 51.5h0M452.1 44.2h0M428.5 61.7h0M443.0 47.7h0M440.2 57.2h0M452.8 41.1h0M442.2 56.6h0M465.0 46.4h0M435.6 63.0h0M455.1 42.0h0M455.2 44.3h0M456.2 38.1h0M435.2 54.6h0M440.3 61.5h0M448.8 47.1h0M451.6 52.1h0M434.3 48.4h0M443.3 57.1h0M427.4 60.7h0M433.1 46.0h0M439.7 49.4h0M440.6 44.6h0M448.3 56.7h0M437.3 64.0h0M428.2 57.0h0M431.8 61.9h0M457.0 49.7h0M431.2 64.4h0M436.9 45.0h0M443.6 49.9h0M460.9 42.9h0M446.7 36.5h0M446.8 53.2h0M438.8 46.9h0M430.8 58.7h0M447.5 55.2h0M432.9 62.6h0M442.4 54.3h0M429.4 65.2h0M434.4 53.3h0M453.1 50.0h0M444.7 49.6h0M433.9 57.8h0M453.7 52.4h0M456.2 45.6h0M448.7 53.7h0M443.0 42.5h0M428.9 58.5h0M454.7 44.4h0M459.3 40.2h0M451.4 55.0h0M431.2 56.8h0M444.4 41.2h0M437.4 61.1h0M445.7 54.1h0M457.1 51.8h0M453.4 45.0h0M440.3 54.2h0M438.2 43.3h0M440.8 52.6h0M456.8 42.2h0M434.9 52.3h0M456.6 41.4h0M454.0 38.8h0M447.2 57.0h0M454.6 48.2h0M439.0 44.4h0M437.8 61.3h0M455.9 47.9h0M457.7 44.3h0M455.1 45.9h0M454.6 41.4h0M458.8 38.8h0M441.9 46.4h0M433.1 51.5h0M458.7 42.0h0M433.4 68.7h0M429.8 59.3h0M436.3 51.2h0M443.2 54.5h0M439.2 46.2h0M432.1 50.4h0M440.8 48.6h0M429.3 59.4h0M431.3 50.1h0M448.0 54.6h0M429.5 65.5h0M454.1 45.1h0M450.5 46.0h0M438.6 63.8h0M452.2 57.7h0M435.7 55.5h0M454.1 50.1h0M430.8 51.9h0M454.0 54.5h0M442.5 48.8h0M430.3 65.4h0M450.5 37.8h0M430.1 56.4h0M461.9 41.9h0M440.4 60.9h0M462.7 47.1h0M439.5 51.5h0M464.5 44.0h0M450.6 39.5h0M432.8 65.4h0M457.6 53.0h0M457.6 48.8h0M432.6 64.5h0M439.9 43.3h0M447.8 42.0h0M448.5 43.3h0M450.6 38.9h0M444.1 57.0h0M453.9 42.5h0M449.5 53.4h0M430.8 59.3h0M446.5 54.5h0M445.7 48.4h0M439.0 57.8h0M442.8 46.8h0M462.0 47.8h0M463.2 41.4h0M454.1 40.0h0M457.5 50.7h0M453.9 50.8h0M439.6 62.2h0M461.7 45.4h0M433.4 48.4h0M429.4 65.4h0M452.2 48.9h0M459.5 40.1h0M432.2 59.3h0M443.6 52.3h0M455.3 56.1h0M429.6 57.7h0M448.6 43.1h0M444.7 38.5h0M447.0 53.8h0M461.0 47.5h0M460.8 39.8h0M449.7 38.5h0M454.0 41.3h0M434.7 44.2h0M443.6 53.8h0M448.0 48.2h0M453.5 44.8h0M437.9 54.8h0M446.2 58.2h0M448.5 51.6h0M436.2 63.0h0M456.7 38.9h0M435.6 51.9h0M455.5 58.4h0M439.3 52.1h0M442.6 54.6h0M431.0 60.1h0M448.5 51.7h0M437.1 42.3h0M431.5 50.2h0M453.1 53.1h0M445.0 44.7h0M464.1 46.6h0M449.9 40.4h0M435.6 54.0h0M451.1 40.6h0M446.4 55.7h0M444.1 50.8h0M438.9 42.6h0M431.7 66.3h0M441.0 38.3h0M433.3 67.7h0M443.1 46.2h0M451.8 51.5h0M449.8 40.3h0M439.1 46.5h0M428.6 65.8h0M458.5 41.6h0M454.1 38.5h0M448.4 48.6h0M452.8 43.4h0M454.5 39.5h0M437.7 61.5h0M439.9 41.5h0M448.9 54.6h0M437.1 44.4h0M462.3 46.0h0M444.2 52.8h0M439.6 46.1h0M446.9 37.6h0M453.9 54.1h0M439.5 62.0h0M458.4 43.5h0M443.0 43.5h0M457.7 51.0h0M443.5 58.7h0M444.3 48.0h0M432.0 61.1h0M450.5 36.3h0M438.9 61.4h0M445.4 51.2h0M442.5 55.6h0M444.6 37.4h0M429.4 62.8h0M433.1 59.0h0M446.7 54.6h0M439.1 39.5h0M435.0 63.0h0M441.1 37.6h0M433.5 63.6h0M465.7 41.8h0" stroke="#b03428" stroke-width="1.4" stroke-linecap="round" fill="none"/>
<path d="M442.9 57.9h0M456.3 62.5h0M461.9 50.2h0M450.4 59.4h0M454.9 60.3h0M459.3 56.8h0M442.5 64.6h0M434.3 68.2h0M440.4 74.0h0M447.4 75.5h0M461.0 66.2h0M443.8 56.6h0M452.1 74.5h0M457.9 51.6h0M464.0 51.9h0M462.9 66.8h0M455.1 72.3h0M465.3 58.8h0M459.4 58.0h0M444.2 68.4h0M443.3 60.5h0M442.0 71.7h0M467.7 61.5h0M458.9 67.2h0M440.4 62.5h0M450.0 58.3h0M436.9 69.6h0M448.2 58.9h0M460.5 54.9h0M465.7 65.2h0M449.4 63.1h0M445.6 74.5h0M444.2 64.5h0M446.1 66.0h0M446.7 66.9h0M436.4 70.8h0M457.8 55.5h0M468.4 59.2h0M453.0 66.2h0M430.8 68.6h0M435.8 62.0h0M467.4 59.4h0M448.8 64.3h0M438.7 71.9h0M446.3 72.4h0M468.3 54.5h0M452.4 57.4h0M464.6 54.2h0M451.1 68.1h0M448.6 67.5h0M457.7 54.8h0M449.2 58.5h0M466.0 56.5h0M451.1 75.8h0M455.7 56.5h0M462.4 51.5h0M439.9 77.0h0M438.7 71.1h0M454.3 66.7h0M451.5 72.4h0M443.7 65.1h0M455.9 61.4h0M456.6 55.2h0M455.9 69.6h0M460.6 59.8h0M448.9 74.7h0M456.0 70.5h0M449.1 68.8h0M467.2 56.8h0M468.1 59.4h0M446.0 67.7h0M452.0 56.9h0M465.4 51.0h0M450.8 56.0h0M456.6 61.5h0M455.5 49.4h0M427.3 63.4h0M445.7 66.0h0M452.7 76.2h0M444.8 70.5h0M436.4 59.7h0M453.1 73.9h0M464.7 65.7h0M465.3 49.8h0M462.8 60.3h0M432.7 58.6h0M456.5 63.5h0M452.6 71.1h0M434.2 64.7h0M464.2 65.5h0M450.7 70.1h0M452.4 72.1h0M458.3 51.6h0M448.4 50.8h0M462.9 50.2h0M454.3 72.4h0M465.0 65.6h0M446.6 63.2h0M439.8 62.4h0M454.7 49.8h0M437.7 63.5h0M467.1 55.7h0M443.9 68.6h0M451.8 67.8h0M433.7 69.1h0M456.9 60.0h0M448.5 65.2h0M435.6 62.8h0M451.9 56.1h0M464.2 60.4h0M452.1 69.2h0M449.3 64.5h0M456.8 62.2h0M448.2 57.7h0M438.4 70.3h0M466.0 62.3h0M461.1 64.6h0M465.4 59.5h0M453.0 72.0h0M440.9 73.3h0M461.3 58.2h0M439.0 75.7h0M468.3 60.1h0M452.8 65.7h0M466.0 51.5h0M443.5 63.2h0M452.0 62.4h0M462.8 54.5h0M445.1 69.8h0M456.3 59.9h0M441.3 60.9h0M448.4 75.4h0M448.9 76.5h0M453.9 55.9h0M437.4 72.8h0M451.7 74.9h0M443.0 56.7h0M453.7 63.6h0M451.5 62.3h0M460.8 60.6h0M453.0 71.0h0M465.2 59.3h0M466.6 62.4h0M451.8 66.2h0M461.5 64.1h0M440.6 71.9h0M466.3 50.8h0M446.9 63.5h0M466.6 53.4h0M444.4 62.3h0M468.1 58.5h0M467.8 61.5h0M446.7 71.0h0M444.1 65.7h0M460.4 51.1h0M460.5 53.1h0M441.8 67.1h0M445.3 63.6h0M433.6 66.9h0M468.7 54.7h0M459.2 52.6h0M451.2 65.0h0M437.3 68.3h0M469.8 57.4h0M459.1 53.6h0M465.3 57.3h0M439.7 57.7h0M455.6 57.8h0M451.8 62.4h0M465.2 50.5h0M462.5 54.7h0M461.8 58.4h0M454.7 76.0h0M441.0 65.7h0M439.3 70.6h0M464.6 61.0h0M451.0 73.5h0M461.6 51.2h0M443.4 62.6h0M442.0 61.0h0M462.9 51.2h0M440.4 70.2h0M444.1 65.6h0M458.6 58.5h0M433.4 61.1h0M467.5 62.6h0M465.7 61.9h0M455.3 71.0h0M457.5 51.6h0M445.9 65.1h0M462.3 64.9h0M429.3 65.1h0M466.8 58.3h0M459.6 60.6h0M437.2 67.9h0M449.6 74.4h0M456.4 57.5h0M437.3 69.5h0M463.2 65.0h0M445.1 72.6h0M444.0 63.7h0M438.1 66.9h0M450.2 65.3h0M436.9 61.9h0M460.3 53.6h0M449.4 59.1h0M452.4 54.9h0M464.3 44.0h0M441.7 69.7h0M455.2 65.1h0M452.6 59.9h0M453.1 65.0h0M451.0 56.9h0M460.2 58.6h0M446.1 69.8h0M462.8 53.4h0M461.6 65.9h0M440.7 75.5h0M440.1 75.6h0M432.6 67.4h0M433.2 65.4h0M456.9 65.9h0M454.8 62.1h0M460.9 61.3h0M438.3 67.3h0M457.6 53.1h0M457.4 65.2h0M450.1 72.5h0M451.5 71.3h0M458.0 48.3h0M461.6 47.5h0M443.4 62.9h0M433.7 66.1h0M448.0 53.8h0M453.2 46.6h0M460.0 63.1h0M461.7 63.3h0M461.1 66.5h0M461.5 52.5h0M467.8 60.5h0M454.1 49.3h0M466.2 57.0h0M462.8 60.8h0M461.8 56.8h0M461.4 59.4h0M462.8 64.4h0M439.0 74.4h0M451.4 71.1h0M455.2 59.8h0M455.6 66.5h0M449.3 67.2h0M446.1 59.8h0M445.8 60.0h0M464.2 49.1h0M447.5 58.8h0M457.5 57.3h0M437.3 68.4h0M463.9 56.4h0M449.4 64.2h0M461.5 69.1h0M458.5 70.9h0M450.5 67.9h0M434.9 67.9h0M441.2 73.5h0M454.4 65.3h0M446.9 73.4h0M451.9 73.7h0M444.1 65.7h0M458.6 59.1h0M445.4 70.7h0M455.6 55.2h0M455.6 73.9h0M448.8 71.4h0M444.0 71.6h0M453.3 65.8h0M458.0 62.9h0M452.5 57.3h0M463.1 64.3h0M459.2 69.2h0M441.5 66.2h0M461.9 50.1h0M437.9 54.4h0M447.3 72.3h0M459.3 62.1h0M461.3 62.6h0M450.3 60.8h0M465.1 60.9h0M458.0 53.5h0M456.8 67.5h0M432.4 67.7h0M446.0 73.1h0M454.7 63.4h0M468.8 55.5h0M454.1 65.1h0M432.9 59.1h0M442.5 71.3h0M439.6 62.1h0M453.3 71.5h0M462.4 61.3h0M467.4 61.6h0M437.8 65.4h0M455.4 51.4h0M442.3 68.5h0M462.8 64.7h0M459.8 67.3h0M460.3 68.3h0M453.1 68.7h0M460.9 67.9h0M442.8 73.2h0M457.4 63.3h0M452.1 69.2h0M459.4 60.4h0M464.4 60.1h0M463.6 60.7h0M455.8 56.4h0M462.4 56.0h0M461.2 58.1h0M449.8 51.4h0M453.9 58.3h0M451.3 68.3h0M464.5 66.2h0M435.7 69.9h0M462.6 56.1h0M464.2 60.5h0M452.6 76.2h0M457.5 59.5h0M460.9 56.9h0M454.3 67.6h0M432.8 67.8h0M451.2 57.2h0M440.1 60.6h0M454.7 64.1h0M452.5 67.0h0M439.9 78.1h0M439.7 62.1h0M448.0 64.7h0M466.0 50.8h0M462.8 61.9h0M456.4 58.7h0M455.2 66.2h0M460.9 55.8h0M450.0 74.1h0M467.1 55.5h0M448.7 59.8h0M461.7 50.2h0M463.3 51.7h0M439.3 70.5h0M458.6 68.0h0M448.7 63.5h0M451.5 69.3h0M454.6 68.0h0M449.3 56.3h0M462.5 60.7h0M444.3 66.8h0M448.3 63.5h0M468.8 58.8h0M462.5 65.1h0M458.1 65.9h0M458.1 64.2h0M466.8 62.6h0M457.7 63.6h0M442.7 57.3h0M444.2 62.3h0M453.7 74.9h0M441.7 65.4h0M438.2 67.1h0M462.9 48.3h0M433.5 68.0h0M441.7 67.8h0M441.8 63.9h0M468.0 55.6h0M457.0 64.5h0M442.3 65.7h0M460.5 69.4h0M454.4 72.8h0M435.3 69.8h0M456.5 69.6h0M453.3 60.0h0M451.1 58.5h0M440.2 68.2h0M448.2 67.1h0M459.2 56.1h0M451.7 61.1h0M448.0 52.2h0M460.4 64.8h0M435.8 69.2h0M451.9 55.0h0M441.8 64.5h0M437.2 65.1h0M465.0 55.0h0M463.2 59.6h0M466.6 56.2h0M457.8 69.7h0M461.5 68.1h0M457.3 48.8h0M467.5 60.8h0M455.7 61.9h0M456.8 67.9h0M440.6 75.7h0M449.7 62.7h0M443.5 62.1h0M461.1 64.4h0M436.3 69.6h0M458.3 58.4h0M442.2 69.2h0M468.7 55.8h0M444.4 58.0h0M449.2 75.6h0M438.6 72.8h0M467.4 56.5h0M448.3 66.8h0M457.4 59.3h0M443.5 70.7h0M437.6 57.0h0M466.2 56.3h0M438.1 67.5h0M458.1 66.7h0M441.7 72.6h0M465.0 46.8h0M467.9 57.4h0M465.5 63.1h0M459.5 48.2h0M442.9 73.7h0M437.1 69.3h0M456.6 72.2h0M454.9 72.9h0M469.6 58.3h0M463.2 57.1h0M468.2 56.1h0M462.9 54.1h0M465.6 48.3h0M450.1 63.9h0M449.9 68.2h0M464.8 65.3h0M465.1 63.8h0M462.7 56.9h0M456.9 63.8h0M465.0 58.3h0M458.9 66.5h0M461.9 51.4h0M445.7 67.9h0M451.3 62.2h0M452.6 69.4h0M462.7 45.4h0M456.3 56.4h0M433.6 67.7h0M450.6 62.4h0M454.0 65.4h0M436.5 71.4h0M442.3 75.2h0M463.6 66.6h0M437.4 62.4h0M454.0 70.9h0M463.5 63.7h0M454.2 62.8h0M432.4 67.6h0M440.8 66.5h0M455.6 66.4h0M456.9 66.2h0M455.6 62.6h0M463.1 59.2h0M446.0 76.1h0M459.6 67.2h0M431.1 70.5h0M470.9 54.6h0M468.2 54.7h0M463.5 70.5h0M468.7 47.8h0" stroke="#1b5424" stroke-width="1.4" stroke-linecap="round" fill="none"/>
<path d="M430.9 62.9h0M459.0 44.7h0M438.7 59.9h0M455.1 53.4h0M457.8 51.2h0M446.0 58.0h0M444.1 54.6h0M430.6 68.1h0M435.1 59.5h0M463.1 58.4h0M448.7 56.7h0M445.9 61.6h0M465.5 52.2h0M448.1 51.9h0M447.9 48.5h0M466.0 56.2h0M452.8 53.1h0M461.2 54.6h0M443.9 59.1h0M459.2 48.9h0M464.0 58.5h0M448.5 51.4h0M450.9 45.8h0M450.1 61.7h0M450.3 49.2h0M442.2 61.6h0M465.5 61.3h0M442.8 58.5h0M429.4 66.6h0M449.3 47.0h0M465.1 49.2h0M435.4 55.0h0M461.3 45.6h0M451.9 52.8h0M468.7 60.1h0M442.5 59.6h0M449.3 54.8h0M462.9 47.2h0M441.1 55.9h0M450.2 51.6h0M450.7 48.5h0M439.3 58.3h0M465.8 47.3h0M454.7 46.4h0M461.1 53.4h0M441.9 53.9h0M465.6 57.7h0M432.5 67.8h0M460.9 43.0h0M432.1 66.5h0M441.5 62.9h0M437.3 59.5h0M459.3 52.5h0M449.3 52.2h0M441.1 55.8h0M463.5 52.8h0M460.5 47.6h0M453.7 54.0h0M438.8 66.1h0M444.1 56.2h0M455.4 54.2h0M453.7 48.4h0M441.5 60.4h0M454.3 47.4h0M462.2 47.8h0M460.4 50.6h0M452.5 52.2h0M448.0 50.3h0M454.9 51.6h0M461.8 61.4h0M436.3 55.9h0M466.5 49.5h0M453.5 45.2h0M432.6 64.5h0M433.9 64.5h0M433.7 59.9h0M431.1 67.2h0M452.1 46.1h0M432.8 60.9h0M449.0 60.8h0M439.7 59.5h0M429.0 66.1h0M446.4 51.6h0M449.4 57.9h0M444.8 56.8h0M440.3 64.5h0M441.5 61.3h0M469.1 61.1h0M454.2 53.7h0M452.8 48.0h0M459.9 54.9h0M445.3 52.5h0M459.2 50.2h0M432.2 60.0h0M450.4 50.4h0M453.6 51.3h0M461.1 56.5h0M445.3 60.0h0M454.4 48.5h0M434.4 64.0h0M443.3 59.2h0M455.9 52.7h0M440.5 58.6h0M453.7 50.2h0M428.5 61.6h0M460.7 61.7h0M462.5 44.4h0M467.2 59.7h0M455.6 50.4h0M435.8 62.7h0M430.2 66.4h0M434.9 62.2h0M453.3 46.8h0M447.2 51.1h0M444.3 54.4h0M443.5 55.9h0M429.8 61.0h0M431.8 65.5h0M452.1 51.0h0M465.5 47.1h0M454.0 46.6h0M430.4 63.4h0M437.2 62.6h0M446.5 59.1h0M464.3 55.9h0M468.0 53.0h0M467.0 53.4h0M438.4 62.1h0M432.5 63.5h0M430.0 66.2h0M462.7 45.2h0M461.2 46.2h0M462.1 49.8h0M456.6 50.0h0M454.8 55.7h0M433.5 55.6h0M459.3 54.6h0M461.8 45.8h0" stroke="#a88a5a" stroke-width="1.4" stroke-linecap="round" fill="none"/>
<path d="M458.1 71.1h0M450.8 56.9h0M451.7 62.7h0M439.5 63.8h0M454.7 76.1h0M452.3 70.9h0M447.9 71.1h0M450.0 57.3h0M431.2 68.8h0M454.2 52.5h0M459.5 66.4h0M444.9 65.8h0M442.1 67.7h0M462.8 67.6h0M439.0 71.6h0M449.5 56.0h0M462.6 47.6h0M452.5 67.7h0M436.3 67.2h0M443.0 75.4h0M440.5 67.7h0M444.6 60.7h0M446.1 66.3h0M449.7 65.1h0M453.2 61.6h0M446.3 59.0h0M452.7 60.1h0M441.0 71.7h0M451.8 65.8h0M443.2 62.8h0M443.8 69.4h0M449.9 66.2h0M447.6 73.7h0M438.9 73.0h0M451.6 72.7h0M449.1 59.1h0M451.5 64.5h0M457.9 52.0h0M449.5 61.0h0M450.1 62.0h0M440.8 67.0h0M441.7 74.7h0M453.9 60.9h0M434.3 66.0h0M436.6 65.3h0M441.4 71.4h0M438.0 71.0h0M456.7 66.6h0M449.7 58.5h0M460.9 67.2h0M446.1 62.9h0M454.2 64.0h0M454.9 73.6h0M448.7 69.8h0M459.7 60.3h0M455.3 73.5h0M446.3 76.3h0M461.0 68.3h0M453.3 69.1h0M454.5 75.8h0M463.6 47.7h0M456.4 52.8h0M458.8 52.3h0M452.6 74.0h0M456.8 69.3h0M451.2 67.9h0M436.6 71.6h0M438.4 68.9h0" stroke="#6aa860" stroke-width="1.4" stroke-linecap="round" fill="none"/>
<path d="M434.7 55.4h0M457.7 38.3h0M431.9 50.6h0M438.3 54.2h0M452.5 38.0h0M429.9 54.6h0M444.7 51.0h0M428.2 59.9h0M442.7 54.1h0M431.3 56.3h0M444.3 38.8h0M429.3 57.7h0M437.2 51.1h0M446.3 37.5h0M441.5 52.9h0M437.3 42.9h0M441.9 46.0h0M433.3 44.0h0M445.6 37.4h0M453.0 42.8h0M453.9 39.2h0M427.8 60.6h0M429.3 53.9h0M446.4 46.7h0M444.4 54.0h0M445.4 47.6h0M441.2 51.9h0M444.9 48.4h0M442.6 46.5h0M435.5 55.8h0M438.9 42.8h0M432.6 53.7h0M443.1 44.0h0M431.3 55.6h0M445.6 38.2h0" stroke="#f0d8d0" stroke-width="1.4" stroke-linecap="round" fill="none"/>
<path d="M435.0 67.0h0M436.2 68.5h0M446.8 68.2h0M447.6 71.4h0M458.5 59.3h0M440.0 76.9h0M454.0 65.8h0M434.4 64.6h0M455.2 69.7h0M453.1 61.3h0M458.4 60.9h0M441.0 71.6h0M455.3 59.3h0M457.4 61.8h0M450.7 58.6h0M457.8 63.8h0M456.0 62.5h0M456.5 57.9h0M458.3 62.2h0M459.6 65.3h0M454.7 72.1h0M445.0 66.3h0M451.5 70.1h0M451.4 56.3h0" stroke="#d8e8c8" stroke-width="1.4" stroke-linecap="round" fill="none"/>
<path d="M461.0 56.1h0M463.3 57.0h0M463.2 64.9h0M462.9 51.8h0M465.2 49.1h0M467.7 60.1h0M463.2 55.1h0M466.6 51.1h0M467.1 57.5h0M461.6 61.2h0M461.9 56.0h0M463.1 63.3h0M469.8 58.6h0M464.9 52.6h0M463.8 56.7h0M467.7 61.4h0M461.7 58.4h0" stroke="#e8e4d8" stroke-width="1.4" stroke-linecap="round" fill="none"/>
<path d="M445.5 53.1h0M437.1 52.3h0M432.5 47.6h0M431.2 52.4h0M440.1 42.0h0M441.8 44.0h0M428.7 52.3h0M444.0 45.7h0M432.4 55.4h0M443.3 37.4h0M444.3 42.8h0M437.5 46.1h0M441.6 50.1h0M459.9 38.8h0M437.9 52.1h0M451.2 38.2h0M437.4 43.4h0M440.1 46.5h0M444.3 42.6h0M440.5 49.7h0M450.3 40.5h0M443.4 37.5h0M435.6 60.0h0M443.4 38.0h0M444.4 49.4h0M444.4 44.0h0M463.4 42.1h0M438.7 39.2h0M450.6 45.0h0M441.4 48.6h0M428.9 57.7h0M432.6 51.4h0M427.9 56.3h0M452.8 43.2h0M460.6 39.6h0" stroke="#5a0c0c" stroke-width="1.4" stroke-linecap="round" fill="none"/>
<path d="M451.7 77.9h0M452.0 77.7h0M452.0 77.8h0M443.3 79.2h0M445.2 79.7h0M440.9 78.6h0M449.0 77.2h0M442.7 80.0h0M442.7 79.5h0" stroke="#3a60c0" stroke-width="1.4" stroke-linecap="round" fill="none"/>
<path d="M459.3 46.4h0M439.4 59.2h0M433.7 60.9h0M431.0 66.7h0M456.2 45.7h0M441.4 59.9h0M438.1 65.2h0M436.0 56.6h0M434.2 65.7h0M451.1 59.0h0M429.8 63.8h0M457.4 50.8h0M463.7 44.0h0M456.9 45.0h0M438.0 58.3h0M438.6 62.8h0M443.8 57.2h0M435.0 65.0h0" stroke="#d8d0a0" stroke-width="1.4" stroke-linecap="round" fill="none"/>
<g><path d="M493.80 30.40L493.15 31.56L494.49 31.56Z" fill="#3b39de" stroke="#3b39de" stroke-width="0.25"/><path d="M493.15 31.56L492.50 32.73L493.84 32.73Z" fill="#3e48de" stroke="#3e48de" stroke-width="0.25"/><path d="M493.15 31.56L494.49 31.56L493.84 32.73Z" fill="#423fde" stroke="#423fde" stroke-width="0.25"/><path d="M494.49 31.56L493.84 32.73L495.19 32.73Z" fill="#4e3bde" stroke="#4e3bde" stroke-width="0.25"/><path d="M492.50 32.73L491.85 33.89L493.19 33.89Z" fill="#4259de" stroke="#4259de" stroke-width="0.25"/><path d="M492.50 32.73L493.84 32.73L493.19 33.89Z" fill="#464ede" stroke="#464ede" stroke-width="0.25"/><path d="M493.84 32.73L493.19 33.89L494.54 33.89Z" fill="#534bde" stroke="#534bde" stroke-width="0.25"/><path d="M493.84 32.73L495.19 32.73L494.54 33.89Z" fill="#5641de" stroke="#5641de" stroke-width="0.25"/><path d="M495.19 32.73L494.54 33.89L495.88 33.89Z" fill="#633dde" stroke="#633dde" stroke-width="0.25"/><path d="M491.85 33.89L491.20 35.06L492.54 35.06Z" fill="#476cde" stroke="#476cde" stroke-width="0.25"/><path d="M491.85 33.89L493.19 33.89L492.54 35.06Z" fill="#4b60de" stroke="#4b60de" stroke-width="0.25"/><path d="M493.19 33.89L492.54 35.06L493.89 35.06Z" fill="#585dde" stroke="#585dde" stroke-width="0.25"/><path d="M493.19 33.89L494.54 33.89L493.89 35.06Z" fill="#5c52de" stroke="#5c52de" stroke-width="0.25"/><path d="M494.54 33.89L493.89 35.06L495.23 35.06Z" fill="#694ede" stroke="#694ede" stroke-width="0.25"/><path d="M494.54 33.89L495.88 33.89L495.23 35.06Z" fill="#6d43de" stroke="#6d43de" stroke-width="0.25"/><path d="M495.88 33.89L495.23 35.06L496.57 35.06Z" fill="#7a3fde" stroke="#7a3fde" stroke-width="0.25"/><path d="M491.20 35.06L490.55 36.22L491.89 36.22Z" fill="#4c82de" stroke="#4c82de" stroke-width="0.25"/><path d="M491.20 35.06L492.54 35.06L491.89 36.22Z" fill="#5075de" stroke="#5075de" stroke-width="0.25"/><path d="M492.54 35.06L491.89 36.22L493.24 36.22Z" fill="#5f72de" stroke="#5f72de" stroke-width="0.25"/><path d="M492.54 35.06L493.89 35.06L493.24 36.22Z" fill="#6265de" stroke="#6265de" stroke-width="0.25"/><path d="M493.89 35.06L493.24 36.22L494.58 36.22Z" fill="#7162de" stroke="#7162de" stroke-width="0.25"/><path d="M493.89 35.06L495.23 35.06L494.58 36.22Z" fill="#7456de" stroke="#7456de" stroke-width="0.25"/><path d="M495.23 35.06L494.58 36.22L495.92 36.22Z" fill="#8352de" stroke="#8352de" stroke-width="0.25"/><path d="M495.23 35.06L496.57 35.06L495.92 36.22Z" fill="#8646de" stroke="#8646de" stroke-width="0.25"/><path d="M496.57 35.06L495.92 36.22L497.26 36.22Z" fill="#9542de" stroke="#9542de" stroke-width="0.25"/><path d="M490.55 36.22L489.90 37.39L491.24 37.39Z" fill="#529bde" stroke="#529bde" stroke-width="0.25"/><path d="M490.55 36.22L491.89 36.22L491.24 37.39Z" fill="#578dde" stroke="#578dde" stroke-width="0.25"/><path d="M491.89 36.22L491.24 37.39L492.59 37.39Z" fill="#668ade" stroke="#668ade" stroke-width="0.25"/><path d="M491.89 36.22L493.24 36.22L492.59 37.39Z" fill="#6a7cde" stroke="#6a7cde" stroke-width="0.25"/><path d="M493.24 36.22L492.59 37.39L493.93 37.39Z" fill="#7a78de" stroke="#7a78de" stroke-width="0.25"/><path d="M493.24 36.22L494.58 36.22L493.93 37.39Z" fill="#7d6bde" stroke="#7d6bde" stroke-width="0.25"/><path d="M494.58 36.22L493.93 37.39L495.27 37.39Z" fill="#8d67de" stroke="#8d67de" stroke-width="0.25"/><path d="M494.58 36.22L495.92 36.22L495.27 37.39Z" fill="#905ade" stroke="#905ade" stroke-width="0.25"/><path d="M495.92 36.22L495.27 37.39L496.61 37.39Z" fill="#a156de" stroke="#a156de" stroke-width="0.25"/><path d="M495.92 36.22L497.26 36.22L496.61 37.39Z" fill="#a349de" stroke="#a349de" stroke-width="0.25"/><path d="M497.26 36.22L496.61 37.39L497.96 37.39Z" fill="#b445de" stroke="#b445de" stroke-width="0.25"/><path d="M489.90 37.39L489.25 38.55L490.59 38.55Z" fill="#59b9de" stroke="#59b9de" stroke-width="0.25"/><path d="M489.90 37.39L491.24 37.39L490.59 38.55Z" fill="#5ea8de" stroke="#5ea8de" stroke-width="0.25"/><path d="M491.24 37.39L490.59 38.55L491.94 38.55Z" fill="#6fa6de" stroke="#6fa6de" stroke-width="0.25"/><path d="M491.24 37.39L492.59 37.39L491.94 38.55Z" fill="#7396de" stroke="#7396de" stroke-width="0.25"/><path d="M492.59 37.39L491.94 38.55L493.28 38.55Z" fill="#8492de" stroke="#8492de" stroke-width="0.25"/><path d="M492.59 37.39L493.93 37.39L493.28 38.55Z" fill="#8883de" stroke="#8883de" stroke-width="0.25"/><path d="M493.93 37.39L493.28 38.55L494.62 38.55Z" fill="#9980de" stroke="#9980de" stroke-width="0.25"/><path d="M493.93 37.39L495.27 37.39L494.62 38.55Z" fill="#9c71de" stroke="#9c71de" stroke-width="0.25"/><path d="M495.27 37.39L494.62 38.55L495.96 38.55Z" fill="#ae6dde" stroke="#ae6dde" stroke-width="0.25"/><path d="M495.27 37.39L496.61 37.39L495.96 38.55Z" fill="#b05fde" stroke="#b05fde" stroke-width="0.25"/><path d="M496.61 37.39L495.96 38.55L497.31 38.55Z" fill="#c35bde" stroke="#c35bde" stroke-width="0.25"/><path d="M496.61 37.39L497.96 37.39L497.31 38.55Z" fill="#c44dde" stroke="#c44dde" stroke-width="0.25"/><path d="M497.96 37.39L497.31 38.55L498.65 38.55Z" fill="#d748de" stroke="#d748de" stroke-width="0.25"/><path d="M489.25 38.55L488.60 39.71L489.94 39.71Z" fill="#62dcde" stroke="#62dcde" stroke-width="0.25"/><path d="M489.25 38.55L490.59 38.55L489.94 39.71Z" fill="#66c9de" stroke="#66c9de" stroke-width="0.25"/><path d="M490.59 38.55L489.94 39.71L491.29 39.71Z" fill="#79c7de" stroke="#79c7de" stroke-width="0.25"/><path d="M490.59 38.55L491.94 38.55L491.29 39.71Z" fill="#7db4de" stroke="#7db4de" stroke-width="0.25"/><path d="M491.94 38.55L491.29 39.71L492.63 39.71Z" fill="#91b2de" stroke="#91b2de" stroke-width="0.25"/><path d="M491.94 38.55L493.28 38.55L492.63 39.71Z" fill="#94a0de" stroke="#94a0de" stroke-width="0.25"/><path d="M493.28 38.55L492.63 39.71L493.97 39.71Z" fill="#a79dde" stroke="#a79dde" stroke-width="0.25"/><path d="M493.28 38.55L494.62 38.55L493.97 39.71Z" fill="#aa8cde" stroke="#aa8cde" stroke-width="0.25"/><path d="M494.62 38.55L493.97 39.71L495.31 39.71Z" fill="#be88de" stroke="#be88de" stroke-width="0.25"/><path d="M494.62 38.55L495.96 38.55L495.31 39.71Z" fill="#c078de" stroke="#c078de" stroke-width="0.25"/><path d="M495.96 38.55L495.31 39.71L496.66 39.71Z" fill="#d474de" stroke="#d474de" stroke-width="0.25"/><path d="M495.96 38.55L497.31 38.55L496.66 39.71Z" fill="#d565de" stroke="#d565de" stroke-width="0.25"/><path d="M497.31 38.55L496.66 39.71L498.00 39.71Z" fill="#de5bd1" stroke="#de5bd1" stroke-width="0.25"/><path d="M497.31 38.55L498.65 38.55L498.00 39.71Z" fill="#de4dd1" stroke="#de4dd1" stroke-width="0.25"/><path d="M498.65 38.55L498.00 39.71L499.34 39.71Z" fill="#de42bf" stroke="#de42bf" stroke-width="0.25"/><path d="M488.60 39.71L487.95 40.88L489.29 40.88Z" fill="#5bdebb" stroke="#5bdebb" stroke-width="0.25"/><path d="M488.60 39.71L489.94 39.71L489.29 40.88Z" fill="#68decd" stroke="#68decd" stroke-width="0.25"/><path d="M489.94 39.71L489.29 40.88L490.64 40.88Z" fill="#7cdece" stroke="#7cdece" stroke-width="0.25"/><path d="M489.94 39.71L491.29 39.71L490.64 40.88Z" fill="#8ad9dd" stroke="#8ad9dd" stroke-width="0.25"/><path d="M491.29 39.71L490.64 40.88L491.98 40.88Z" fill="#9fd7de" stroke="#9fd7de" stroke-width="0.25"/><path d="M491.29 39.71L492.63 39.71L491.98 40.88Z" fill="#a2c2de" stroke="#a2c2de" stroke-width="0.25"/><path d="M492.63 39.71L491.98 40.88L493.32 40.88Z" fill="#b8c0de" stroke="#b8c0de" stroke-width="0.25"/><path d="M492.63 39.71L493.97 39.71L493.32 40.88Z" fill="#baacde" stroke="#baacde" stroke-width="0.25"/><path d="M493.97 39.71L493.32 40.88L494.66 40.88Z" fill="#d1a9dd" stroke="#d1a9dd" stroke-width="0.25"/><path d="M493.97 39.71L495.31 39.71L494.66 40.88Z" fill="#d296dd" stroke="#d296dd" stroke-width="0.25"/><path d="M495.31 39.71L494.66 40.88L496.01 40.88Z" fill="#de8bd2" stroke="#de8bd2" stroke-width="0.25"/><path d="M495.31 39.71L496.66 39.71L496.01 40.88Z" fill="#de7ad2" stroke="#de7ad2" stroke-width="0.25"/><path d="M496.66 39.71L496.01 40.88L497.35 40.88Z" fill="#de6bbe" stroke="#de6bbe" stroke-width="0.25"/><path d="M496.66 39.71L498.00 39.71L497.35 40.88Z" fill="#de5cbf" stroke="#de5cbf" stroke-width="0.25"/><path d="M498.00 39.71L497.35 40.88L498.69 40.88Z" fill="#de51ae" stroke="#de51ae" stroke-width="0.25"/><path d="M498.00 39.71L499.34 39.71L498.69 40.88Z" fill="#de44af" stroke="#de44af" stroke-width="0.25"/><path d="M499.34 39.71L498.69 40.88L500.04 40.88Z" fill="#de3ba1" stroke="#de3ba1" stroke-width="0.25"/><path d="M487.95 40.88L487.30 42.04L488.64 42.04Z" fill="#55de9c" stroke="#55de9c" stroke-width="0.25"/><path d="M487.95 40.88L489.29 40.88L488.64 42.04Z" fill="#60deab" stroke="#60deab" stroke-width="0.25"/><path d="M489.29 40.88L488.64 42.04L489.99 42.04Z" fill="#73deaa" stroke="#73deaa" stroke-width="0.25"/><path d="M489.29 40.88L490.64 40.88L489.99 42.04Z" fill="#81debb" stroke="#81debb" stroke-width="0.25"/><path d="M490.64 40.88L489.99 42.04L491.33 42.04Z" fill="#96debc" stroke="#96debc" stroke-width="0.25"/><path d="M490.64 40.88L491.98 40.88L491.33 42.04Z" fill="#a8decf" stroke="#a8decf" stroke-width="0.25"/><path d="M491.98 40.88L491.33 42.04L492.67 42.04Z" fill="#c1ded1" stroke="#c1ded1" stroke-width="0.25"/><path d="M491.98 40.88L493.32 40.88L492.67 42.04Z" fill="#cfd4de" stroke="#cfd4de" stroke-width="0.25"/><path d="M493.32 40.88L492.67 42.04L494.01 42.04Z" fill="#dec8d3" stroke="#dec8d3" stroke-width="0.25"/><path d="M493.32 40.88L494.66 40.88L494.01 42.04Z" fill="#deb2d3" stroke="#deb2d3" stroke-width="0.25"/><path d="M494.66 40.88L494.01 42.04L495.36 42.04Z" fill="#de9dbd" stroke="#de9dbd" stroke-width="0.25"/><path d="M494.66 40.88L496.01 40.88L495.36 42.04Z" fill="#de8bbd" stroke="#de8bbd" stroke-width="0.25"/><path d="M496.01 40.88L495.36 42.04L496.70 42.04Z" fill="#de7bab" stroke="#de7bab" stroke-width="0.25"/><path d="M496.01 40.88L497.35 40.88L496.70 42.04Z" fill="#de6cac" stroke="#de6cac" stroke-width="0.25"/><path d="M497.35 40.88L496.70 42.04L498.04 42.04Z" fill="#de609d" stroke="#de609d" stroke-width="0.25"/><path d="M497.35 40.88L498.69 40.88L498.04 42.04Z" fill="#de539e" stroke="#de539e" stroke-width="0.25"/><path d="M498.69 40.88L498.04 42.04L499.39 42.04Z" fill="#dd4891" stroke="#dd4891" stroke-width="0.25"/><path d="M498.69 40.88L500.04 40.88L499.39 42.04Z" fill="#de3d93" stroke="#de3d93" stroke-width="0.25"/><path d="M500.04 40.88L499.39 42.04L500.73 42.04Z" fill="#de3587" stroke="#de3587" stroke-width="0.25"/><path d="M487.30 42.04L486.65 43.21L487.99 43.21Z" fill="#4fde81" stroke="#4fde81" stroke-width="0.25"/><path d="M487.30 42.04L488.64 42.04L487.99 43.21Z" fill="#5ade8d" stroke="#5ade8d" stroke-width="0.25"/><path d="M488.64 42.04L487.99 43.21L489.34 43.21Z" fill="#6bde8c" stroke="#6bde8c" stroke-width="0.25"/><path d="M488.64 42.04L489.99 42.04L489.34 43.21Z" fill="#78de9a" stroke="#78de9a" stroke-width="0.25"/><path d="M489.99 42.04L489.34 43.21L490.68 43.21Z" fill="#8bde9a" stroke="#8bde9a" stroke-width="0.25"/><path d="M489.99 42.04L491.33 42.04L490.68 43.21Z" fill="#9bdeaa" stroke="#9bdeaa" stroke-width="0.25"/><path d="M491.33 42.04L490.68 43.21L492.02 43.21Z" fill="#b1deaa" stroke="#b1deaa" stroke-width="0.25"/><path d="M491.33 42.04L492.67 42.04L492.02 43.21Z" fill="#c5debc" stroke="#c5debc" stroke-width="0.25"/><path d="M492.67 42.04L492.02 43.21L493.36 43.21Z" fill="#dddcbb" stroke="#dddcbb" stroke-width="0.25"/><path d="M492.67 42.04L494.01 42.04L493.36 43.21Z" fill="#dec5bc" stroke="#dec5bc" stroke-width="0.25"/><path d="M494.01 42.04L493.36 43.21L494.71 43.21Z" fill="#deafa8" stroke="#deafa8" stroke-width="0.25"/><path d="M494.01 42.04L495.36 42.04L494.71 43.21Z" fill="#de9da9" stroke="#de9da9" stroke-width="0.25"/><path d="M495.36 42.04L494.71 43.21L496.05 43.21Z" fill="#de8c99" stroke="#de8c99" stroke-width="0.25"/><path d="M495.36 42.04L496.70 42.04L496.05 43.21Z" fill="#de7c9a" stroke="#de7c9a" stroke-width="0.25"/><path d="M496.70 42.04L496.05 43.21L497.39 43.21Z" fill="#de6e8c" stroke="#de6e8c" stroke-width="0.25"/><path d="M496.70 42.04L498.04 42.04L497.39 43.21Z" fill="#de618e" stroke="#de618e" stroke-width="0.25"/><path d="M498.04 42.04L497.39 43.21L498.74 43.21Z" fill="#de5681" stroke="#de5681" stroke-width="0.25"/><path d="M498.04 42.04L499.39 42.04L498.74 43.21Z" fill="#de4a83" stroke="#de4a83" stroke-width="0.25"/><path d="M499.39 42.04L498.74 43.21L500.08 43.21Z" fill="#de4178" stroke="#de4178" stroke-width="0.25"/><path d="M499.39 42.04L500.73 42.04L500.08 43.21Z" fill="#de377a" stroke="#de377a" stroke-width="0.25"/><path d="M500.73 42.04L500.08 43.21L501.42 43.21Z" fill="#de3071" stroke="#de3071" stroke-width="0.25"/><path d="M486.65 43.21L486.00 44.37L487.34 44.37Z" fill="#4ade69" stroke="#4ade69" stroke-width="0.25"/><path d="M486.65 43.21L487.99 43.21L487.34 44.37Z" fill="#54de74" stroke="#54de74" stroke-width="0.25"/><path d="M487.99 43.21L487.34 44.37L488.69 44.37Z" fill="#64de72" stroke="#64de72" stroke-width="0.25"/><path d="M487.99 43.21L489.34 43.21L488.69 44.37Z" fill="#6fde7e" stroke="#6fde7e" stroke-width="0.25"/><path d="M489.34 43.21L488.69 44.37L490.03 44.37Z" fill="#81de7c" stroke="#81de7c" stroke-width="0.25"/><path d="M489.34 43.21L490.68 43.21L490.03 44.37Z" fill="#8fde8a" stroke="#8fde8a" stroke-width="0.25"/><path d="M490.68 43.21L490.03 44.37L491.37 44.37Z" fill="#a3de89" stroke="#a3de89" stroke-width="0.25"/><path d="M490.68 43.21L492.02 43.21L491.37 44.37Z" fill="#b5dd98" stroke="#b5dd98" stroke-width="0.25"/><path d="M492.02 43.21L491.37 44.37L492.71 44.37Z" fill="#ccde97" stroke="#ccde97" stroke-width="0.25"/><path d="M492.02 43.21L493.36 43.21L492.71 44.37Z" fill="#ded9a5" stroke="#ded9a5" stroke-width="0.25"/><path d="M493.36 43.21L492.71 44.37L494.06 44.37Z" fill="#dec193" stroke="#dec193" stroke-width="0.25"/><path d="M493.36 43.21L494.71 43.21L494.06 44.37Z" fill="#deae95" stroke="#deae95" stroke-width="0.25"/><path d="M494.71 43.21L494.06 44.37L495.40 44.37Z" fill="#de9c86" stroke="#de9c86" stroke-width="0.25"/><path d="M494.71 43.21L496.05 43.21L495.40 44.37Z" fill="#de8c88" stroke="#de8c88" stroke-width="0.25"/><path d="M496.05 43.21L495.40 44.37L496.74 44.37Z" fill="#de7d7b" stroke="#de7d7b" stroke-width="0.25"/><path d="M496.05 43.21L497.39 43.21L496.74 44.37Z" fill="#de6f7d" stroke="#de6f7d" stroke-width="0.25"/><path d="M497.39 43.21L496.74 44.37L498.09 44.37Z" fill="#de6372" stroke="#de6372" stroke-width="0.25"/><path d="M497.39 43.21L498.74 43.21L498.09 44.37Z" fill="#de5774" stroke="#de5774" stroke-width="0.25"/><path d="M498.74 43.21L498.09 44.37L499.43 44.37Z" fill="#de4e6a" stroke="#de4e6a" stroke-width="0.25"/><path d="M498.74 43.21L500.08 43.21L499.43 44.37Z" fill="#de436c" stroke="#de436c" stroke-width="0.25"/><path d="M500.08 43.21L499.43 44.37L500.77 44.37Z" fill="#de3b63" stroke="#de3b63" stroke-width="0.25"/><path d="M500.08 43.21L501.42 43.21L500.77 44.37Z" fill="#de3266" stroke="#de3266" stroke-width="0.25"/><path d="M501.42 43.21L500.77 44.37L502.11 44.37Z" fill="#de2b5d" stroke="#de2b5d" stroke-width="0.25"/><path d="M486.00 44.37L485.35 45.54L486.69 45.54Z" fill="#46de54" stroke="#46de54" stroke-width="0.25"/><path d="M486.00 44.37L487.34 44.37L486.69 45.54Z" fill="#4fde5d" stroke="#4fde5d" stroke-width="0.25"/><path d="M487.34 44.37L486.69 45.54L488.04 45.54Z" fill="#5dde5b" stroke="#5dde5b" stroke-width="0.25"/><path d="M487.34 44.37L488.69 44.37L488.04 45.54Z" fill="#68de65" stroke="#68de65" stroke-width="0.25"/><path d="M488.69 44.37L488.04 45.54L489.38 45.54Z" fill="#78de63" stroke="#78de63" stroke-width="0.25"/><path d="M488.69 44.37L490.03 44.37L489.38 45.54Z" fill="#85de6e" stroke="#85de6e" stroke-width="0.25"/><path d="M490.03 44.37L489.38 45.54L490.72 45.54Z" fill="#98de6c" stroke="#98de6c" stroke-width="0.25"/><path d="M490.03 44.37L491.37 44.37L490.72 45.54Z" fill="#a7de79" stroke="#a7de79" stroke-width="0.25"/><path d="M491.37 44.37L490.72 45.54L492.06 45.54Z" fill="#bcde77" stroke="#bcde77" stroke-width="0.25"/><path d="M491.37 44.37L492.71 44.37L492.06 45.54Z" fill="#d0de86" stroke="#d0de86" stroke-width="0.25"/><path d="M492.71 44.37L492.06 45.54L493.41 45.54Z" fill="#ded37e" stroke="#ded37e" stroke-width="0.25"/><path d="M492.71 44.37L494.06 44.37L493.41 45.54Z" fill="#dec081" stroke="#dec081" stroke-width="0.25"/><path d="M494.06 44.37L493.41 45.54L494.75 45.54Z" fill="#deac73" stroke="#deac73" stroke-width="0.25"/><path d="M494.06 44.37L495.40 44.37L494.75 45.54Z" fill="#de9b76" stroke="#de9b76" stroke-width="0.25"/><path d="M495.40 44.37L494.75 45.54L496.09 45.54Z" fill="#de8c6a" stroke="#de8c6a" stroke-width="0.25"/><path d="M495.40 44.37L496.74 44.37L496.09 45.54Z" fill="#de7e6c" stroke="#de7e6c" stroke-width="0.25"/><path d="M496.74 44.37L496.09 45.54L497.44 45.54Z" fill="#dd7162" stroke="#dd7162" stroke-width="0.25"/><path d="M496.74 44.37L498.09 44.37L497.44 45.54Z" fill="#de6565" stroke="#de6565" stroke-width="0.25"/><path d="M498.09 44.37L497.44 45.54L498.78 45.54Z" fill="#de5a5b" stroke="#de5a5b" stroke-width="0.25"/><path d="M498.09 44.37L499.43 44.37L498.78 45.54Z" fill="#de4f5e" stroke="#de4f5e" stroke-width="0.25"/><path d="M499.43 44.37L498.78 45.54L500.12 45.54Z" fill="#de4756" stroke="#de4756" stroke-width="0.25"/><path d="M499.43 44.37L500.77 44.37L500.12 45.54Z" fill="#de3d58" stroke="#de3d58" stroke-width="0.25"/><path d="M500.77 44.37L500.12 45.54L501.46 45.54Z" fill="#de3651" stroke="#de3651" stroke-width="0.25"/><path d="M500.77 44.37L502.11 44.37L501.46 45.54Z" fill="#dd2d53" stroke="#dd2d53" stroke-width="0.25"/><path d="M502.11 44.37L501.46 45.54L502.81 45.54Z" fill="#de274d" stroke="#de274d" stroke-width="0.25"/><path d="M485.35 45.54L484.70 46.70L486.04 46.70Z" fill="#42de42" stroke="#42de42" stroke-width="0.25"/><path d="M485.35 45.54L486.69 45.54L486.04 46.70Z" fill="#4ade49" stroke="#4ade49" stroke-width="0.25"/><path d="M486.69 45.54L486.04 46.70L487.39 46.70Z" fill="#58de47" stroke="#58de47" stroke-width="0.25"/><path d="M486.69 45.54L488.04 45.54L487.39 46.70Z" fill="#62de4f" stroke="#62de4f" stroke-width="0.25"/><path d="M488.04 45.54L487.39 46.70L488.73 46.70Z" fill="#71de4d" stroke="#71de4d" stroke-width="0.25"/><path d="M488.04 45.54L489.38 45.54L488.73 46.70Z" fill="#7dde56" stroke="#7dde56" stroke-width="0.25"/><path d="M489.38 45.54L488.73 46.70L490.07 46.70Z" fill="#8dde54" stroke="#8dde54" stroke-width="0.25"/><path d="M489.38 45.54L490.72 45.54L490.07 46.70Z" fill="#9cde5f" stroke="#9cde5f" stroke-width="0.25"/><path d="M490.72 45.54L490.07 46.70L491.41 46.70Z" fill="#afde5c" stroke="#afde5c" stroke-width="0.25"/><path d="M490.72 45.54L492.06 45.54L491.41 46.70Z" fill="#c0de68" stroke="#c0de68" stroke-width="0.25"/><path d="M492.06 45.54L491.41 46.70L492.76 46.70Z" fill="#d6de66" stroke="#d6de66" stroke-width="0.25"/><path d="M492.06 45.54L493.41 45.54L492.76 46.70Z" fill="#ded16d" stroke="#ded16d" stroke-width="0.25"/><path d="M493.41 45.54L492.76 46.70L494.10 46.70Z" fill="#debc60" stroke="#debc60" stroke-width="0.25"/><path d="M493.41 45.54L494.75 45.54L494.10 46.70Z" fill="#deab63" stroke="#deab63" stroke-width="0.25"/><path d="M494.75 45.54L494.10 46.70L495.44 46.70Z" fill="#de9b58" stroke="#de9b58" stroke-width="0.25"/><path d="M494.75 45.54L496.09 45.54L495.44 46.70Z" fill="#de8c5c" stroke="#de8c5c" stroke-width="0.25"/><path d="M496.09 45.54L495.44 46.70L496.79 46.70Z" fill="#de7f52" stroke="#de7f52" stroke-width="0.25"/><path d="M496.09 45.54L497.44 45.54L496.79 46.70Z" fill="#de7255" stroke="#de7255" stroke-width="0.25"/><path d="M497.44 45.54L496.79 46.70L498.13 46.70Z" fill="#de674d" stroke="#de674d" stroke-width="0.25"/><path d="M497.44 45.54L498.78 45.54L498.13 46.70Z" fill="#de5c50" stroke="#de5c50" stroke-width="0.25"/><path d="M498.78 45.54L498.13 46.70L499.47 46.70Z" fill="#de5248" stroke="#de5248" stroke-width="0.25"/><path d="M498.78 45.54L500.12 45.54L499.47 46.70Z" fill="#de484b" stroke="#de484b" stroke-width="0.25"/><path d="M500.12 45.54L499.47 46.70L500.81 46.70Z" fill="#de4144" stroke="#de4144" stroke-width="0.25"/><path d="M500.12 45.54L501.46 45.54L500.81 46.70Z" fill="#dd3847" stroke="#dd3847" stroke-width="0.25"/><path d="M501.46 45.54L500.81 46.70L502.16 46.70Z" fill="#de3141" stroke="#de3141" stroke-width="0.25"/><path d="M501.46 45.54L502.81 45.54L502.16 46.70Z" fill="#de2944" stroke="#de2944" stroke-width="0.25"/><path d="M502.81 45.54L502.16 46.70L503.50 46.70Z" fill="#de243e" stroke="#de243e" stroke-width="0.25"/></g>
<text x="494" y="27.6" font-size="6" text-anchor="middle" fill="#222" stroke="#222" stroke-width="0.13" font-style="italic" >Mki67</text>
<text x="481.3" y="52.6" font-size="6" text-anchor="middle" fill="#222" stroke="#222" stroke-width="0.13" font-style="italic" >Cd27</text>
<text x="506" y="52.6" font-size="6" text-anchor="middle" fill="#222" stroke="#222" stroke-width="0.13" font-style="italic" >Itgam</text>
<path d="M43.7 132.5 V199.6 H110.8" fill="none" stroke="#222" stroke-width="0.9"/>
<path d="M43.7 135.6 h-2.4 M43.7 167.6 h-2.4 M43.7 199.6 h-2.4 " stroke="#222" stroke-width="0.9"/>
<text x="38.3" y="137.7" font-size="5.8" text-anchor="end" fill="#222" stroke="#222" stroke-width="0.13" >100</text>
<text x="38.3" y="169.7" font-size="5.8" text-anchor="end" fill="#222" stroke="#222" stroke-width="0.13" >50</text>
<text x="38.3" y="201.7" font-size="5.8" text-anchor="end" fill="#222" stroke="#222" stroke-width="0.13" >0</text>
<rect x="52.0" y="160.24" width="16.2" height="39.36" fill="#2ca1e4"/>
<rect x="52.0" y="140.02" width="16.2" height="20.22" fill="#f39000"/>
<rect x="52.0" y="135.60" width="16.2" height="4.42" fill="#0a6a4f"/>
<rect x="86.0" y="173.49" width="16.1" height="26.11" fill="#2ca1e4"/>
<rect x="86.0" y="146.74" width="16.1" height="26.75" fill="#f39000"/>
<rect x="86.0" y="135.60" width="16.1" height="11.14" fill="#0a6a4f"/>
<path d="M60 199.6 v2.4 M94 199.6 v2.4" stroke="#222" stroke-width="0.9"/>
<text x="0" y="0" font-size="5.9" text-anchor="end" fill="#222" stroke="#222" stroke-width="0.13" transform="translate(60.3,208.5) rotate(-45)">control</text>
<text x="0" y="0" font-size="5.9" text-anchor="end" fill="#222" stroke="#222" stroke-width="0.13" transform="translate(94.3,208.5) rotate(-45)">CML-exposed</text>
<text x="0" y="0" font-size="6.6" text-anchor="middle" fill="#222" stroke="#222" stroke-width="0.13" font-weight="bold" transform="translate(20.8,166.2) rotate(-90)" textLength="35" lengthAdjust="spacingAndGlyphs">% of NK cells</text>
<rect x="33.1" y="239.8" width="4.9" height="5" fill="#2ca1e4"/>
<text x="41.2" y="244.4" font-size="5.95" text-anchor="start" fill="#222" stroke="#222" stroke-width="0.13" >Mature (K1)</text>
<rect x="80.3" y="239.8" width="4.9" height="5" fill="#f39000"/>
<text x="88.1" y="244.4" font-size="5.95" text-anchor="start" fill="#222" stroke="#222" stroke-width="0.13" >Cycling (K3)</text>
<rect x="33.1" y="249.3" width="4.9" height="5" fill="#0a6a4f"/>
<text x="41.2" y="253.8" font-size="5.95" text-anchor="start" fill="#222" stroke="#222" stroke-width="0.13" >Imm (K2)</text>
<path d="M155.2 132.5 V199.6 H222.3" fill="none" stroke="#222" stroke-width="0.9"/>
<path d="M155.2 135.6 h-2.4 M155.2 167.6 h-2.4 M155.2 199.6 h-2.4 " stroke="#222" stroke-width="0.9"/>
<text x="149.8" y="137.7" font-size="5.8" text-anchor="end" fill="#222" stroke="#222" stroke-width="0.13" >100</text>
<text x="149.8" y="169.7" font-size="5.8" text-anchor="end" fill="#222" stroke="#222" stroke-width="0.13" >50</text>
<text x="149.8" y="201.7" font-size="5.8" text-anchor="end" fill="#222" stroke="#222" stroke-width="0.13" >0</text>
<rect x="160.6" y="160.24" width="10.6" height="39.36" fill="#0f4b8e"/>
<rect x="160.6" y="135.60" width="10.6" height="24.64" fill="#d0041c"/>
<rect x="183.2" y="170.67" width="10.6" height="28.93" fill="#0f4b8e"/>
<rect x="183.2" y="135.60" width="10.6" height="35.07" fill="#d0041c"/>
<rect x="205.7" y="180.78" width="10.5" height="18.82" fill="#0f4b8e"/>
<rect x="205.7" y="135.60" width="10.5" height="45.18" fill="#d0041c"/>
<path d="M165.9 199.6 v2.4" stroke="#222" stroke-width="0.9"/>
<text x="165.9" y="211.2" font-size="6" text-anchor="middle" fill="#222" stroke="#222" stroke-width="0.13" >K1</text>
<path d="M188.5 199.6 v2.4" stroke="#222" stroke-width="0.9"/>
<text x="188.5" y="211.2" font-size="6" text-anchor="middle" fill="#222" stroke="#222" stroke-width="0.13" >K2</text>
<path d="M211 199.6 v2.4" stroke="#222" stroke-width="0.9"/>
<text x="211" y="211.2" font-size="6" text-anchor="middle" fill="#222" stroke="#222" stroke-width="0.13" >K3</text>
<text x="0" y="0" font-size="6.6" text-anchor="middle" fill="#222" stroke="#222" stroke-width="0.25" transform="translate(132.6,168) rotate(-90)" textLength="56" lengthAdjust="spacingAndGlyphs">% of cells in a cluster</text>
<rect x="154.8" y="222.1" width="5.8" height="5.4" fill="#0f4b8e"/>
<text x="163.6" y="226.7" font-size="6" text-anchor="start" fill="#222" stroke="#222" stroke-width="0.13" >control</text>
<rect x="154.8" y="232" width="5.8" height="5.3" fill="#d0041c"/>
<text x="163.6" y="236.7" font-size="6" text-anchor="start" fill="#222" stroke="#222" stroke-width="0.13" >CML-exposed</text>
<text x="422.3" y="127.1" font-size="5.92" text-anchor="end" fill="#222" stroke="#222" stroke-width="0.13" >Hematopoietic cell lineage</text>
<rect x="428.6" y="121.20" width="7.199999999999989" height="8.07" fill="#e13e4d"/>
<path d="M425 125.00 h3.4" stroke="#222" stroke-width="0.8"/>
<text x="422.3" y="134.57999999999998" font-size="5.92" text-anchor="end" fill="#222" stroke="#222" stroke-width="0.13" >Antigen processing and presentation</text>
<rect x="428.6" y="128.67" width="7.199999999999989" height="8.07" fill="#ef8991"/>
<path d="M425 132.48 h3.4" stroke="#222" stroke-width="0.8"/>
<text x="422.3" y="142.06" font-size="5.92" text-anchor="end" fill="#222" stroke="#222" stroke-width="0.13" >Type I diabetes mellitus</text>
<rect x="428.6" y="136.14" width="7.199999999999989" height="8.07" fill="#f08b93"/>
<path d="M425 139.96 h3.4" stroke="#222" stroke-width="0.8"/>
<text x="422.3" y="149.54" font-size="5.92" text-anchor="end" fill="#222" stroke="#222" stroke-width="0.13" >Cytokine-cytokine receptor interaction</text>
<rect x="428.6" y="143.61" width="7.199999999999989" height="8.07" fill="#f08d95"/>
<path d="M425 147.44 h3.4" stroke="#222" stroke-width="0.8"/>
<text x="422.3" y="157.02" font-size="5.92" text-anchor="end" fill="#222" stroke="#222" stroke-width="0.13" >Toxoplasmosis</text>
<rect x="428.6" y="151.08" width="7.199999999999989" height="8.07" fill="#f08f97"/>
<path d="M425 154.92 h3.4" stroke="#222" stroke-width="0.8"/>
<text x="422.3" y="164.5" font-size="5.92" text-anchor="end" fill="#222" stroke="#222" stroke-width="0.13" >Rheumatoid arthritis</text>
<rect x="428.6" y="158.55" width="7.199999999999989" height="8.07" fill="#f19199"/>
<path d="M425 162.40 h3.4" stroke="#222" stroke-width="0.8"/>
<text x="422.3" y="171.98" font-size="5.92" text-anchor="end" fill="#222" stroke="#222" stroke-width="0.13" >Graft-versus-host disease</text>
<rect x="428.6" y="166.02" width="7.199999999999989" height="8.07" fill="#f1939a"/>
<path d="M425 169.88 h3.4" stroke="#222" stroke-width="0.8"/>
<text x="422.3" y="179.46" font-size="5.92" text-anchor="end" fill="#222" stroke="#222" stroke-width="0.13" >Asthma</text>
<rect x="428.6" y="173.49" width="7.199999999999989" height="8.07" fill="#f1959c"/>
<path d="M425 177.36 h3.4" stroke="#222" stroke-width="0.8"/>
<text x="422.3" y="186.94" font-size="5.92" text-anchor="end" fill="#222" stroke="#222" stroke-width="0.13" >Th17 cell differentiation</text>
<rect x="428.6" y="180.96" width="7.199999999999989" height="8.07" fill="#f2979f"/>
<path d="M425 184.84 h3.4" stroke="#222" stroke-width="0.8"/>
<text x="422.3" y="194.42" font-size="5.92" text-anchor="end" fill="#222" stroke="#222" stroke-width="0.13" >IL-17 signaling pathway</text>
<rect x="428.6" y="188.44" width="7.199999999999989" height="8.07" fill="#fad6d8"/>
<path d="M425 192.32 h3.4" stroke="#222" stroke-width="0.8"/>
<text x="422.3" y="201.9" font-size="5.92" text-anchor="end" fill="#222" stroke="#222" stroke-width="0.13" >Autoimmune thyroid disease</text>
<rect x="428.6" y="195.91" width="7.199999999999989" height="8.07" fill="#fbd8da"/>
<path d="M425 199.80 h3.4" stroke="#222" stroke-width="0.8"/>
<text x="422.3" y="209.38" font-size="5.92" text-anchor="end" fill="#222" stroke="#222" stroke-width="0.13" >NF-kappa B signaling pathway</text>
<rect x="428.6" y="203.38" width="7.199999999999989" height="8.07" fill="#fbdadc"/>
<path d="M425 207.28 h3.4" stroke="#222" stroke-width="0.8"/>
<text x="422.3" y="216.85999999999999" font-size="5.92" text-anchor="end" fill="#222" stroke="#222" stroke-width="0.13" >Osteoclast differentiation</text>
<rect x="428.6" y="210.85" width="7.199999999999989" height="8.07" fill="#fbdcde"/>
<path d="M425 214.76 h3.4" stroke="#222" stroke-width="0.8"/>
<text x="422.3" y="224.34" font-size="5.92" text-anchor="end" fill="#222" stroke="#222" stroke-width="0.13" >Cell adhesion molecules</text>
<rect x="428.6" y="218.32" width="7.199999999999989" height="8.07" fill="#fbdee0"/>
<path d="M425 222.24 h3.4" stroke="#222" stroke-width="0.8"/>
<text x="422.3" y="231.82" font-size="5.92" text-anchor="end" fill="#222" stroke="#222" stroke-width="0.13" >Measles</text>
<rect x="428.6" y="225.79" width="7.199999999999989" height="8.07" fill="#fce0e2"/>
<path d="M425 229.72 h3.4" stroke="#222" stroke-width="0.8"/>
<text x="422.3" y="239.29999999999998" font-size="5.92" text-anchor="end" fill="#222" stroke="#222" stroke-width="0.13" >Systemic lupus erythematosus</text>
<rect x="428.6" y="233.26" width="7.199999999999989" height="8.07" fill="#fce2e4"/>
<path d="M425 237.20 h3.4" stroke="#222" stroke-width="0.8"/>
<text x="422.3" y="246.78" font-size="5.92" text-anchor="end" fill="#222" stroke="#222" stroke-width="0.13" >JAK-STAT signaling pathway</text>
<rect x="428.6" y="240.73" width="7.199999999999989" height="7.47" fill="#fce4e6"/>
<path d="M425 244.68 h3.4" stroke="#222" stroke-width="0.8"/>
<rect x="428.6" y="121.2" width="7.199999999999989" height="126.99999999999999" fill="none" stroke="#222" stroke-width="0.8"/>
<path d="M432.2 118.6 V121.2" stroke="#222" stroke-width="0.7"/>
<text x="431.9" y="114.1" font-size="5.92" text-anchor="middle" fill="#222" stroke="#222" stroke-width="0.13" >enrichment score</text>
<defs><linearGradient id="cbg" x1="0" y1="1" x2="0" y2="0"><stop offset="0.0" stop-color="#fffafa"/><stop offset="0.05" stop-color="#fdedee"/><stop offset="0.1" stop-color="#fce0e2"/><stop offset="0.15" stop-color="#fad3d6"/><stop offset="0.2" stop-color="#f8c6ca"/><stop offset="0.25" stop-color="#f7b9be"/><stop offset="0.3" stop-color="#f5adb2"/><stop offset="0.35" stop-color="#f3a1a7"/><stop offset="0.4" stop-color="#f1959c"/><stop offset="0.45" stop-color="#ef8991"/><stop offset="0.5" stop-color="#ee7d86"/><stop offset="0.55" stop-color="#ec727c"/><stop offset="0.6" stop-color="#eb6b76"/><stop offset="0.65" stop-color="#ea6470"/><stop offset="0.7" stop-color="#e85d6a"/><stop offset="0.75" stop-color="#e75663"/><stop offset="0.8" stop-color="#e64f5d"/><stop offset="0.85" stop-color="#e44856"/><stop offset="0.9" stop-color="#e2414f"/><stop offset="0.95" stop-color="#e03948"/><stop offset="1.0" stop-color="#de3241"/></linearGradient></defs>
<rect x="445.0" y="121.2" width="5.600000000000023" height="125.39999999999999" fill="url(#cbg)" stroke="#222" stroke-width="0.8"/>
<path d="M449.3 144.9 h3.5 M445.0 144.9 h1.4" stroke="#222" stroke-width="0.75"/>
<text x="454" y="147.0" font-size="6" text-anchor="start" fill="#222" stroke="#222" stroke-width="0.13" >20</text>
<path d="M449.3 178.6 h3.5 M445.0 178.6 h1.4" stroke="#222" stroke-width="0.75"/>
<text x="454" y="180.7" font-size="6" text-anchor="start" fill="#222" stroke="#222" stroke-width="0.13" >15</text>
<path d="M449.3 212.8 h3.5 M445.0 212.8 h1.4" stroke="#222" stroke-width="0.75"/>
<text x="454" y="214.9" font-size="6" text-anchor="start" fill="#222" stroke="#222" stroke-width="0.13" >10</text>
<path d="M449.3 246.5 h3.5 M445.0 246.5 h1.4" stroke="#222" stroke-width="0.75"/>
<text x="454" y="248.6" font-size="6" text-anchor="start" fill="#222" stroke="#222" stroke-width="0.13" >5</text>
<text x="332" y="127.1" font-size="5.95" text-anchor="end" fill="#c41e4a" stroke="#c41e4a" stroke-width="0.13" >IL3RA, IL2Ra, IL7R</text>
<path d="M334.8 125.0 L345.9 125.0" stroke="#111" stroke-width="0.8"/>
<path d="M348.5 125.0 L345.9 126.5 L345.9 123.5Z" fill="#111"/>
<text x="339.8" y="142.06" font-size="5.95" text-anchor="end" fill="#c41e4a" stroke="#c41e4a" stroke-width="0.13" >TNFa, Ltb, IL 1b</text>
<path d="M343.3 140.0 L354.9 140.0" stroke="#111" stroke-width="0.8"/>
<path d="M357.5 140.0 L354.9 141.5 L354.9 138.5Z" fill="#111"/>
<path d="M314.6 156.2 L320.4 152.6" stroke="#111" stroke-width="0.8"/>
<path d="M322.6 151.2 L321.2 153.8 L319.6 151.3Z" fill="#111"/>
<text x="258.8" y="158.8" font-size="5.95" text-anchor="start" fill="#c41e4a" stroke="#c41e4a" stroke-width="0.13" >IL6st, IL2Ra, IL3Ra,</text>
<text x="258.8" y="166.6" font-size="5.95" text-anchor="start" fill="#c41e4a" stroke="#c41e4a" stroke-width="0.13" >Xcl1, GM-CSF, TNFa, Ltb,</text>
<text x="258.8" y="174.3" font-size="5.95" text-anchor="start" fill="#c41e4a" stroke="#c41e4a" stroke-width="0.13" >IL1b, Tnfrsf9, Tnfsf11, Tnfsf8</text>
<text x="346.8" y="194.42" font-size="5.95" text-anchor="end" fill="#c41e4a" stroke="#c41e4a" stroke-width="0.13" >Ahr, IL6st, IL1b</text>
<path d="M348.5 191.0 L356.4 185.9" stroke="#111" stroke-width="0.8"/>
<path d="M358.6 184.5 L357.2 187.2 L355.6 184.6Z" fill="#111"/>
<text x="326.4" y="209.38" font-size="5.95" text-anchor="end" fill="#c41e4a" stroke="#c41e4a" stroke-width="0.13" >TNFa, IL1b, Tnsrsf11, Bcl2a1d</text>
<path d="M328.8 207.3 L337.0 207.3" stroke="#111" stroke-width="0.8"/>
<path d="M339.6 207.3 L337.0 208.8 L337.0 205.8Z" fill="#111"/>
<text x="332.2" y="246.78" font-size="5.95" text-anchor="end" fill="#c41e4a" stroke="#c41e4a" stroke-width="0.13" >Socs1/2, Cish, IL2Ra</text>
<path d="M333.5 244.7 L340.6 244.7" stroke="#111" stroke-width="0.8"/>
<path d="M343.2 244.7 L340.6 246.2 L340.6 243.2Z" fill="#111"/>
<rect x="40.3" y="284.6" width="304.8" height="132.79999999999995" fill="none" stroke="#444" stroke-width="1.1"/>
<path d="M40.3 284.8 h-3" stroke="#444" stroke-width="0.9"/>
<text x="34.3" y="286.90000000000003" font-size="6" text-anchor="end" fill="#222" stroke="#222" stroke-width="0.13" >8</text>
<path d="M40.3 316.6 h-3" stroke="#444" stroke-width="0.9"/>
<text x="34.3" y="318.70000000000005" font-size="6" text-anchor="end" fill="#222" stroke="#222" stroke-width="0.13" >66</text>
<path d="M40.3 348.2 h-3" stroke="#444" stroke-width="0.9"/>
<text x="34.3" y="350.3" font-size="6" text-anchor="end" fill="#222" stroke="#222" stroke-width="0.13" >45</text>
<path d="M40.3 379.6 h-3" stroke="#444" stroke-width="0.9"/>
<text x="34.3" y="381.70000000000005" font-size="6" text-anchor="end" fill="#222" stroke="#222" stroke-width="0.13" >24</text>
<path d="M40.3 411.5 h-3" stroke="#444" stroke-width="0.9"/>
<text x="34.3" y="412.0" font-size="6" text-anchor="end" fill="#222" stroke="#222" stroke-width="0.13" >3</text>
<path d="M40.3 415.4 h-3" stroke="#444" stroke-width="0.9"/>
<text x="34.3" y="419.0" font-size="6" text-anchor="end" fill="#222" stroke="#222" stroke-width="0.13" >0</text>
<path d="M41.2 417.4 v2.8" stroke="#444" stroke-width="0.9"/>
<text x="41.2" y="429.1" font-size="6" text-anchor="middle" fill="#222" stroke="#222" stroke-width="0.13" >−4</text>
<path d="M117.2 417.4 v2.8" stroke="#444" stroke-width="0.9"/>
<text x="117.17500000000001" y="429.1" font-size="6" text-anchor="middle" fill="#222" stroke="#222" stroke-width="0.13" >−2</text>
<path d="M193.2 417.4 v2.8" stroke="#444" stroke-width="0.9"/>
<text x="193.15000000000003" y="429.1" font-size="6" text-anchor="middle" fill="#222" stroke="#222" stroke-width="0.13" >0</text>
<path d="M269.1 417.4 v2.8" stroke="#444" stroke-width="0.9"/>
<text x="269.125" y="429.1" font-size="6" text-anchor="middle" fill="#222" stroke="#222" stroke-width="0.13" >2</text>
<path d="M345.1 417.4 v2.8" stroke="#444" stroke-width="0.9"/>
<text x="345.1" y="429.1" font-size="6" text-anchor="middle" fill="#222" stroke="#222" stroke-width="0.13" >4</text>
<text x="192.6" y="440.0" font-size="6" text-anchor="middle" fill="#222" stroke="#222" stroke-width="0.13" >log2(fold change)</text>
<text x="0" y="0" font-size="7.0" text-anchor="middle" fill="#222" stroke="#222" stroke-width="0.2" transform="translate(22.0,351.3) rotate(-90)" textLength="39.5" lengthAdjust="spacingAndGlyphs">−log10(<tspan font-style="italic">P</tspan>-value)</text>
<path d="M41.3 413.7 H344.1" stroke="#222" stroke-width="1.05" stroke-dasharray="1.5 1.7"/>
<path d="M155.7 286.1 V416.4 M231.4 286.1 V416.4" stroke="#222" stroke-width="0.95" stroke-dasharray="1.0 1.85"/>
<text x="67.2" y="279.7" font-size="8.0" text-anchor="start" fill="#38598c" stroke="#38598c" stroke-width="0.13" textLength="65.3" lengthAdjust="spacingAndGlyphs">Enriched in control</text>
<text x="249.7" y="279.7" font-size="8.0" text-anchor="start" fill="#c8244e" stroke="#c8244e" stroke-width="0.13" textLength="58.5" lengthAdjust="spacingAndGlyphs">Enriched in CML</text>
<path d="M144.6 299.6h0M152.4 337.7h0M112.9 348.2h0M148.4 351.6h0M147.2 359.7h0M154.6 370.7h0M151.4 373.4h0M147.4 377.0h0M110.5 382.7h0M112.3 382.7h0M121.8 381.3h0M99.8 390.3h0M119.2 389.0h0M144.6 386.1h0M152.4 391.8h0M152.4 393.6h0M133.0 397.1h0M144.6 396.7h0M146.7 400.3h0M74.8 412.6h0M124.5 408.8h0M127.7 409.8h0M143.2 407.1h0M153.3 410.4h0M150.6 405.8h0M143.9 410.6h0M154.2 409.5h0M150.6 408.7h0M154.6 409.2h0M140.6 412.1h0M155.3 407.5h0M153.0 413.1h0M151.8 412.7h0M149.8 411.6h0M152.7 413.2h0M154.2 411.8h0M154.6 406.6h0M152.0 406.8h0M139.1 413.1h0M152.4 408.4h0M152.4 407.2h0M155.3 405.6h0M152.0 408.9h0M152.9 412.4h0M137.1 401.2h0M154.8 406.7h0M144.8 408.6h0M135.3 399.6h0M152.8 407.5h0M150.1 406.9h0M153.6 406.7h0M145.6 405.5h0M152.6 412.6h0M155.1 408.5h0M152.4 405.2h0M153.5 409.2h0M155.0 413.5h0M134.7 406.9h0M153.3 409.7h0M151.6 410.8h0M153.2 409.9h0M146.8 410.2h0M134.8 408.3h0M154.9 408.7h0M151.9 400.2h0M149.6 407.0h0M152.5 405.1h0M153.8 406.4h0M152.4 410.7h0M137.5 405.2h0M153.0 410.0h0M150.9 411.0h0M154.3 394.2h0M142.5 395.6h0M144.1 393.7h0M146.2 397.0h0" stroke="#1a4a8a" stroke-width="2.5" stroke-linecap="round" fill="none"/>
<path d="M156.5 410.0h0M156.5 408.5h0M156.5 412.7h0M156.5 413.9h0M156.5 409.6h0M156.5 406.6h0M230.1 410.7h0M230.1 407.8h0M231.1 400.6h0M231.6 395.3h0" stroke="#b8b8b8" stroke-width="1.8" stroke-linecap="round" fill="none"/>
<path d="M245.0 290.6h0M264.0 310.7h0M244.3 317.7h0M275.4 339.7h0M293.6 342.4h0M280.3 344.1h0M274.6 348.3h0M274.6 350.4h0M240.1 347.3h0M251.3 349.2h0M277.5 363.8h0M241.5 368.8h0M231.3 374.6h0M241.0 378.8h0M247.1 385.6h0M256.9 381.7h0M269.8 376.9h0M273.0 376.0h0M264.0 385.6h0M269.2 389.4h0M281.3 391.3h0M271.7 395.2h0M266.9 396.2h0M260.8 395.2h0M261.2 398.0h0M254.4 393.3h0M255.4 399.0h0M260.2 401.9h0M263.0 401.0h0M256.3 387.5h0M253.5 389.4h0M251.5 390.4h0M246.7 392.3h0M266.0 387.5h0M263.0 384.6h0M270.8 384.6h0M267.9 390.4h0M258.3 403.8h0M231.5 383.0h0M231.5 392.0h0M232.0 398.0h0M231.5 388.0h0M236.0 396.0h0M238.0 393.0h0M248.0 397.0h0M250.0 402.0h0M244.0 394.0h0M262.0 392.0h0M272.0 380.0h0M252.0 385.0h0M231.9 409.8h0M241.8 412.8h0M239.7 408.1h0M239.5 405.1h0M235.3 404.3h0M234.2 410.3h0M232.9 406.6h0M236.1 407.7h0M239.0 402.5h0M239.6 408.6h0M241.4 404.7h0M243.6 403.1h0M237.8 407.6h0M234.5 409.3h0M233.7 413.0h0M243.3 403.2h0M240.1 410.1h0M236.4 401.5h0M235.1 409.7h0M232.1 403.0h0M239.8 406.5h0M232.1 404.3h0M233.6 411.3h0M231.9 402.0h0M236.9 404.5h0M246.4 409.3h0M235.6 410.5h0M240.6 402.3h0M236.4 406.7h0M238.6 407.9h0M237.1 408.1h0M236.2 404.6h0M244.6 408.7h0M240.3 402.4h0M237.8 410.1h0M233.3 411.0h0M236.9 408.8h0M238.0 408.2h0M243.3 406.2h0M244.8 405.0h0M234.8 409.8h0M234.2 406.3h0M242.1 411.4h0M234.4 409.1h0M246.0 403.4h0M237.7 408.7h0M243.2 403.1h0M238.4 412.3h0M240.3 402.8h0M242.7 404.1h0M236.7 407.1h0M237.1 404.3h0M237.5 412.8h0M236.1 405.9h0M238.8 402.1h0M241.5 410.5h0M235.8 406.6h0M240.9 402.1h0M232.4 411.3h0M243.6 409.6h0M238.9 408.2h0M244.5 406.2h0M241.9 406.4h0M237.2 407.3h0M236.5 405.1h0M238.3 408.8h0M243.2 404.6h0M240.0 404.1h0M241.0 408.7h0M240.8 404.4h0M234.3 401.4h0M237.1 402.7h0M233.4 408.1h0M245.0 410.1h0M234.3 406.4h0M241.7 409.8h0M252.5 408.8h0M237.1 407.8h0M244.9 407.4h0M240.3 409.2h0M234.9 407.9h0M236.5 403.5h0M242.0 409.6h0M238.8 404.6h0M233.0 409.1h0M247.2 403.1h0M245.7 397.4h0M233.4 395.9h0M232.7 403.9h0M242.3 404.2h0M234.9 397.3h0M236.1 409.1h0M251.8 410.7h0M233.9 395.1h0M251.0 402.3h0M247.3 399.9h0M241.3 403.3h0" stroke="#c0102c" stroke-width="2.5" stroke-linecap="round" fill="none"/>
<text x="147.3" y="290.7" font-size="5.9" text-anchor="middle" fill="#222" stroke="#222" stroke-width="0.13" >Zeb2</text>
<text x="135" y="299.1" font-size="5.9" text-anchor="middle" fill="#222" stroke="#222" stroke-width="0.13" >Ly6c2</text>
<text x="116.7" y="350.4" font-size="5.9" text-anchor="start" fill="#222" stroke="#222" stroke-width="0.13" >Fos</text>
<text x="158.4" y="374.9" font-size="5.9" text-anchor="start" fill="#222" stroke="#222" stroke-width="0.13" >Jun</text>
<text x="148.4" y="382.7" font-size="5.9" text-anchor="start" fill="#222" stroke="#222" stroke-width="0.13" >Fosb</text>
<text x="90.4" y="393.9" font-size="5.9" text-anchor="middle" fill="#222" stroke="#222" stroke-width="0.13" >Vegfa</text>
<text x="121.3" y="393.3" font-size="5.9" text-anchor="start" fill="#222" stroke="#222" stroke-width="0.13" >Cym</text>
<text x="248.1" y="295.2" font-size="5.9" text-anchor="start" fill="#222" stroke="#222" stroke-width="0.13" >Serpina3g</text>
<text x="246.4" y="322.9" font-size="5.9" text-anchor="start" fill="#222" stroke="#222" stroke-width="0.13" >Cd160</text>
<text x="276.7" y="337.5" font-size="5.9" text-anchor="start" fill="#222" stroke="#222" stroke-width="0.13" >Kit</text>
<text x="296.6" y="344.5" font-size="5.9" text-anchor="start" fill="#222" stroke="#222" stroke-width="0.13" >S100A8</text>
<text x="282" y="349.4" font-size="5.9" text-anchor="start" fill="#222" stroke="#222" stroke-width="0.13" >Lilr4b</text>
<text x="276" y="356.1" font-size="5.9" text-anchor="start" fill="#222" stroke="#222" stroke-width="0.13" >Lilr4a</text>
<text x="241.8" y="344.5" font-size="5.9" text-anchor="start" fill="#222" stroke="#222" stroke-width="0.13" >Ltb</text>
<text x="241" y="366.5" font-size="5.9" text-anchor="start" fill="#222" stroke="#222" stroke-width="0.13" >Slamf6</text>
<text x="217.9" y="376.1" font-size="5.9" text-anchor="start" fill="#222" stroke="#222" stroke-width="0.13" >Xcl1</text>
<text x="233.3" y="376.1" font-size="5.9" text-anchor="start" fill="#222" stroke="#222" stroke-width="0.13" >Socs1</text>
<text x="250.6" y="378.1" font-size="5.9" text-anchor="start" fill="#222" stroke="#222" stroke-width="0.13" >Ahr</text>
<text x="262.7" y="374.2" font-size="5.9" text-anchor="start" fill="#222" stroke="#222" stroke-width="0.13" >Cish</text>
<text x="282.7" y="374.2" font-size="5.9" text-anchor="start" fill="#222" stroke="#222" stroke-width="0.13" >Tnfsf8</text>
<text x="276.2" y="382.9" font-size="5.9" text-anchor="start" fill="#222" stroke="#222" stroke-width="0.13" >Il7r</text>
<text x="275" y="396.9" font-size="5.9" text-anchor="start" fill="#222" stroke="#222" stroke-width="0.13" >Lag3</text>
<text x="233.3" y="397.7" font-size="5.9" text-anchor="start" fill="#222" stroke="#222" stroke-width="0.13" >Csf2</text>
<text x="218.8" y="406.9" font-size="5.9" text-anchor="start" fill="#222" stroke="#222" stroke-width="0.13" >Tnf</text>
<text x="254.4" y="409.4" font-size="5.9" text-anchor="start" fill="#222" stroke="#222" stroke-width="0.13" >Tigit</text>
<text x="241.9" y="417.4" font-size="5.9" text-anchor="start" fill="#222" stroke="#222" stroke-width="0.13" >Il2ra</text>
<path d="M153.5 288.5 L155.5 289.5 M252 377 L247.6 385 M264 374.5 L257.3 381.2 M282.5 372.5 L270 377 M276 381 L264.5 385.3 M275 394.5 L269.5 389.6 M246.5 396.5 L243 399" stroke="#333" stroke-width="0.5" fill="none"/>
<path d="M394.66 316.21 L394.18 316.10 L393.69 315.99 L393.21 315.90 L392.74 315.82 L392.27 315.75 L391.81 315.68 L391.35 315.63 L390.90 315.59 L390.46 315.55 L390.02 315.52 L389.58 315.51 L389.16 315.50 L388.74 315.50 L388.32 315.51 L387.92 315.53 L387.51 315.56 L387.12 315.60 L386.74 315.65 L386.36 315.71 L385.98 315.78 L385.62 315.85 L385.26 315.94 L384.91 316.04 L384.57 316.14 L384.24 316.25 L383.91 316.38 L383.60 316.51 L383.29 316.65 L382.98 316.80 L382.69 316.96 L382.41 317.13 L382.13 317.31 L381.86 317.49 L381.60 317.69 L381.35 317.89 L381.11 318.10 L380.88 318.32 L380.66 318.55 L380.44 318.79 L380.24 319.04 L380.04 319.29 L379.86 319.55 L379.68 319.82 L379.51 320.10 L379.35 320.39 L379.20 320.69 L379.06 320.99 L378.93 321.30 L378.81 321.62 L378.70 321.94 L378.60 322.27 L378.50 322.62 L378.42 322.96 L378.35 323.32 L378.29 323.68 L378.23 324.05 L378.19 324.42 L378.16 324.80 L378.13 325.19 L378.12 325.59 L378.11 325.99 L378.12 326.40 L378.13 326.81 L378.16 327.23 L378.19 327.66 L378.24 328.09 L378.29 328.52 L378.36 328.97 L378.43 329.41 L378.52 329.87 L378.61 330.32 L378.71 330.79 L378.82 331.25 L378.95 331.72 L379.08 332.20 L379.22 332.68 L379.37 333.17 L379.53 333.65 L379.70 334.15 L379.88 334.64 L380.07 335.14 L380.26 335.65 L380.47 336.15 L380.69 336.66 L380.91 337.17 L381.14 337.69 L381.39 338.21 L381.64 338.73 L381.90 339.25 L382.17 339.78 L382.44 340.30 L382.73 340.83 L383.02 341.36 L383.33 341.89 L383.64 342.43 L383.95 342.96 L384.28 343.50 L384.62 344.03 L384.96 344.57 L385.31 345.11 L385.67 345.65 L386.03 346.18 L386.40 346.72 L386.78 347.26 L387.17 347.80 L387.57 348.34 L387.97 348.87 L388.38 349.41 L388.79 349.94 L389.21 350.48 L389.64 351.01 L390.07 351.54 L390.51 352.07 L390.96 352.60 L391.41 353.13 L391.87 353.65 L392.33 354.17 L392.80 354.69 L393.27 355.21 L393.75 355.72 L394.24 356.23 L394.73 356.74 L395.22 357.25 L395.72 357.75 L396.22 358.25 L396.73 358.74 L397.24 359.23 L397.76 359.72 L398.28 360.20 L398.80 360.68 L399.33 361.16 L399.86 361.63 L400.39 362.09 L400.92 362.55 L401.46 363.01 L402.00 363.46 L402.55 363.90 L403.09 364.34 L403.64 364.78 L404.19 365.21 L404.75 365.63 L405.30 366.05 L405.86 366.46 L406.41 366.86 L406.97 367.26 L407.53 367.65 L408.09 368.04 L408.65 368.42 L409.21 368.79 L409.77 369.16 L410.34 369.51 L410.90 369.87 L411.46 370.21 L412.02 370.55 L412.58 370.88 L413.14 371.20 L413.70 371.51 L414.26 371.82 L414.82 372.12 L415.37 372.41 L415.92 372.70 L416.48 372.97 L417.03 373.24 L417.58 373.50 L418.12 373.75 L418.67 373.99 L419.11 374.19 L419.06 374.13 L418.84 373.89 L418.64 373.64 L418.44 373.39 L418.26 373.13 L418.08 372.86 L417.91 372.58 L417.75 372.29 L417.60 371.99 L417.46 371.69 L417.33 371.38 L417.21 371.06 L417.10 370.74 L417.00 370.41 L416.90 370.06 L416.82 369.72 L416.75 369.36 L416.69 369.00 L416.63 368.63 L416.59 368.26 L416.56 367.88 L416.53 367.49 L416.52 367.09 L416.51 366.69 L416.52 366.31 L416.47 366.31 L416.02 366.35 L415.58 366.37 L415.14 366.39 L414.71 366.39 L414.28 366.39 L413.86 366.38 L413.44 366.36 L413.03 366.33 L412.63 366.29 L412.23 366.24 L411.84 366.18 L411.46 366.11 L411.08 366.03 L410.71 365.95 L410.34 365.85 L409.98 365.75 L409.63 365.63 L409.29 365.51 L408.95 365.38 L408.62 365.24 L408.30 365.09 L407.98 364.93 L407.67 364.77 L407.37 364.59 L407.08 364.40 L406.80 364.21 L406.52 364.01 L406.25 363.80 L405.99 363.58 L405.74 363.35 L405.50 363.12 L405.26 362.87 L405.03 362.62 L404.81 362.36 L404.60 362.09 L404.40 361.81 L404.21 361.53 L404.02 361.24 L403.85 360.94 L403.68 360.63 L403.52 360.31 L403.37 359.99 L403.23 359.66 L403.10 359.32 L402.98 358.98 L402.87 358.63 L402.76 358.27 L402.67 357.90 L402.58 357.53 L402.50 357.15 L402.44 356.77 L402.38 356.38 L402.33 355.98 L402.29 355.57 L402.26 355.16 L402.24 354.75 L402.23 354.33 L402.22 353.90 L402.23 353.47 L402.25 353.03 L402.27 352.59 L402.31 352.14 L402.35 351.69 L402.40 351.23 L402.47 350.77 L402.54 350.30 L402.62 349.83 L402.71 349.35 L402.81 348.87 L402.92 348.39 L403.03 347.90 L403.16 347.41 L403.30 346.91 L403.44 346.42 L403.59 345.91 L403.76 345.41 L403.93 344.90 L404.11 344.39 L404.30 343.88 L404.49 343.36 L404.70 342.85 L404.91 342.33 L405.14 341.81 L405.34 341.35 L405.13 341.07 L404.75 340.55 L404.38 340.02 L404.01 339.49 L403.65 338.96 L403.29 338.43 L402.95 337.90 L402.60 337.37 L402.27 336.84 L401.95 336.31 L401.63 335.77 L401.32 335.24 L401.01 334.71 L400.72 334.18 L400.43 333.65 L400.15 333.11 L399.88 332.59 L399.61 332.06 L399.36 331.53 L399.11 331.00 L398.87 330.48 L398.64 329.95 L398.41 329.43 L398.20 328.91 L397.99 328.40 L397.80 327.88 L397.61 327.37 L397.43 326.86 L397.26 326.35 L397.09 325.85 L396.94 325.34 L396.80 324.85 L396.66 324.35 L396.53 323.86 L396.42 323.37 L396.31 322.89 L396.21 322.41 L396.12 321.93 L396.04 321.46 L395.97 320.99 L395.90 320.53 L395.85 320.07 L395.81 319.62 L395.77 319.17 L395.75 318.73 L395.73 318.29 L395.72 317.86 L395.73 317.43 L395.74 317.01 L395.76 316.60 L395.77 316.48 L395.66 316.45 L395.16 316.32ZM429.70 377.09 L430.14 377.13 L430.58 377.16 L431.02 377.17 L431.44 377.18 L431.86 377.18 L432.28 377.17 L432.68 377.15 L433.09 377.12 L433.48 377.08 L433.86 377.03 L434.24 376.97 L434.62 376.90 L434.98 376.83 L435.34 376.74 L435.69 376.64 L436.03 376.54 L436.36 376.43 L436.69 376.30 L437.00 376.17 L437.31 376.03 L437.62 375.88 L437.91 375.72 L438.19 375.55 L438.47 375.37 L438.74 375.19 L439.00 374.99 L439.25 374.79 L439.49 374.58 L439.72 374.36 L439.89 374.19 L439.79 374.23 L439.25 374.45 L438.72 374.67 L438.19 374.88 L437.66 375.08 L437.13 375.27 L436.61 375.45 L436.09 375.62 L435.58 375.79 L435.06 375.94 L434.56 376.09 L434.06 376.23 L433.56 376.36 L433.06 376.47 L432.58 376.58 L432.09 376.69 L431.61 376.78 L431.14 376.86 L430.67 376.93 L430.21 377.00 L429.75 377.05 L429.50 377.07Z" fill="#7687c3" stroke="#7687c3" stroke-width="0.3"/>
<path d="M428.79 312.92 L428.26 312.57 L427.72 312.23 L427.19 311.90 L426.66 311.58 L426.13 311.26 L425.59 310.95 L425.06 310.64 L424.53 310.35 L424.00 310.06 L423.47 309.78 L422.94 309.51 L422.41 309.24 L421.88 308.99 L421.35 308.74 L420.83 308.50 L420.30 308.27 L419.78 308.05 L419.26 307.83 L418.75 307.63 L418.23 307.43 L417.72 307.24 L417.21 307.06 L416.70 306.89 L416.20 306.73 L415.69 306.58 L415.20 306.43 L414.70 306.30 L414.21 306.17 L413.72 306.06 L413.24 305.95 L412.76 305.85 L412.28 305.76 L411.81 305.68 L411.34 305.61 L410.88 305.55 L410.42 305.49 L409.97 305.45 L409.52 305.41 L409.08 305.39 L408.64 305.37 L408.21 305.37 L407.78 305.37 L407.36 305.38 L406.94 305.40 L406.53 305.43 L406.13 305.47 L405.73 305.52 L405.34 305.58 L404.96 305.65 L404.58 305.73 L404.21 305.81 L403.84 305.91 L403.48 306.01 L403.13 306.13 L402.79 306.25 L402.45 306.38 L402.12 306.52 L401.80 306.67 L401.48 306.83 L401.17 306.99 L400.87 307.17 L400.58 307.36 L400.30 307.55 L400.02 307.75 L399.75 307.96 L399.49 308.18 L399.24 308.41 L399.00 308.64 L398.76 308.89 L398.53 309.14 L398.31 309.40 L398.10 309.67 L397.90 309.95 L397.71 310.23 L397.52 310.52 L397.35 310.82 L397.18 311.13 L397.02 311.45 L396.87 311.77 L396.73 312.10 L396.60 312.44 L396.48 312.78 L396.37 313.13 L396.26 313.49 L396.17 313.86 L396.08 314.23 L396.00 314.61 L395.94 314.99 L395.88 315.38 L395.83 315.78 L395.79 316.19 L395.77 316.48 L396.16 316.59 L396.66 316.74 L397.18 316.89 L397.69 317.06 L398.21 317.23 L398.73 317.41 L399.26 317.60 L399.79 317.80 L400.32 318.01 L400.85 318.23 L401.39 318.45 L401.93 318.69 L402.48 318.93 L403.02 319.18 L403.57 319.44 L404.12 319.71 L404.68 319.98 L405.23 320.27 L405.78 320.56 L406.34 320.86 L406.90 321.17 L407.46 321.48 L408.02 321.80 L408.58 322.13 L409.14 322.47 L409.70 322.81 L410.26 323.17 L410.83 323.52 L411.39 323.89 L411.95 324.26 L412.51 324.64 L413.07 325.03 L413.63 325.42 L414.19 325.82 L414.74 326.22 L415.02 326.43 L415.34 326.05 L415.78 325.54 L416.23 325.04 L416.68 324.55 L417.13 324.06 L417.59 323.57 L418.06 323.08 L418.53 322.60 L419.00 322.12 L419.48 321.65 L419.96 321.18 L420.45 320.72 L420.94 320.26 L421.43 319.80 L421.93 319.35 L422.43 318.91 L422.93 318.47 L423.43 318.03 L423.94 317.60 L424.45 317.18 L424.97 316.76 L425.48 316.35 L426.00 315.94 L426.52 315.54 L427.05 315.15 L427.57 314.76 L428.10 314.38 L428.62 314.00 L429.15 313.64 L429.50 313.40 L429.32 313.28Z" fill="#f8d882" stroke="#f8d882" stroke-width="0.3"/>
<path d="M463.21 316.19 L463.17 315.78 L463.12 315.38 L463.06 314.99 L463.00 314.61 L462.92 314.23 L462.83 313.86 L462.74 313.49 L462.63 313.13 L462.52 312.78 L462.40 312.44 L462.27 312.10 L462.13 311.77 L461.98 311.45 L461.82 311.13 L461.65 310.82 L461.48 310.52 L461.29 310.23 L461.10 309.95 L460.90 309.67 L460.69 309.40 L460.47 309.14 L460.24 308.89 L460.00 308.64 L459.76 308.41 L459.51 308.18 L459.25 307.96 L458.98 307.75 L458.70 307.55 L458.42 307.36 L458.13 307.17 L457.83 306.99 L457.52 306.83 L457.20 306.67 L456.88 306.52 L456.55 306.38 L456.21 306.25 L455.87 306.13 L455.52 306.01 L455.16 305.91 L454.79 305.81 L454.42 305.73 L454.04 305.65 L453.66 305.58 L453.27 305.52 L452.87 305.47 L452.47 305.43 L452.06 305.40 L451.64 305.38 L451.22 305.37 L450.79 305.37 L450.36 305.37 L449.92 305.39 L449.48 305.41 L449.03 305.45 L448.58 305.49 L448.12 305.55 L447.66 305.61 L447.19 305.68 L446.72 305.76 L446.24 305.85 L445.76 305.95 L445.28 306.06 L444.79 306.17 L444.30 306.30 L443.80 306.43 L443.31 306.58 L442.80 306.73 L442.30 306.89 L441.79 307.06 L441.28 307.24 L440.77 307.43 L440.25 307.63 L439.74 307.83 L439.22 308.05 L438.70 308.27 L438.17 308.50 L437.65 308.74 L437.12 308.99 L436.59 309.24 L436.06 309.51 L435.53 309.78 L435.00 310.06 L434.47 310.35 L433.94 310.64 L433.41 310.95 L432.87 311.26 L432.34 311.58 L431.81 311.90 L431.28 312.23 L430.74 312.57 L430.21 312.92 L429.68 313.28 L429.50 313.40 L429.85 313.64 L430.38 314.00 L430.90 314.38 L431.43 314.76 L431.95 315.15 L432.48 315.54 L433.00 315.94 L433.52 316.35 L434.03 316.76 L434.55 317.18 L435.06 317.60 L435.57 318.03 L436.07 318.47 L436.57 318.91 L437.07 319.35 L437.57 319.80 L438.06 320.26 L438.55 320.72 L439.04 321.18 L439.52 321.65 L440.00 322.12 L440.47 322.60 L440.94 323.08 L441.41 323.57 L441.87 324.06 L442.32 324.55 L442.77 325.04 L443.22 325.54 L443.66 326.05 L443.98 326.43 L444.26 326.22 L444.81 325.82 L445.37 325.42 L445.93 325.03 L446.49 324.64 L447.05 324.26 L447.61 323.89 L448.17 323.52 L448.74 323.17 L449.30 322.81 L449.86 322.47 L450.42 322.13 L450.98 321.80 L451.54 321.48 L452.10 321.17 L452.66 320.86 L453.22 320.56 L453.77 320.27 L454.32 319.98 L454.88 319.71 L455.43 319.44 L455.98 319.18 L456.52 318.93 L457.07 318.69 L457.61 318.45 L458.15 318.23 L458.68 318.01 L459.21 317.80 L459.74 317.60 L460.27 317.41 L460.79 317.23 L461.31 317.06 L461.82 316.89 L462.34 316.74 L462.84 316.59 L463.23 316.48Z" fill="#9eda91" stroke="#9eda91" stroke-width="0.3"/>
<path d="M441.42 373.50 L441.97 373.24 L442.52 372.97 L443.08 372.70 L443.63 372.41 L444.18 372.12 L444.74 371.82 L445.30 371.51 L445.86 371.20 L446.42 370.88 L446.98 370.55 L447.54 370.21 L448.10 369.87 L448.66 369.51 L449.23 369.16 L449.79 368.79 L450.35 368.42 L450.91 368.04 L451.47 367.65 L452.03 367.26 L452.59 366.86 L453.14 366.46 L453.70 366.05 L454.25 365.63 L454.81 365.21 L455.36 364.78 L455.91 364.34 L456.45 363.90 L457.00 363.46 L457.54 363.01 L458.08 362.55 L458.61 362.09 L459.14 361.63 L459.67 361.16 L460.20 360.68 L460.72 360.20 L461.24 359.72 L461.76 359.23 L462.27 358.74 L462.78 358.25 L463.28 357.75 L463.78 357.25 L464.27 356.74 L464.76 356.23 L465.25 355.72 L465.73 355.21 L466.20 354.69 L466.67 354.17 L467.13 353.65 L467.59 353.13 L468.04 352.60 L468.49 352.07 L468.93 351.54 L469.36 351.01 L469.79 350.48 L470.21 349.94 L470.62 349.41 L471.03 348.87 L471.43 348.34 L471.83 347.80 L472.22 347.26 L472.60 346.72 L472.97 346.18 L473.33 345.65 L473.69 345.11 L474.04 344.57 L474.38 344.03 L474.72 343.50 L475.05 342.96 L475.36 342.43 L475.67 341.89 L475.98 341.36 L476.27 340.83 L476.56 340.30 L476.83 339.78 L477.10 339.25 L477.36 338.73 L477.61 338.21 L477.86 337.69 L478.09 337.17 L478.31 336.66 L478.53 336.15 L478.74 335.65 L478.93 335.14 L479.12 334.64 L479.30 334.15 L479.47 333.65 L479.63 333.17 L479.78 332.68 L479.92 332.20 L480.05 331.72 L480.18 331.25 L480.29 330.79 L480.39 330.32 L480.48 329.87 L480.57 329.41 L480.64 328.97 L480.71 328.52 L480.76 328.09 L480.81 327.66 L480.84 327.23 L480.87 326.81 L480.88 326.40 L480.89 325.99 L480.88 325.59 L480.87 325.19 L480.84 324.80 L480.81 324.42 L480.77 324.05 L480.71 323.68 L480.65 323.32 L480.58 322.96 L480.50 322.62 L480.40 322.27 L480.30 321.94 L480.19 321.62 L480.07 321.30 L479.94 320.99 L479.80 320.69 L479.65 320.39 L479.49 320.10 L479.32 319.82 L479.14 319.55 L478.96 319.29 L478.76 319.04 L478.56 318.79 L478.34 318.55 L478.12 318.32 L477.89 318.10 L477.65 317.89 L477.40 317.69 L477.14 317.49 L476.87 317.31 L476.59 317.13 L476.31 316.96 L476.02 316.80 L475.71 316.65 L475.40 316.51 L475.09 316.38 L474.76 316.25 L474.43 316.14 L474.09 316.04 L473.74 315.94 L473.38 315.85 L473.02 315.78 L472.64 315.71 L472.26 315.65 L471.88 315.60 L471.49 315.56 L471.08 315.53 L470.68 315.51 L470.26 315.50 L469.84 315.50 L469.42 315.51 L468.98 315.52 L468.54 315.55 L468.10 315.59 L467.65 315.63 L467.19 315.68 L466.73 315.75 L466.26 315.82 L465.79 315.90 L465.31 315.99 L464.82 316.10 L464.34 316.21 L463.84 316.32 L463.34 316.45 L463.23 316.48 L463.24 316.60 L463.26 317.01 L463.27 317.43 L463.28 317.86 L463.27 318.29 L463.25 318.73 L463.23 319.17 L463.19 319.62 L463.15 320.07 L463.10 320.53 L463.03 320.99 L462.96 321.46 L462.88 321.93 L462.79 322.41 L462.69 322.89 L462.58 323.37 L462.47 323.86 L462.34 324.35 L462.20 324.85 L462.06 325.34 L461.91 325.85 L461.74 326.35 L461.57 326.86 L461.39 327.37 L461.20 327.88 L461.01 328.40 L460.80 328.91 L460.59 329.43 L460.36 329.95 L460.13 330.48 L459.89 331.00 L459.64 331.53 L459.39 332.06 L459.12 332.59 L458.85 333.11 L458.57 333.65 L458.28 334.18 L457.99 334.71 L457.68 335.24 L457.37 335.77 L457.05 336.31 L456.73 336.84 L456.40 337.37 L456.05 337.90 L455.71 338.43 L455.35 338.96 L454.99 339.49 L454.62 340.02 L454.25 340.55 L453.87 341.07 L453.66 341.35 L453.86 341.81 L454.09 342.33 L454.30 342.85 L454.51 343.36 L454.70 343.88 L454.89 344.39 L455.07 344.90 L455.24 345.41 L455.41 345.91 L455.56 346.42 L455.70 346.91 L455.84 347.41 L455.97 347.90 L456.08 348.39 L456.19 348.87 L456.29 349.35 L456.38 349.83 L456.46 350.30 L456.53 350.77 L456.60 351.23 L456.65 351.69 L456.69 352.14 L456.73 352.59 L456.75 353.03 L456.77 353.47 L456.78 353.90 L456.77 354.33 L456.76 354.75 L456.74 355.16 L456.71 355.57 L456.67 355.98 L456.62 356.38 L456.56 356.77 L456.50 357.15 L456.42 357.53 L456.33 357.90 L456.24 358.27 L456.13 358.63 L456.02 358.98 L455.90 359.32 L455.77 359.66 L455.63 359.99 L455.48 360.31 L455.32 360.63 L455.15 360.94 L454.98 361.24 L454.79 361.53 L454.60 361.81 L454.40 362.09 L454.19 362.36 L453.97 362.62 L453.74 362.87 L453.50 363.12 L453.26 363.35 L453.01 363.58 L452.75 363.80 L452.48 364.01 L452.20 364.21 L451.92 364.40 L451.63 364.59 L451.33 364.77 L451.02 364.93 L450.70 365.09 L450.38 365.24 L450.05 365.38 L449.71 365.51 L449.37 365.63 L449.02 365.75 L448.66 365.85 L448.29 365.95 L447.92 366.03 L447.54 366.11 L447.16 366.18 L446.77 366.24 L446.37 366.29 L445.97 366.33 L445.56 366.36 L445.14 366.38 L444.72 366.39 L444.29 366.39 L443.86 366.39 L443.42 366.37 L442.98 366.35 L442.53 366.31 L442.48 366.31 L442.49 366.69 L442.48 367.09 L442.47 367.49 L442.44 367.88 L442.41 368.26 L442.37 368.63 L442.31 369.00 L442.25 369.36 L442.18 369.72 L442.10 370.06 L442.00 370.41 L441.90 370.74 L441.79 371.06 L441.67 371.38 L441.54 371.69 L441.40 371.99 L441.25 372.29 L441.09 372.58 L440.92 372.86 L440.74 373.13 L440.56 373.39 L440.36 373.64 L440.16 373.89 L439.94 374.13 L439.89 374.19 L440.33 373.99 L440.88 373.75ZM419.75 374.79 L420.00 374.99 L420.26 375.19 L420.53 375.37 L420.81 375.55 L421.09 375.72 L421.38 375.88 L421.69 376.03 L422.00 376.17 L422.31 376.30 L422.64 376.43 L422.97 376.54 L423.31 376.64 L423.66 376.74 L424.02 376.83 L424.38 376.90 L424.76 376.97 L425.14 377.03 L425.52 377.08 L425.91 377.12 L426.32 377.15 L426.72 377.17 L427.14 377.18 L427.56 377.18 L427.98 377.17 L428.42 377.16 L428.86 377.13 L429.30 377.09 L429.50 377.07 L429.25 377.05 L428.79 377.00 L428.33 376.93 L427.86 376.86 L427.39 376.78 L426.91 376.69 L426.42 376.58 L425.94 376.47 L425.44 376.36 L424.94 376.23 L424.44 376.09 L423.94 375.94 L423.42 375.79 L422.91 375.62 L422.39 375.45 L421.87 375.27 L421.34 375.08 L420.81 374.88 L420.28 374.67 L419.75 374.45 L419.21 374.23 L419.11 374.19 L419.28 374.36 L419.51 374.58Z" fill="#e88078" stroke="#e88078" stroke-width="0.3"/>
<path d="M414.19 325.82 L413.63 325.42 L413.07 325.03 L412.51 324.64 L411.95 324.26 L411.39 323.89 L410.83 323.52 L410.26 323.17 L409.70 322.81 L409.14 322.47 L408.58 322.13 L408.02 321.80 L407.46 321.48 L406.90 321.17 L406.34 320.86 L405.78 320.56 L405.23 320.27 L404.68 319.98 L404.12 319.71 L403.57 319.44 L403.02 319.18 L402.48 318.93 L401.93 318.69 L401.39 318.45 L400.85 318.23 L400.32 318.01 L399.79 317.80 L399.26 317.60 L398.73 317.41 L398.21 317.23 L397.69 317.06 L397.18 316.89 L396.66 316.74 L396.16 316.59 L395.77 316.48 L395.76 316.60 L395.74 317.01 L395.73 317.43 L395.72 317.86 L395.73 318.29 L395.75 318.73 L395.77 319.17 L395.81 319.62 L395.85 320.07 L395.90 320.53 L395.97 320.99 L396.04 321.46 L396.12 321.93 L396.21 322.41 L396.31 322.89 L396.42 323.37 L396.53 323.86 L396.66 324.35 L396.80 324.85 L396.94 325.34 L397.09 325.85 L397.26 326.35 L397.43 326.86 L397.61 327.37 L397.80 327.88 L397.99 328.40 L398.20 328.91 L398.41 329.43 L398.64 329.95 L398.87 330.48 L399.11 331.00 L399.36 331.53 L399.61 332.06 L399.88 332.59 L400.15 333.11 L400.43 333.65 L400.72 334.18 L401.01 334.71 L401.32 335.24 L401.63 335.77 L401.95 336.31 L402.27 336.84 L402.60 337.37 L402.95 337.90 L403.29 338.43 L403.65 338.96 L404.01 339.49 L404.38 340.02 L404.75 340.55 L405.13 341.07 L405.34 341.35 L405.37 341.28 L405.61 340.76 L405.86 340.23 L406.11 339.70 L406.38 339.17 L406.65 338.65 L406.93 338.11 L407.22 337.58 L407.51 337.05 L407.82 336.52 L408.13 335.99 L408.45 335.45 L408.77 334.92 L409.10 334.39 L409.45 333.86 L409.79 333.33 L410.15 332.80 L410.51 332.27 L410.88 331.74 L411.25 331.21 L411.63 330.69 L412.02 330.16 L412.42 329.64 L412.82 329.12 L413.22 328.60 L413.64 328.09 L414.05 327.57 L414.48 327.06 L414.91 326.55 L415.02 326.43 L414.74 326.22Z" fill="#9b917a" stroke="#9b917a" stroke-width="0.3"/>
<path d="M404.91 342.33 L404.70 342.85 L404.49 343.36 L404.30 343.88 L404.11 344.39 L403.93 344.90 L403.76 345.41 L403.59 345.91 L403.44 346.42 L403.30 346.91 L403.16 347.41 L403.03 347.90 L402.92 348.39 L402.81 348.87 L402.71 349.35 L402.62 349.83 L402.54 350.30 L402.47 350.77 L402.40 351.23 L402.35 351.69 L402.31 352.14 L402.27 352.59 L402.25 353.03 L402.23 353.47 L402.22 353.90 L402.23 354.33 L402.24 354.75 L402.26 355.16 L402.29 355.57 L402.33 355.98 L402.38 356.38 L402.44 356.77 L402.50 357.15 L402.58 357.53 L402.67 357.90 L402.76 358.27 L402.87 358.63 L402.98 358.98 L403.10 359.32 L403.23 359.66 L403.37 359.99 L403.52 360.31 L403.68 360.63 L403.85 360.94 L404.02 361.24 L404.21 361.53 L404.40 361.81 L404.60 362.09 L404.81 362.36 L405.03 362.62 L405.26 362.87 L405.50 363.12 L405.74 363.35 L405.99 363.58 L406.25 363.80 L406.52 364.01 L406.80 364.21 L407.08 364.40 L407.37 364.59 L407.67 364.77 L407.98 364.93 L408.30 365.09 L408.62 365.24 L408.95 365.38 L409.29 365.51 L409.63 365.63 L409.98 365.75 L410.34 365.85 L410.71 365.95 L411.08 366.03 L411.46 366.11 L411.84 366.18 L412.23 366.24 L412.63 366.29 L413.03 366.33 L413.44 366.36 L413.86 366.38 L414.28 366.39 L414.71 366.39 L415.14 366.39 L415.58 366.37 L416.02 366.35 L416.47 366.31 L416.52 366.31 L416.52 366.28 L416.53 365.87 L416.56 365.45 L416.59 365.02 L416.64 364.59 L416.69 364.16 L416.76 363.71 L416.83 363.27 L416.92 362.81 L417.01 362.36 L417.11 361.89 L417.22 361.43 L417.35 360.96 L417.48 360.48 L417.62 360.00 L417.77 359.51 L417.93 359.03 L418.10 358.53 L418.28 358.04 L418.47 357.54 L418.66 357.03 L418.87 356.53 L419.09 356.02 L419.26 355.63 L418.98 355.41 L418.47 355.00 L417.95 354.58 L417.44 354.16 L416.93 353.73 L416.43 353.29 L415.93 352.85 L415.43 352.41 L414.93 351.96 L414.44 351.50 L413.95 351.04 L413.46 350.58 L412.98 350.11 L412.50 349.64 L412.03 349.16 L411.56 348.68 L411.09 348.19 L410.63 347.70 L410.18 347.21 L409.73 346.72 L409.28 346.22 L408.84 345.71 L408.41 345.21 L407.98 344.70 L407.55 344.19 L407.14 343.67 L406.72 343.16 L406.32 342.64 L405.92 342.12 L405.52 341.60 L405.34 341.35 L405.14 341.81Z" fill="#4e8e73" stroke="#4e8e73" stroke-width="0.3"/>
<path d="M440.36 373.64 L440.56 373.39 L440.74 373.13 L440.92 372.86 L441.09 372.58 L441.25 372.29 L441.40 371.99 L441.54 371.69 L441.67 371.38 L441.79 371.06 L441.90 370.74 L442.00 370.41 L442.10 370.06 L442.18 369.72 L442.25 369.36 L442.31 369.00 L442.37 368.63 L442.41 368.26 L442.44 367.88 L442.47 367.49 L442.48 367.09 L442.49 366.69 L442.48 366.31 L442.08 366.27 L441.62 366.21 L441.16 366.15 L440.69 366.08 L440.22 366.00 L439.74 365.91 L439.26 365.81 L438.78 365.70 L438.29 365.59 L437.80 365.46 L437.30 365.33 L436.81 365.18 L436.30 365.03 L435.80 364.87 L435.29 364.70 L434.78 364.52 L434.27 364.33 L433.75 364.13 L433.24 363.93 L432.72 363.71 L432.20 363.49 L431.67 363.26 L431.15 363.02 L430.62 362.77 L430.09 362.52 L429.56 362.25 L429.50 362.22 L429.44 362.25 L428.91 362.52 L428.38 362.77 L427.85 363.02 L427.33 363.26 L426.80 363.49 L426.28 363.71 L425.76 363.93 L425.25 364.13 L424.73 364.33 L424.22 364.52 L423.71 364.70 L423.20 364.87 L422.70 365.03 L422.19 365.18 L421.70 365.33 L421.20 365.46 L420.71 365.59 L420.22 365.70 L419.74 365.81 L419.26 365.91 L418.78 366.00 L418.31 366.08 L417.84 366.15 L417.38 366.21 L416.92 366.27 L416.52 366.31 L416.51 366.69 L416.52 367.09 L416.53 367.49 L416.56 367.88 L416.59 368.26 L416.63 368.63 L416.69 369.00 L416.75 369.36 L416.82 369.72 L416.90 370.06 L417.00 370.41 L417.10 370.74 L417.21 371.06 L417.33 371.38 L417.46 371.69 L417.60 371.99 L417.75 372.29 L417.91 372.58 L418.08 372.86 L418.26 373.13 L418.44 373.39 L418.64 373.64 L418.84 373.89 L419.06 374.13 L419.11 374.19 L419.21 374.23 L419.75 374.45 L420.28 374.67 L420.81 374.88 L421.34 375.08 L421.87 375.27 L422.39 375.45 L422.91 375.62 L423.42 375.79 L423.94 375.94 L424.44 376.09 L424.94 376.23 L425.44 376.36 L425.94 376.47 L426.42 376.58 L426.91 376.69 L427.39 376.78 L427.86 376.86 L428.33 376.93 L428.79 377.00 L429.25 377.05 L429.50 377.07 L429.75 377.05 L430.21 377.00 L430.67 376.93 L431.14 376.86 L431.61 376.78 L432.09 376.69 L432.58 376.58 L433.06 376.47 L433.56 376.36 L434.06 376.23 L434.56 376.09 L435.06 375.94 L435.58 375.79 L436.09 375.62 L436.61 375.45 L437.13 375.27 L437.66 375.08 L438.19 374.88 L438.72 374.67 L439.25 374.45 L439.79 374.23 L439.89 374.19 L439.94 374.13 L440.16 373.89Z" fill="#a54e6e" stroke="#a54e6e" stroke-width="0.3"/>
<path d="M443.66 326.05 L443.22 325.54 L442.77 325.04 L442.32 324.55 L441.87 324.06 L441.41 323.57 L440.94 323.08 L440.47 322.60 L440.00 322.12 L439.52 321.65 L439.04 321.18 L438.55 320.72 L438.06 320.26 L437.57 319.80 L437.07 319.35 L436.57 318.91 L436.07 318.47 L435.57 318.03 L435.06 317.60 L434.55 317.18 L434.03 316.76 L433.52 316.35 L433.00 315.94 L432.48 315.54 L431.95 315.15 L431.43 314.76 L430.90 314.38 L430.38 314.00 L429.85 313.64 L429.50 313.40 L429.15 313.64 L428.62 314.00 L428.10 314.38 L427.57 314.76 L427.05 315.15 L426.52 315.54 L426.00 315.94 L425.48 316.35 L424.97 316.76 L424.45 317.18 L423.94 317.60 L423.43 318.03 L422.93 318.47 L422.43 318.91 L421.93 319.35 L421.43 319.80 L420.94 320.26 L420.45 320.72 L419.96 321.18 L419.48 321.65 L419.00 322.12 L418.53 322.60 L418.06 323.08 L417.59 323.57 L417.13 324.06 L416.68 324.55 L416.23 325.04 L415.78 325.54 L415.34 326.05 L415.02 326.43 L415.30 326.63 L415.85 327.05 L416.41 327.47 L416.96 327.90 L417.51 328.34 L418.05 328.78 L418.60 329.22 L419.14 329.67 L419.68 330.13 L420.21 330.59 L420.74 331.05 L421.27 331.52 L421.80 332.00 L422.32 332.48 L422.84 332.96 L423.36 333.45 L423.87 333.94 L424.38 334.43 L424.88 334.93 L425.38 335.43 L425.87 335.94 L426.36 336.45 L426.85 336.96 L427.33 337.47 L427.80 337.99 L428.27 338.51 L428.73 339.03 L429.19 339.55 L429.50 339.91 L429.81 339.55 L430.27 339.03 L430.73 338.51 L431.20 337.99 L431.67 337.47 L432.15 336.96 L432.64 336.45 L433.13 335.94 L433.62 335.43 L434.12 334.93 L434.62 334.43 L435.13 333.94 L435.64 333.45 L436.16 332.96 L436.68 332.48 L437.20 332.00 L437.73 331.52 L438.26 331.05 L438.79 330.59 L439.32 330.13 L439.86 329.67 L440.40 329.22 L440.95 328.78 L441.49 328.34 L442.04 327.90 L442.59 327.47 L443.15 327.05 L443.70 326.63 L443.98 326.43Z" fill="#b4c85f" stroke="#b4c85f" stroke-width="0.3"/>
<path d="M442.98 366.35 L443.42 366.37 L443.86 366.39 L444.29 366.39 L444.72 366.39 L445.14 366.38 L445.56 366.36 L445.97 366.33 L446.37 366.29 L446.77 366.24 L447.16 366.18 L447.54 366.11 L447.92 366.03 L448.29 365.95 L448.66 365.85 L449.02 365.75 L449.37 365.63 L449.71 365.51 L450.05 365.38 L450.38 365.24 L450.70 365.09 L451.02 364.93 L451.33 364.77 L451.63 364.59 L451.92 364.40 L452.20 364.21 L452.48 364.01 L452.75 363.80 L453.01 363.58 L453.26 363.35 L453.50 363.12 L453.74 362.87 L453.97 362.62 L454.19 362.36 L454.40 362.09 L454.60 361.81 L454.79 361.53 L454.98 361.24 L455.15 360.94 L455.32 360.63 L455.48 360.31 L455.63 359.99 L455.77 359.66 L455.90 359.32 L456.02 358.98 L456.13 358.63 L456.24 358.27 L456.33 357.90 L456.42 357.53 L456.50 357.15 L456.56 356.77 L456.62 356.38 L456.67 355.98 L456.71 355.57 L456.74 355.16 L456.76 354.75 L456.77 354.33 L456.78 353.90 L456.77 353.47 L456.75 353.03 L456.73 352.59 L456.69 352.14 L456.65 351.69 L456.60 351.23 L456.53 350.77 L456.46 350.30 L456.38 349.83 L456.29 349.35 L456.19 348.87 L456.08 348.39 L455.97 347.90 L455.84 347.41 L455.70 346.91 L455.56 346.42 L455.41 345.91 L455.24 345.41 L455.07 344.90 L454.89 344.39 L454.70 343.88 L454.51 343.36 L454.30 342.85 L454.09 342.33 L453.86 341.81 L453.66 341.35 L453.48 341.60 L453.08 342.12 L452.68 342.64 L452.28 343.16 L451.86 343.67 L451.45 344.19 L451.02 344.70 L450.59 345.21 L450.16 345.71 L449.72 346.22 L449.27 346.72 L448.82 347.21 L448.37 347.70 L447.91 348.19 L447.44 348.68 L446.97 349.16 L446.50 349.64 L446.02 350.11 L445.54 350.58 L445.05 351.04 L444.56 351.50 L444.07 351.96 L443.57 352.41 L443.07 352.85 L442.57 353.29 L442.07 353.73 L441.56 354.16 L441.05 354.58 L440.53 355.00 L440.02 355.41 L439.74 355.63 L439.91 356.02 L440.13 356.53 L440.34 357.03 L440.53 357.54 L440.72 358.04 L440.90 358.53 L441.07 359.03 L441.23 359.51 L441.38 360.00 L441.52 360.48 L441.65 360.96 L441.78 361.43 L441.89 361.89 L441.99 362.36 L442.08 362.81 L442.17 363.27 L442.24 363.71 L442.31 364.16 L442.36 364.59 L442.41 365.02 L442.44 365.45 L442.47 365.87 L442.48 366.28 L442.48 366.31 L442.53 366.31Z" fill="#e88044" stroke="#e88044" stroke-width="0.3"/>
<path d="M453.87 341.07 L454.25 340.55 L454.62 340.02 L454.99 339.49 L455.35 338.96 L455.71 338.43 L456.05 337.90 L456.40 337.37 L456.73 336.84 L457.05 336.31 L457.37 335.77 L457.68 335.24 L457.99 334.71 L458.28 334.18 L458.57 333.65 L458.85 333.11 L459.12 332.59 L459.39 332.06 L459.64 331.53 L459.89 331.00 L460.13 330.48 L460.36 329.95 L460.59 329.43 L460.80 328.91 L461.01 328.40 L461.20 327.88 L461.39 327.37 L461.57 326.86 L461.74 326.35 L461.91 325.85 L462.06 325.34 L462.20 324.85 L462.34 324.35 L462.47 323.86 L462.58 323.37 L462.69 322.89 L462.79 322.41 L462.88 321.93 L462.96 321.46 L463.03 320.99 L463.10 320.53 L463.15 320.07 L463.19 319.62 L463.23 319.17 L463.25 318.73 L463.27 318.29 L463.28 317.86 L463.27 317.43 L463.26 317.01 L463.24 316.60 L463.23 316.48 L462.84 316.59 L462.34 316.74 L461.82 316.89 L461.31 317.06 L460.79 317.23 L460.27 317.41 L459.74 317.60 L459.21 317.80 L458.68 318.01 L458.15 318.23 L457.61 318.45 L457.07 318.69 L456.52 318.93 L455.98 319.18 L455.43 319.44 L454.88 319.71 L454.32 319.98 L453.77 320.27 L453.22 320.56 L452.66 320.86 L452.10 321.17 L451.54 321.48 L450.98 321.80 L450.42 322.13 L449.86 322.47 L449.30 322.81 L448.74 323.17 L448.17 323.52 L447.61 323.89 L447.05 324.26 L446.49 324.64 L445.93 325.03 L445.37 325.42 L444.81 325.82 L444.26 326.22 L443.98 326.43 L444.09 326.55 L444.52 327.06 L444.95 327.57 L445.36 328.09 L445.78 328.60 L446.18 329.12 L446.58 329.64 L446.98 330.16 L447.37 330.69 L447.75 331.21 L448.12 331.74 L448.49 332.27 L448.85 332.80 L449.21 333.33 L449.55 333.86 L449.90 334.39 L450.23 334.92 L450.55 335.45 L450.87 335.99 L451.18 336.52 L451.49 337.05 L451.78 337.58 L452.07 338.11 L452.35 338.65 L452.62 339.17 L452.89 339.70 L453.14 340.23 L453.39 340.76 L453.63 341.28 L453.66 341.35Z" fill="#aa8264" stroke="#aa8264" stroke-width="0.3"/>
<path d="M429.19 339.55 L428.73 339.03 L428.27 338.51 L427.80 337.99 L427.33 337.47 L426.85 336.96 L426.36 336.45 L425.87 335.94 L425.38 335.43 L424.88 334.93 L424.38 334.43 L423.87 333.94 L423.36 333.45 L422.84 332.96 L422.32 332.48 L421.80 332.00 L421.27 331.52 L420.74 331.05 L420.21 330.59 L419.68 330.13 L419.14 329.67 L418.60 329.22 L418.05 328.78 L417.51 328.34 L416.96 327.90 L416.41 327.47 L415.85 327.05 L415.30 326.63 L415.02 326.43 L414.91 326.55 L414.48 327.06 L414.05 327.57 L413.64 328.09 L413.22 328.60 L412.82 329.12 L412.42 329.64 L412.02 330.16 L411.63 330.69 L411.25 331.21 L410.88 331.74 L410.51 332.27 L410.15 332.80 L409.79 333.33 L409.45 333.86 L409.10 334.39 L408.77 334.92 L408.45 335.45 L408.13 335.99 L407.82 336.52 L407.51 337.05 L407.22 337.58 L406.93 338.11 L406.65 338.65 L406.38 339.17 L406.11 339.70 L405.86 340.23 L405.61 340.76 L405.37 341.28 L405.34 341.35 L405.52 341.60 L405.92 342.12 L406.32 342.64 L406.72 343.16 L407.14 343.67 L407.55 344.19 L407.98 344.70 L408.41 345.21 L408.84 345.71 L409.28 346.22 L409.73 346.72 L410.18 347.21 L410.63 347.70 L411.09 348.19 L411.56 348.68 L412.03 349.16 L412.50 349.64 L412.98 350.11 L413.46 350.58 L413.95 351.04 L414.44 351.50 L414.93 351.96 L415.43 352.41 L415.93 352.85 L416.43 353.29 L416.93 353.73 L417.44 354.16 L417.95 354.58 L418.47 355.00 L418.98 355.41 L419.26 355.63 L419.31 355.51 L419.54 354.99 L419.79 354.47 L420.04 353.95 L420.30 353.43 L420.57 352.90 L420.84 352.38 L421.13 351.85 L421.42 351.32 L421.73 350.79 L422.04 350.25 L422.35 349.72 L422.68 349.18 L423.02 348.65 L423.36 348.11 L423.71 347.57 L424.07 347.03 L424.43 346.50 L424.80 345.96 L425.18 345.42 L425.57 344.88 L425.97 344.34 L426.37 343.81 L426.78 343.27 L427.19 342.74 L427.61 342.20 L428.04 341.67 L428.47 341.14 L428.91 340.61 L429.36 340.08 L429.50 339.91Z" fill="#5f8050" stroke="#5f8050" stroke-width="0.3"/>
<path d="M442.44 365.45 L442.41 365.02 L442.36 364.59 L442.31 364.16 L442.24 363.71 L442.17 363.27 L442.08 362.81 L441.99 362.36 L441.89 361.89 L441.78 361.43 L441.65 360.96 L441.52 360.48 L441.38 360.00 L441.23 359.51 L441.07 359.03 L440.90 358.53 L440.72 358.04 L440.53 357.54 L440.34 357.03 L440.13 356.53 L439.91 356.02 L439.74 355.63 L439.50 355.82 L438.98 356.22 L438.45 356.61 L437.93 357.00 L437.40 357.38 L436.88 357.76 L436.35 358.12 L435.82 358.48 L435.29 358.84 L434.76 359.19 L434.22 359.53 L433.69 359.86 L433.16 360.18 L432.63 360.50 L432.09 360.81 L431.56 361.12 L431.03 361.41 L430.50 361.70 L429.97 361.98 L429.50 362.22 L429.56 362.25 L430.09 362.52 L430.62 362.77 L431.15 363.02 L431.67 363.26 L432.20 363.49 L432.72 363.71 L433.24 363.93 L433.75 364.13 L434.27 364.33 L434.78 364.52 L435.29 364.70 L435.80 364.87 L436.30 365.03 L436.81 365.18 L437.30 365.33 L437.80 365.46 L438.29 365.59 L438.78 365.70 L439.26 365.81 L439.74 365.91 L440.22 366.00 L440.69 366.08 L441.16 366.15 L441.62 366.21 L442.08 366.27 L442.48 366.31 L442.48 366.28 L442.47 365.87Z" fill="#915c50" stroke="#915c50" stroke-width="0.3"/>
<path d="M419.09 356.02 L418.87 356.53 L418.66 357.03 L418.47 357.54 L418.28 358.04 L418.10 358.53 L417.93 359.03 L417.77 359.51 L417.62 360.00 L417.48 360.48 L417.35 360.96 L417.22 361.43 L417.11 361.89 L417.01 362.36 L416.92 362.81 L416.83 363.27 L416.76 363.71 L416.69 364.16 L416.64 364.59 L416.59 365.02 L416.56 365.45 L416.53 365.87 L416.52 366.28 L416.52 366.31 L416.92 366.27 L417.38 366.21 L417.84 366.15 L418.31 366.08 L418.78 366.00 L419.26 365.91 L419.74 365.81 L420.22 365.70 L420.71 365.59 L421.20 365.46 L421.70 365.33 L422.19 365.18 L422.70 365.03 L423.20 364.87 L423.71 364.70 L424.22 364.52 L424.73 364.33 L425.25 364.13 L425.76 363.93 L426.28 363.71 L426.80 363.49 L427.33 363.26 L427.85 363.02 L428.38 362.77 L428.91 362.52 L429.44 362.25 L429.50 362.22 L429.03 361.98 L428.50 361.70 L427.97 361.41 L427.44 361.12 L426.91 360.81 L426.37 360.50 L425.84 360.18 L425.31 359.86 L424.78 359.53 L424.24 359.19 L423.71 358.84 L423.18 358.48 L422.65 358.12 L422.12 357.76 L421.60 357.38 L421.07 357.00 L420.55 356.61 L420.02 356.22 L419.50 355.82 L419.26 355.63Z" fill="#785258" stroke="#785258" stroke-width="0.3"/>
<path d="M440.02 355.41 L440.53 355.00 L441.05 354.58 L441.56 354.16 L442.07 353.73 L442.57 353.29 L443.07 352.85 L443.57 352.41 L444.07 351.96 L444.56 351.50 L445.05 351.04 L445.54 350.58 L446.02 350.11 L446.50 349.64 L446.97 349.16 L447.44 348.68 L447.91 348.19 L448.37 347.70 L448.82 347.21 L449.27 346.72 L449.72 346.22 L450.16 345.71 L450.59 345.21 L451.02 344.70 L451.45 344.19 L451.86 343.67 L452.28 343.16 L452.68 342.64 L453.08 342.12 L453.48 341.60 L453.66 341.35 L453.63 341.28 L453.39 340.76 L453.14 340.23 L452.89 339.70 L452.62 339.17 L452.35 338.65 L452.07 338.11 L451.78 337.58 L451.49 337.05 L451.18 336.52 L450.87 335.99 L450.55 335.45 L450.23 334.92 L449.90 334.39 L449.55 333.86 L449.21 333.33 L448.85 332.80 L448.49 332.27 L448.12 331.74 L447.75 331.21 L447.37 330.69 L446.98 330.16 L446.58 329.64 L446.18 329.12 L445.78 328.60 L445.36 328.09 L444.95 327.57 L444.52 327.06 L444.09 326.55 L443.98 326.43 L443.70 326.63 L443.15 327.05 L442.59 327.47 L442.04 327.90 L441.49 328.34 L440.95 328.78 L440.40 329.22 L439.86 329.67 L439.32 330.13 L438.79 330.59 L438.26 331.05 L437.73 331.52 L437.20 332.00 L436.68 332.48 L436.16 332.96 L435.64 333.45 L435.13 333.94 L434.62 334.43 L434.12 334.93 L433.62 335.43 L433.13 335.94 L432.64 336.45 L432.15 336.96 L431.67 337.47 L431.20 337.99 L430.73 338.51 L430.27 339.03 L429.81 339.55 L429.50 339.91 L429.64 340.08 L430.09 340.61 L430.53 341.14 L430.96 341.67 L431.39 342.20 L431.81 342.74 L432.22 343.27 L432.63 343.81 L433.03 344.34 L433.43 344.88 L433.82 345.42 L434.20 345.96 L434.57 346.50 L434.93 347.03 L435.29 347.57 L435.64 348.11 L435.98 348.65 L436.32 349.18 L436.65 349.72 L436.96 350.25 L437.27 350.79 L437.58 351.32 L437.87 351.85 L438.16 352.38 L438.43 352.90 L438.70 353.43 L438.96 353.95 L439.21 354.47 L439.46 354.99 L439.69 355.51 L439.74 355.63Z" fill="#a57041" stroke="#a57041" stroke-width="0.3"/>
<path d="M439.46 354.99 L439.21 354.47 L438.96 353.95 L438.70 353.43 L438.43 352.90 L438.16 352.38 L437.87 351.85 L437.58 351.32 L437.27 350.79 L436.96 350.25 L436.65 349.72 L436.32 349.18 L435.98 348.65 L435.64 348.11 L435.29 347.57 L434.93 347.03 L434.57 346.50 L434.20 345.96 L433.82 345.42 L433.43 344.88 L433.03 344.34 L432.63 343.81 L432.22 343.27 L431.81 342.74 L431.39 342.20 L430.96 341.67 L430.53 341.14 L430.09 340.61 L429.64 340.08 L429.50 339.91 L429.36 340.08 L428.91 340.61 L428.47 341.14 L428.04 341.67 L427.61 342.20 L427.19 342.74 L426.78 343.27 L426.37 343.81 L425.97 344.34 L425.57 344.88 L425.18 345.42 L424.80 345.96 L424.43 346.50 L424.07 347.03 L423.71 347.57 L423.36 348.11 L423.02 348.65 L422.68 349.18 L422.35 349.72 L422.04 350.25 L421.73 350.79 L421.42 351.32 L421.13 351.85 L420.84 352.38 L420.57 352.90 L420.30 353.43 L420.04 353.95 L419.79 354.47 L419.54 354.99 L419.31 355.51 L419.26 355.63 L419.50 355.82 L420.02 356.22 L420.55 356.61 L421.07 357.00 L421.60 357.38 L422.12 357.76 L422.65 358.12 L423.18 358.48 L423.71 358.84 L424.24 359.19 L424.78 359.53 L425.31 359.86 L425.84 360.18 L426.37 360.50 L426.91 360.81 L427.44 361.12 L427.97 361.41 L428.50 361.70 L429.03 361.98 L429.50 362.22 L429.97 361.98 L430.50 361.70 L431.03 361.41 L431.56 361.12 L432.09 360.81 L432.63 360.50 L433.16 360.18 L433.69 359.86 L434.22 359.53 L434.76 359.19 L435.29 358.84 L435.82 358.48 L436.35 358.12 L436.88 357.76 L437.40 357.38 L437.93 357.00 L438.45 356.61 L438.98 356.22 L439.50 355.82 L439.74 355.63 L439.69 355.51Z" fill="#705546" stroke="#705546" stroke-width="0.3"/>
<ellipse cx="410.30" cy="346.34" rx="40.63" ry="18.34" transform="rotate(43.15 410.30 346.34)" fill="none" stroke="#1e1410" stroke-width="0.9"/>
<ellipse cx="426.25" cy="335.88" rx="38.53" ry="19.45" transform="rotate(44.98 426.25 335.88)" fill="none" stroke="#1e1410" stroke-width="0.9"/>
<ellipse cx="432.75" cy="335.88" rx="38.53" ry="19.45" transform="rotate(-44.98 432.75 335.88)" fill="none" stroke="#1e1410" stroke-width="0.9"/>
<ellipse cx="448.70" cy="346.34" rx="40.63" ry="18.34" transform="rotate(-43.15 448.70 346.34)" fill="none" stroke="#1e1410" stroke-width="0.9"/>
<text x="411.5" y="314.75" font-size="6.6" text-anchor="middle" fill="#4a3a20" stroke="#4a3a20" stroke-width="0.22" >173</text>
<text x="445" y="314.75" font-size="6.6" text-anchor="middle" fill="#2a5a2a" stroke="#2a5a2a" stroke-width="0.22" >255</text>
<text x="402.3" y="327.45000000000005" font-size="6.6" text-anchor="middle" fill="#f0f0f0" stroke="#f0f0f0" stroke-width="0.22" >19</text>
<text x="428.8" y="326.55" font-size="6.6" text-anchor="middle" fill="#4a5a10" stroke="#4a5a10" stroke-width="0.22" >14</text>
<text x="454.9" y="327.45000000000005" font-size="6.6" text-anchor="middle" fill="#f0f0f0" stroke="#f0f0f0" stroke-width="0.22" >26</text>
<text x="391.9" y="338.55" font-size="6.6" text-anchor="middle" fill="#f0f0f0" stroke="#f0f0f0" stroke-width="0.22" >565</text>
<text x="413.8" y="340.85" font-size="6.6" text-anchor="middle" fill="#f0f0f0" stroke="#f0f0f0" stroke-width="0.22" >3</text>
<text x="442.7" y="340.85" font-size="6.6" text-anchor="middle" fill="#f0f0f0" stroke="#f0f0f0" stroke-width="0.22" >38</text>
<text x="464.6" y="338.55" font-size="6.6" text-anchor="middle" fill="#f0f0f0" stroke="#f0f0f0" stroke-width="0.22" >93</text>
<text x="406.9" y="356.95000000000005" font-size="6.6" text-anchor="middle" fill="#f0f0f0" stroke="#f0f0f0" stroke-width="0.22" >20</text>
<text x="428.8" y="354.25" font-size="6.6" text-anchor="middle" fill="#f0f0f0" stroke="#f0f0f0" stroke-width="0.22" >13</text>
<text x="449.6" y="357.45000000000005" font-size="6.6" text-anchor="middle" fill="#f0f0f0" stroke="#f0f0f0" stroke-width="0.22" >62</text>
<text x="420.8" y="365.75" font-size="6.6" text-anchor="middle" fill="#f0f0f0" stroke="#f0f0f0" stroke-width="0.22" >1</text>
<text x="436.9" y="365.05" font-size="6.6" text-anchor="middle" fill="#f0f0f0" stroke="#f0f0f0" stroke-width="0.22" >2</text>
<text x="428.8" y="373.15000000000003" font-size="6.6" text-anchor="middle" fill="#f0f0f0" stroke="#f0f0f0" stroke-width="0.22" >0</text>
<text x="405.2" y="298.7" font-size="6.3" text-anchor="middle" fill="#f2cc6e" stroke="#f2cc6e" stroke-width="0.1" >K1_Spl</text>
<text x="451.3" y="298.7" font-size="6.3" text-anchor="middle" fill="#78c070" stroke="#78c070" stroke-width="0.1" >K2_BM</text>
<text x="389.6" y="379.4" font-size="6.3" text-anchor="middle" fill="#3c68b0" stroke="#3c68b0" stroke-width="0.1" >K1_BM</text>
<text x="466" y="379.4" font-size="6.3" text-anchor="middle" fill="#c8446a" stroke="#c8446a" stroke-width="0.1" >K2_Spl</text>
<path d="M429.3 356 V385" stroke="#111" stroke-width="0.8"/><path d="M427.6 384 L429.3 388 L431 384Z" fill="#111"/>
<text x="375.8" y="397.0" font-size="8.1" text-anchor="start" fill="#222" stroke="#222" stroke-width="0.13" textLength="115.7" lengthAdjust="spacingAndGlyphs"><tspan fill="#c41e4a" stroke="#c41e4a">Cish</tspan>; Klrb1b; Gzmk; Hspa1a; Slpi;</text>
<text x="377.1" y="406.8" font-size="8.1" text-anchor="start" fill="#222" stroke="#222" stroke-width="0.13" textLength="106.4" lengthAdjust="spacingAndGlyphs">Cdk5rap1; S100a8; Hspa1b...</text>
<text x="39.9" y="479.6" font-size="8.3" text-anchor="start" fill="#222" stroke="#222" stroke-width="0.13" textLength="44.9" lengthAdjust="spacingAndGlyphs">Immature NK</text>
<text x="62.7" y="492.9" font-size="6.8" text-anchor="middle" fill="#222" stroke="#222" stroke-width="0.13" >Cish</text>
<path d="M39.7 500.5 V570.3 H85.4" fill="none" stroke="#222" stroke-width="0.9"/>
<path d="M39.7 502.3 h-2.4 M39.7 519.5 h-2.4 M39.7 536.5 h-2.4 M39.7 553.4 h-2.4 M39.7 570.3 h-2.4 " stroke="#222" stroke-width="0.9"/>
<text x="35.5" y="504.40000000000003" font-size="6" text-anchor="end" fill="#222" stroke="#222" stroke-width="0.13" >4</text>
<text x="35.5" y="521.6" font-size="6" text-anchor="end" fill="#222" stroke="#222" stroke-width="0.13" >3</text>
<text x="35.5" y="538.6" font-size="6" text-anchor="end" fill="#222" stroke="#222" stroke-width="0.13" >2</text>
<text x="35.5" y="555.5" font-size="6" text-anchor="end" fill="#222" stroke="#222" stroke-width="0.13" >1</text>
<text x="35.5" y="572.4" font-size="6" text-anchor="end" fill="#222" stroke="#222" stroke-width="0.13" >0</text>
<text x="0" y="0" font-size="7.0" text-anchor="middle" fill="#222" stroke="#222" stroke-width="0.25" transform="translate(25.0,534.9) rotate(-90)" textLength="80" lengthAdjust="spacingAndGlyphs">Normalized expression (2-ddC)</text>
<path d="M52.3 570.3 v2.4 M71.5 570.3 v2.4" stroke="#222" stroke-width="0.9"/>
<path d="M52.3 506.3 V502.3 H71.5 V506.3" fill="none" stroke="#222" stroke-width="0.8"/>
<text x="62.3" y="501.5" font-size="6" text-anchor="middle" fill="#222" stroke="#222" stroke-width="0.13" >*</text>
<rect x="46.6" y="553.8" width="11.9" height="9.8" fill="#0f4b8e" stroke="#0a2f60" stroke-width="0.5"/>
<path d="M46.6 556.5 H58.5" stroke="#0a2a50" stroke-width="0.7"/>
<path d="M48.2 553.2h0M52.6 552.6h0M56.2 553.2h0M52.3 565.2h0M52 558.5h0" stroke="#0a2a50" stroke-width="1.8" stroke-linecap="round"/>
<rect x="65.4" y="511" width="12.3" height="39.5" fill="#d0041c" stroke="#8a0018" stroke-width="0.5"/>
<path d="M65.4 515.4 H77.7" stroke="#6a0010" stroke-width="0.8"/>
<path d="M71.5 510.5h0M71.5 551.5h0M71.5 515.4h0" stroke="#4a0010" stroke-width="1.8" stroke-linecap="round"/>
<text x="0" y="0" font-size="6" text-anchor="end" fill="#222" stroke="#222" stroke-width="0.13" transform="translate(53.2,578.0) rotate(-45)">Control</text>
<text x="0" y="0" font-size="6" text-anchor="end" fill="#222" stroke="#222" stroke-width="0.13" transform="translate(72.2,578.0) rotate(-45)">CML-exposed</text>
<text x="123.2" y="479.6" font-size="8.3" text-anchor="start" fill="#222" stroke="#222" stroke-width="0.13" textLength="42.8" lengthAdjust="spacingAndGlyphs">M1+M2 NK</text>
<text x="144.6" y="495.5" font-size="6.8" text-anchor="middle" fill="#222" stroke="#222" stroke-width="0.13" >Cish</text>
<path d="M121.7 500.5 V570.3 H167.0" fill="none" stroke="#222" stroke-width="0.9"/>
<path d="M121.7 502.4 h-2.4 M121.7 525.1 h-2.4 M121.7 547.8 h-2.4 M121.7 570.3 h-2.4 " stroke="#222" stroke-width="0.9"/>
<text x="117.5" y="504.5" font-size="6" text-anchor="end" fill="#222" stroke="#222" stroke-width="0.13" >6</text>
<text x="117.5" y="527.2" font-size="6" text-anchor="end" fill="#222" stroke="#222" stroke-width="0.13" >4</text>
<text x="117.5" y="549.9" font-size="6" text-anchor="end" fill="#222" stroke="#222" stroke-width="0.13" >2</text>
<text x="117.5" y="572.4" font-size="6" text-anchor="end" fill="#222" stroke="#222" stroke-width="0.13" >0</text>
<text x="0" y="0" font-size="7.0" text-anchor="middle" fill="#222" stroke="#222" stroke-width="0.25" transform="translate(107.0,534.9) rotate(-90)" textLength="80" lengthAdjust="spacingAndGlyphs">Normalized expression (2-ddC)</text>
<path d="M134.6 570.3 v2.4 M153.7 570.3 v2.4" stroke="#222" stroke-width="0.9"/>
<path d="M134.6 509.3 V505.3 H154.4 V509.3" fill="none" stroke="#222" stroke-width="0.8"/>
<text x="144.5" y="504.3" font-size="6" text-anchor="middle" fill="#222" stroke="#222" stroke-width="0.13" >*</text>
<rect x="128" y="557.7" width="12.5" height="10.7" fill="#0f4b8e" stroke="#0a2f60" stroke-width="0.5"/>
<path d="M128 559.4 H140.5" stroke="#0a2a50" stroke-width="0.8"/>
<path d="M130 557.5h0M134.6 558h0M138 558h0M134.6 569h0" stroke="#0a2a50" stroke-width="1.8" stroke-linecap="round"/>
<rect x="148" y="514" width="11.7" height="34.2" fill="#d0041c" stroke="#8a0018" stroke-width="0.5"/>
<path d="M148 539.2 H159.7" stroke="#6a0010" stroke-width="0.8"/>
<path d="M153.8 513.3h0M153.8 549.9h0" stroke="#4a0010" stroke-width="1.8" stroke-linecap="round"/>
<text x="0" y="0" font-size="6" text-anchor="end" fill="#222" stroke="#222" stroke-width="0.13" transform="translate(135.5,578.0) rotate(-45)">Control</text>
<text x="0" y="0" font-size="6" text-anchor="end" fill="#222" stroke="#222" stroke-width="0.13" transform="translate(154.4,578.0) rotate(-45)">CML-exposed</text>
<text x="201.4" y="479.7" font-size="8.4" text-anchor="start" fill="#222" stroke="#222" stroke-width="0.13" textLength="83.2" lengthAdjust="spacingAndGlyphs">Degranulation signature</text>
<path d="M219.9 500.5 V570.1 H264.7" fill="none" stroke="#222" stroke-width="0.9"/>
<path d="M219.9 502.8 h-2.6 M219.9 519.6 h-2.6 M219.9 536.4 h-2.6 M219.9 553.3 h-2.6 M219.9 570.1 h-2.6 " stroke="#222" stroke-width="0.9"/>
<text x="215.3" y="504.90000000000003" font-size="6" text-anchor="end" fill="#222" stroke="#222" stroke-width="0.13" >2.0</text>
<text x="215.3" y="521.7" font-size="6" text-anchor="end" fill="#222" stroke="#222" stroke-width="0.13" >1.5</text>
<text x="215.3" y="538.5" font-size="6" text-anchor="end" fill="#222" stroke="#222" stroke-width="0.13" >1.0</text>
<text x="215.3" y="555.4" font-size="6" text-anchor="end" fill="#222" stroke="#222" stroke-width="0.13" >0.5</text>
<text x="215.3" y="572.2" font-size="6" text-anchor="end" fill="#222" stroke="#222" stroke-width="0.13" >0.0</text>
<text x="0" y="0" font-size="7.0" text-anchor="middle" fill="#222" stroke="#222" stroke-width="0.25" transform="translate(201.0,536.3) rotate(-90)" textLength="33.5" lengthAdjust="spacingAndGlyphs">Module score</text>
<path d="M232.8 570.1 v2.4 M252.2 570.1 v2.4" stroke="#222" stroke-width="0.9"/>
<path d="M231.9 511.2 V507.7 H252 V511.2" fill="none" stroke="#222" stroke-width="0.8"/>
<text x="242.3" y="507.0" font-size="5.5" text-anchor="middle" fill="#222" stroke="#222" stroke-width="0.13" >****</text>
<path d="M233.40 523.00 L233.41 523.72 L233.42 524.43 L233.43 525.15 L233.44 525.87 L233.45 526.58 L233.46 527.30 L233.47 528.02 L233.48 528.73 L233.50 529.45 L233.51 530.17 L233.52 530.88 L233.53 531.60 L233.54 532.32 L233.55 533.03 L233.56 533.75 L233.57 534.47 L233.58 535.18 L233.59 535.90 L233.60 536.62 L233.61 537.33 L233.62 538.05 L233.63 538.77 L233.64 539.48 L233.65 540.20 L233.67 540.92 L233.68 541.63 L233.69 542.35 L233.70 543.07 L233.71 543.78 L233.72 544.50 L233.73 545.22 L233.74 545.93 L233.75 546.65 L233.76 547.37 L233.77 548.08 L233.78 548.80 L233.79 549.52 L233.80 550.23 L233.82 550.95 L233.90 551.67 L234.03 552.38 L234.23 553.10 L234.50 553.82 L234.86 554.53 L235.31 555.25 L235.85 555.97 L236.49 556.68 L237.24 557.40 L238.09 558.12 L239.05 558.83 L239.85 559.55 L239.40 560.27 L238.81 560.98 L238.12 561.70 L237.37 562.42 L236.56 563.13 L235.71 563.85 L234.81 564.57 L233.87 565.28 L232.90 566.00 L232.90 566.00 L231.93 565.28 L230.99 564.57 L230.09 563.85 L229.24 563.13 L228.43 562.42 L227.68 561.70 L226.99 560.98 L226.40 560.27 L225.95 559.55 L226.75 558.83 L227.71 558.12 L228.56 557.40 L229.31 556.68 L229.95 555.97 L230.49 555.25 L230.94 554.53 L231.30 553.82 L231.57 553.10 L231.77 552.38 L231.90 551.67 L231.98 550.95 L232.00 550.23 L232.01 549.52 L232.02 548.80 L232.03 548.08 L232.04 547.37 L232.05 546.65 L232.06 545.93 L232.07 545.22 L232.08 544.50 L232.09 543.78 L232.10 543.07 L232.11 542.35 L232.12 541.63 L232.13 540.92 L232.15 540.20 L232.16 539.48 L232.17 538.77 L232.18 538.05 L232.19 537.33 L232.20 536.62 L232.21 535.90 L232.22 535.18 L232.23 534.47 L232.24 533.75 L232.25 533.03 L232.26 532.32 L232.27 531.60 L232.28 530.88 L232.29 530.17 L232.30 529.45 L232.32 528.73 L232.33 528.02 L232.34 527.30 L232.35 526.58 L232.36 525.87 L232.37 525.15 L232.38 524.43 L232.39 523.72 L232.40 523.00Z" fill="#0f4b8e"/>
<path d="M232.9 520.9h0M233.0 522.0h0M232.5 524.0h0M233.2 519.1h0M232.6 521.1h0M232.9 527.0h0M232.9 525.7h0M232.6 524.1h0M233.3 524.1h0M233.1 523.2h0M232.5 524.4h0M233.0 525.1h0M232.4 521.4h0M232.9 525.9h0" stroke="#0f4b8e" stroke-width="0.8" stroke-linecap="round" opacity="0.55"/>
<path d="M240.3 560.1h0M240.3 560.7h0M225.3 559.6h0M225.8 558.2h0M240.4 558.7h0M240.1 560.5h0M240.1 559.1h0M225.2 559.1h0M225.3 559.9h0M225.5 560.9h0" stroke="#0f4b8e" stroke-width="0.9" stroke-linecap="round" opacity="0.8"/>
<path d="M232.9 565 V567.3" stroke="#0f4b8e" stroke-width="0.9"/>
<path d="M252.90 522.00 L252.93 522.73 L252.95 523.47 L252.98 524.20 L253.00 524.93 L253.03 525.67 L253.05 526.40 L253.08 527.13 L253.10 527.87 L253.13 528.60 L253.16 529.33 L253.18 530.07 L253.21 530.80 L253.23 531.53 L253.26 532.27 L253.28 533.00 L253.31 533.73 L253.33 534.47 L253.36 535.20 L253.38 535.93 L253.41 536.67 L253.44 537.40 L253.46 538.13 L253.49 538.87 L253.51 539.60 L253.54 540.33 L253.56 541.07 L253.59 541.80 L253.61 542.53 L253.64 543.27 L253.67 544.00 L253.69 544.73 L253.70 545.47 L253.72 546.20 L253.75 546.93 L253.82 547.67 L253.91 548.40 L254.04 549.13 L254.20 549.87 L254.40 550.60 L254.64 551.33 L254.92 552.07 L255.25 552.80 L255.62 553.53 L256.04 554.27 L256.51 555.00 L257.03 555.73 L257.61 556.47 L258.23 557.20 L258.50 557.93 L258.16 558.67 L257.74 559.40 L257.25 560.13 L256.73 560.87 L256.16 561.60 L255.56 562.33 L254.94 563.07 L254.29 563.80 L253.61 564.53 L252.92 565.27 L252.20 566.00 L252.20 566.00 L251.48 565.27 L250.79 564.53 L250.11 563.80 L249.46 563.07 L248.84 562.33 L248.24 561.60 L247.67 560.87 L247.15 560.13 L246.66 559.40 L246.24 558.67 L245.90 557.93 L246.17 557.20 L246.79 556.47 L247.37 555.73 L247.89 555.00 L248.36 554.27 L248.78 553.53 L249.15 552.80 L249.48 552.07 L249.76 551.33 L250.00 550.60 L250.20 549.87 L250.36 549.13 L250.49 548.40 L250.58 547.67 L250.65 546.93 L250.68 546.20 L250.70 545.47 L250.71 544.73 L250.73 544.00 L250.76 543.27 L250.79 542.53 L250.81 541.80 L250.84 541.07 L250.86 540.33 L250.89 539.60 L250.91 538.87 L250.94 538.13 L250.96 537.40 L250.99 536.67 L251.02 535.93 L251.04 535.20 L251.07 534.47 L251.09 533.73 L251.12 533.00 L251.14 532.27 L251.17 531.53 L251.19 530.80 L251.22 530.07 L251.24 529.33 L251.27 528.60 L251.30 527.87 L251.32 527.13 L251.35 526.40 L251.37 525.67 L251.40 524.93 L251.42 524.20 L251.45 523.47 L251.47 522.73 L251.50 522.00Z" fill="#d0041c"/>
<path d="M251.8 516.8h0M251.9 518.8h0M252.1 514.8h0M252.5 525.0h0M251.9 523.2h0M252.0 520.4h0M251.8 516.1h0M252.6 516.6h0M252.5 523.9h0M251.9 523.6h0M252.3 517.7h0M252.6 522.8h0M251.8 524.6h0M252.4 521.3h0" stroke="#d0041c" stroke-width="0.8" stroke-linecap="round" opacity="0.55"/>
<path d="M246.0 557.6h0M258.1 556.9h0M259.2 557.0h0M258.7 557.6h0M258.3 557.0h0M246.2 557.0h0M258.8 557.5h0M258.3 558.0h0M245.8 558.1h0M258.5 556.7h0" stroke="#d0041c" stroke-width="0.9" stroke-linecap="round" opacity="0.8"/>
<path d="M252.2 565 V567.6" stroke="#d0041c" stroke-width="0.9"/>
<path d="M226.5 559.5 H239.3 M246.3 557.8 H258.1" stroke="#111" stroke-width="0.4" stroke-dasharray="0.8 0.8" opacity="0.5"/>
<text x="0" y="0" font-size="6" text-anchor="end" fill="#222" stroke="#222" stroke-width="0.13" transform="translate(233.6,578.0) rotate(-45)">Control</text>
<text x="0" y="0" font-size="6" text-anchor="end" fill="#222" stroke="#222" stroke-width="0.13" transform="translate(253,578.0) rotate(-45)">CML-exposed</text>
<path d="M0 0.5 H520 M0.5 0 V613" stroke="#666" stroke-width="1"/><path d="M519.5 0 V613 M0 612.5 H520" stroke="#3c3c3c" stroke-width="1"/>
</svg>
</body></html>
